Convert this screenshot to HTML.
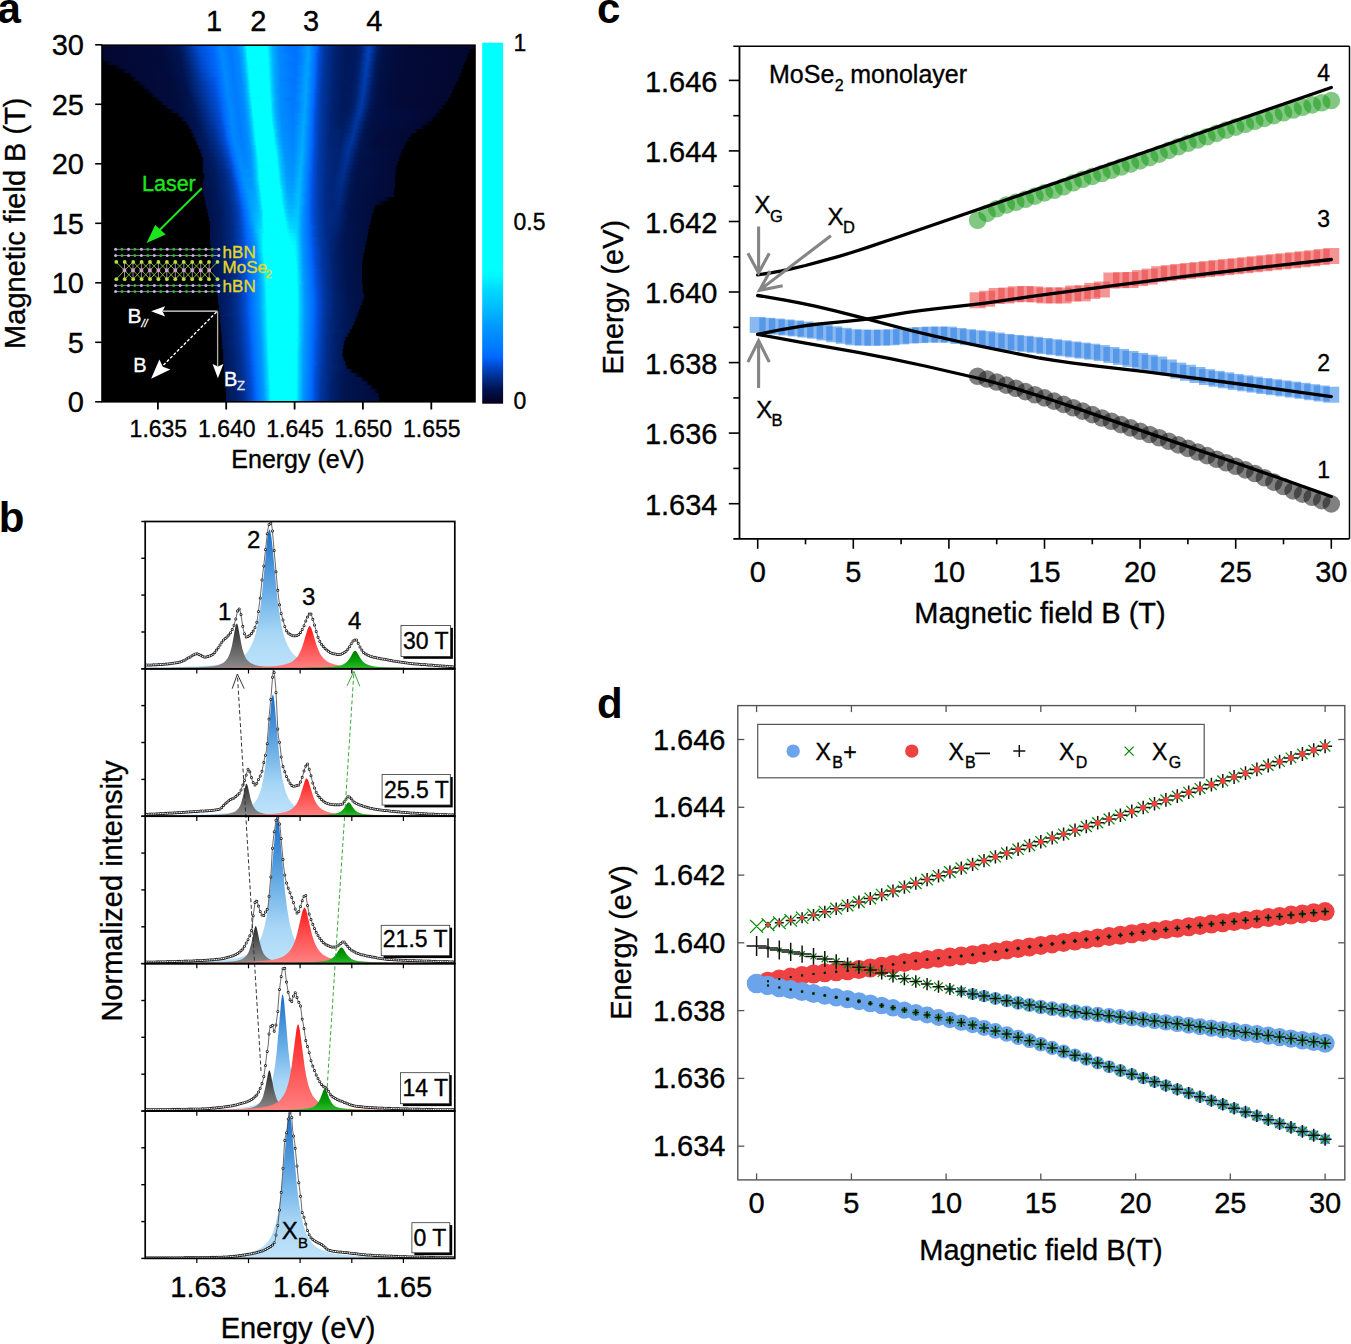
<!DOCTYPE html>
<html><head><meta charset="utf-8"><style>html,body{margin:0;padding:0;background:#fff;overflow:hidden}svg{display:block}text{stroke-width:0.35px}</style></head>
<body><svg width="1351" height="1344" viewBox="0 0 1351 1344" font-family="Liberation Sans, sans-serif">
<defs><linearGradient id="h0"><stop offset="0.001" stop-color="#030832"/><stop offset="0.157" stop-color="#020c3b"/><stop offset="0.205" stop-color="#001553"/><stop offset="0.221" stop-color="#002373"/><stop offset="0.259" stop-color="#004ed7"/><stop offset="0.299" stop-color="#006aff"/><stop offset="0.318" stop-color="#0089ff"/><stop offset="0.342" stop-color="#0076ff"/><stop offset="0.363" stop-color="#0088ff"/><stop offset="0.374" stop-color="#00a6ff"/><stop offset="0.382" stop-color="#00ceff"/><stop offset="0.387" stop-color="#00faff"/><stop offset="0.390" stop-color="#00ffff"/><stop offset="0.441" stop-color="#00ffff"/><stop offset="0.444" stop-color="#00fdff"/><stop offset="0.449" stop-color="#00d5ff"/><stop offset="0.460" stop-color="#00a8ff"/><stop offset="0.476" stop-color="#0088ff"/><stop offset="0.500" stop-color="#0074ff"/><stop offset="0.521" stop-color="#0071ff"/><stop offset="0.532" stop-color="#007aff"/><stop offset="0.554" stop-color="#00a1ff"/><stop offset="0.575" stop-color="#006aff"/><stop offset="0.583" stop-color="#004cd3"/><stop offset="0.597" stop-color="#00369f"/><stop offset="0.626" stop-color="#00216f"/><stop offset="0.658" stop-color="#001859"/><stop offset="0.682" stop-color="#00195c"/><stop offset="0.696" stop-color="#002272"/><stop offset="0.712" stop-color="#003fb4"/><stop offset="0.717" stop-color="#0042bb"/><stop offset="0.739" stop-color="#001b61"/><stop offset="0.757" stop-color="#011046"/><stop offset="0.819" stop-color="#030a37"/><stop offset="0.991" stop-color="#030731"/><stop offset="0.999" stop-color="#01020c"/></linearGradient><linearGradient id="h1"><stop offset="0.001" stop-color="#030832"/><stop offset="0.157" stop-color="#020b3b"/><stop offset="0.205" stop-color="#00144f"/><stop offset="0.224" stop-color="#002373"/><stop offset="0.261" stop-color="#004dd5"/><stop offset="0.299" stop-color="#0068fd"/><stop offset="0.320" stop-color="#008aff"/><stop offset="0.345" stop-color="#0076ff"/><stop offset="0.363" stop-color="#0087ff"/><stop offset="0.377" stop-color="#00adff"/><stop offset="0.390" stop-color="#00ffff"/><stop offset="0.444" stop-color="#00ffff"/><stop offset="0.449" stop-color="#00d8ff"/><stop offset="0.460" stop-color="#00aaff"/><stop offset="0.476" stop-color="#0088ff"/><stop offset="0.500" stop-color="#0075ff"/><stop offset="0.521" stop-color="#0072ff"/><stop offset="0.554" stop-color="#00a1ff"/><stop offset="0.572" stop-color="#006fff"/><stop offset="0.575" stop-color="#0067fd"/><stop offset="0.583" stop-color="#004bd0"/><stop offset="0.597" stop-color="#00359e"/><stop offset="0.623" stop-color="#002271"/><stop offset="0.655" stop-color="#00185a"/><stop offset="0.682" stop-color="#001a5d"/><stop offset="0.696" stop-color="#002475"/><stop offset="0.714" stop-color="#0042ba"/><stop offset="0.720" stop-color="#003daf"/><stop offset="0.739" stop-color="#001a5d"/><stop offset="0.755" stop-color="#011046"/><stop offset="0.814" stop-color="#030a37"/><stop offset="0.983" stop-color="#030731"/><stop offset="0.985" stop-color="#020418"/><stop offset="0.991" stop-color="#000000"/><stop offset="0.999" stop-color="#000000"/></linearGradient><linearGradient id="h2"><stop offset="0.001" stop-color="#030832"/><stop offset="0.157" stop-color="#020b3a"/><stop offset="0.208" stop-color="#00144f"/><stop offset="0.227" stop-color="#002373"/><stop offset="0.264" stop-color="#004cd3"/><stop offset="0.302" stop-color="#0069ff"/><stop offset="0.323" stop-color="#008bff"/><stop offset="0.347" stop-color="#0077ff"/><stop offset="0.366" stop-color="#0089ff"/><stop offset="0.377" stop-color="#00a8ff"/><stop offset="0.385" stop-color="#00d2ff"/><stop offset="0.390" stop-color="#00feff"/><stop offset="0.444" stop-color="#00ffff"/><stop offset="0.452" stop-color="#00ccff"/><stop offset="0.460" stop-color="#00abff"/><stop offset="0.476" stop-color="#0089ff"/><stop offset="0.519" stop-color="#0071ff"/><stop offset="0.529" stop-color="#0079ff"/><stop offset="0.554" stop-color="#00a1ff"/><stop offset="0.572" stop-color="#006eff"/><stop offset="0.580" stop-color="#0050db"/><stop offset="0.597" stop-color="#00359c"/><stop offset="0.623" stop-color="#002270"/><stop offset="0.655" stop-color="#001859"/><stop offset="0.680" stop-color="#00195c"/><stop offset="0.693" stop-color="#002271"/><stop offset="0.709" stop-color="#003eb1"/><stop offset="0.714" stop-color="#0041b8"/><stop offset="0.736" stop-color="#001b60"/><stop offset="0.755" stop-color="#011045"/><stop offset="0.814" stop-color="#030a37"/><stop offset="0.977" stop-color="#030831"/><stop offset="0.985" stop-color="#000000"/><stop offset="0.999" stop-color="#000000"/></linearGradient><linearGradient id="h3"><stop offset="0.001" stop-color="#020625"/><stop offset="0.004" stop-color="#030832"/><stop offset="0.160" stop-color="#020b3b"/><stop offset="0.210" stop-color="#00144f"/><stop offset="0.229" stop-color="#002373"/><stop offset="0.267" stop-color="#004bd1"/><stop offset="0.304" stop-color="#006aff"/><stop offset="0.323" stop-color="#008aff"/><stop offset="0.347" stop-color="#0077ff"/><stop offset="0.366" stop-color="#0087ff"/><stop offset="0.377" stop-color="#00a3ff"/><stop offset="0.385" stop-color="#00cbff"/><stop offset="0.390" stop-color="#00f7ff"/><stop offset="0.393" stop-color="#00ffff"/><stop offset="0.444" stop-color="#00ffff"/><stop offset="0.460" stop-color="#00adff"/><stop offset="0.476" stop-color="#0089ff"/><stop offset="0.519" stop-color="#0072ff"/><stop offset="0.535" stop-color="#0081ff"/><stop offset="0.551" stop-color="#00a2ff"/><stop offset="0.556" stop-color="#009cff"/><stop offset="0.572" stop-color="#006cff"/><stop offset="0.580" stop-color="#004ed8"/><stop offset="0.594" stop-color="#0037a2"/><stop offset="0.623" stop-color="#002270"/><stop offset="0.655" stop-color="#001859"/><stop offset="0.680" stop-color="#001a5d"/><stop offset="0.693" stop-color="#002374"/><stop offset="0.712" stop-color="#0040b7"/><stop offset="0.717" stop-color="#003bac"/><stop offset="0.736" stop-color="#00195c"/><stop offset="0.752" stop-color="#011046"/><stop offset="0.811" stop-color="#030a37"/><stop offset="0.975" stop-color="#030831"/><stop offset="0.980" stop-color="#000000"/><stop offset="0.999" stop-color="#000000"/></linearGradient><linearGradient id="h4"><stop offset="0.001" stop-color="#000000"/><stop offset="0.007" stop-color="#000000"/><stop offset="0.025" stop-color="#030833"/><stop offset="0.162" stop-color="#020b3b"/><stop offset="0.210" stop-color="#00134d"/><stop offset="0.229" stop-color="#00206d"/><stop offset="0.269" stop-color="#004acf"/><stop offset="0.307" stop-color="#006cff"/><stop offset="0.326" stop-color="#008bff"/><stop offset="0.350" stop-color="#0077ff"/><stop offset="0.369" stop-color="#008aff"/><stop offset="0.379" stop-color="#00aaff"/><stop offset="0.387" stop-color="#00d5ff"/><stop offset="0.393" stop-color="#00ffff"/><stop offset="0.444" stop-color="#00ffff"/><stop offset="0.446" stop-color="#00faff"/><stop offset="0.452" stop-color="#00d2ff"/><stop offset="0.460" stop-color="#00afff"/><stop offset="0.476" stop-color="#008aff"/><stop offset="0.500" stop-color="#0076ff"/><stop offset="0.519" stop-color="#0073ff"/><stop offset="0.532" stop-color="#007fff"/><stop offset="0.551" stop-color="#00a2ff"/><stop offset="0.572" stop-color="#006aff"/><stop offset="0.580" stop-color="#004dd5"/><stop offset="0.594" stop-color="#0037a1"/><stop offset="0.623" stop-color="#00216f"/><stop offset="0.653" stop-color="#00185a"/><stop offset="0.677" stop-color="#00195c"/><stop offset="0.690" stop-color="#002270"/><stop offset="0.706" stop-color="#003cae"/><stop offset="0.712" stop-color="#003fb5"/><stop offset="0.733" stop-color="#001b5f"/><stop offset="0.752" stop-color="#011045"/><stop offset="0.811" stop-color="#030a37"/><stop offset="0.969" stop-color="#030831"/><stop offset="0.972" stop-color="#020625"/><stop offset="0.975" stop-color="#000000"/><stop offset="0.999" stop-color="#000000"/></linearGradient><linearGradient id="h5"><stop offset="0.001" stop-color="#000000"/><stop offset="0.031" stop-color="#000000"/><stop offset="0.050" stop-color="#030833"/><stop offset="0.170" stop-color="#020c3b"/><stop offset="0.213" stop-color="#00134d"/><stop offset="0.232" stop-color="#00206d"/><stop offset="0.269" stop-color="#0048c8"/><stop offset="0.310" stop-color="#006dff"/><stop offset="0.326" stop-color="#008aff"/><stop offset="0.350" stop-color="#0078ff"/><stop offset="0.369" stop-color="#0088ff"/><stop offset="0.382" stop-color="#00b2ff"/><stop offset="0.387" stop-color="#00cfff"/><stop offset="0.393" stop-color="#00fcff"/><stop offset="0.444" stop-color="#00ffff"/><stop offset="0.446" stop-color="#00feff"/><stop offset="0.452" stop-color="#00d4ff"/><stop offset="0.462" stop-color="#00a6ff"/><stop offset="0.479" stop-color="#0087ff"/><stop offset="0.519" stop-color="#0073ff"/><stop offset="0.551" stop-color="#00a2ff"/><stop offset="0.572" stop-color="#0069fe"/><stop offset="0.580" stop-color="#004cd2"/><stop offset="0.594" stop-color="#00369f"/><stop offset="0.623" stop-color="#00216f"/><stop offset="0.653" stop-color="#00185a"/><stop offset="0.677" stop-color="#00195d"/><stop offset="0.690" stop-color="#002373"/><stop offset="0.709" stop-color="#003fb4"/><stop offset="0.714" stop-color="#003aa9"/><stop offset="0.733" stop-color="#00195b"/><stop offset="0.749" stop-color="#011046"/><stop offset="0.808" stop-color="#030a37"/><stop offset="0.966" stop-color="#030831"/><stop offset="0.969" stop-color="#01020c"/><stop offset="0.972" stop-color="#000000"/><stop offset="0.999" stop-color="#000000"/></linearGradient><linearGradient id="h6"><stop offset="0.001" stop-color="#000000"/><stop offset="0.052" stop-color="#000000"/><stop offset="0.058" stop-color="#01041a"/><stop offset="0.068" stop-color="#030934"/><stop offset="0.173" stop-color="#020c3c"/><stop offset="0.216" stop-color="#00134d"/><stop offset="0.235" stop-color="#00206d"/><stop offset="0.272" stop-color="#0047c6"/><stop offset="0.310" stop-color="#006aff"/><stop offset="0.328" stop-color="#008aff"/><stop offset="0.353" stop-color="#0078ff"/><stop offset="0.371" stop-color="#008bff"/><stop offset="0.382" stop-color="#00adff"/><stop offset="0.395" stop-color="#00ffff"/><stop offset="0.446" stop-color="#00ffff"/><stop offset="0.452" stop-color="#00d7ff"/><stop offset="0.462" stop-color="#00a8ff"/><stop offset="0.479" stop-color="#0087ff"/><stop offset="0.519" stop-color="#0074ff"/><stop offset="0.551" stop-color="#00a2ff"/><stop offset="0.570" stop-color="#006eff"/><stop offset="0.572" stop-color="#0066fb"/><stop offset="0.580" stop-color="#004acf"/><stop offset="0.594" stop-color="#00359e"/><stop offset="0.621" stop-color="#002271"/><stop offset="0.650" stop-color="#00195b"/><stop offset="0.674" stop-color="#00195c"/><stop offset="0.688" stop-color="#00216f"/><stop offset="0.704" stop-color="#003bab"/><stop offset="0.709" stop-color="#003eb2"/><stop offset="0.731" stop-color="#001a5e"/><stop offset="0.749" stop-color="#011045"/><stop offset="0.808" stop-color="#030a37"/><stop offset="0.961" stop-color="#030831"/><stop offset="0.966" stop-color="#000000"/><stop offset="0.999" stop-color="#000000"/></linearGradient><linearGradient id="h7"><stop offset="0.001" stop-color="#000000"/><stop offset="0.071" stop-color="#000000"/><stop offset="0.082" stop-color="#030934"/><stop offset="0.178" stop-color="#020c3c"/><stop offset="0.218" stop-color="#00134e"/><stop offset="0.237" stop-color="#00206c"/><stop offset="0.275" stop-color="#0046c4"/><stop offset="0.312" stop-color="#006cff"/><stop offset="0.331" stop-color="#008bff"/><stop offset="0.353" stop-color="#0078ff"/><stop offset="0.371" stop-color="#0089ff"/><stop offset="0.382" stop-color="#00a8ff"/><stop offset="0.390" stop-color="#00d3ff"/><stop offset="0.395" stop-color="#00ffff"/><stop offset="0.446" stop-color="#00ffff"/><stop offset="0.454" stop-color="#00ccff"/><stop offset="0.462" stop-color="#00aaff"/><stop offset="0.479" stop-color="#0088ff"/><stop offset="0.519" stop-color="#0075ff"/><stop offset="0.532" stop-color="#0083ff"/><stop offset="0.548" stop-color="#00a3ff"/><stop offset="0.554" stop-color="#009dff"/><stop offset="0.570" stop-color="#006dff"/><stop offset="0.578" stop-color="#004fda"/><stop offset="0.594" stop-color="#00359c"/><stop offset="0.621" stop-color="#002270"/><stop offset="0.650" stop-color="#00195b"/><stop offset="0.674" stop-color="#00195d"/><stop offset="0.688" stop-color="#002372"/><stop offset="0.706" stop-color="#003db1"/><stop offset="0.712" stop-color="#0039a5"/><stop offset="0.731" stop-color="#00185a"/><stop offset="0.749" stop-color="#010f44"/><stop offset="0.808" stop-color="#030a37"/><stop offset="0.956" stop-color="#030831"/><stop offset="0.964" stop-color="#000000"/><stop offset="0.999" stop-color="#000000"/></linearGradient><linearGradient id="h8"><stop offset="0.001" stop-color="#000000"/><stop offset="0.082" stop-color="#000000"/><stop offset="0.092" stop-color="#030935"/><stop offset="0.184" stop-color="#020c3d"/><stop offset="0.221" stop-color="#00134e"/><stop offset="0.240" stop-color="#00206c"/><stop offset="0.277" stop-color="#0045c3"/><stop offset="0.302" stop-color="#0057e6"/><stop offset="0.315" stop-color="#006dff"/><stop offset="0.331" stop-color="#008aff"/><stop offset="0.355" stop-color="#0079ff"/><stop offset="0.374" stop-color="#008cff"/><stop offset="0.385" stop-color="#00b0ff"/><stop offset="0.390" stop-color="#00ccff"/><stop offset="0.395" stop-color="#00faff"/><stop offset="0.398" stop-color="#00ffff"/><stop offset="0.446" stop-color="#00ffff"/><stop offset="0.462" stop-color="#00abff"/><stop offset="0.479" stop-color="#0088ff"/><stop offset="0.500" stop-color="#0077ff"/><stop offset="0.519" stop-color="#0076ff"/><stop offset="0.548" stop-color="#00a3ff"/><stop offset="0.570" stop-color="#006bff"/><stop offset="0.578" stop-color="#004ed7"/><stop offset="0.591" stop-color="#0037a2"/><stop offset="0.621" stop-color="#002270"/><stop offset="0.650" stop-color="#00195b"/><stop offset="0.672" stop-color="#00195c"/><stop offset="0.685" stop-color="#00216e"/><stop offset="0.701" stop-color="#003aa8"/><stop offset="0.706" stop-color="#003cae"/><stop offset="0.728" stop-color="#001a5d"/><stop offset="0.747" stop-color="#010f45"/><stop offset="0.803" stop-color="#030a37"/><stop offset="0.953" stop-color="#030831"/><stop offset="0.958" stop-color="#000000"/><stop offset="0.999" stop-color="#000000"/></linearGradient><linearGradient id="h9"><stop offset="0.001" stop-color="#000000"/><stop offset="0.092" stop-color="#000000"/><stop offset="0.098" stop-color="#01020d"/><stop offset="0.106" stop-color="#030935"/><stop offset="0.186" stop-color="#020c3d"/><stop offset="0.224" stop-color="#00134e"/><stop offset="0.299" stop-color="#0052de"/><stop offset="0.315" stop-color="#006aff"/><stop offset="0.334" stop-color="#008bff"/><stop offset="0.355" stop-color="#0079ff"/><stop offset="0.374" stop-color="#008aff"/><stop offset="0.385" stop-color="#00aaff"/><stop offset="0.398" stop-color="#00ffff"/><stop offset="0.446" stop-color="#00ffff"/><stop offset="0.449" stop-color="#00fbff"/><stop offset="0.454" stop-color="#00d1ff"/><stop offset="0.462" stop-color="#00adff"/><stop offset="0.479" stop-color="#0089ff"/><stop offset="0.516" stop-color="#0075ff"/><stop offset="0.529" stop-color="#0081ff"/><stop offset="0.548" stop-color="#00a4ff"/><stop offset="0.570" stop-color="#006aff"/><stop offset="0.578" stop-color="#004dd4"/><stop offset="0.591" stop-color="#0037a1"/><stop offset="0.621" stop-color="#00216f"/><stop offset="0.650" stop-color="#00195b"/><stop offset="0.672" stop-color="#00195d"/><stop offset="0.685" stop-color="#002271"/><stop offset="0.704" stop-color="#003cae"/><stop offset="0.709" stop-color="#0037a2"/><stop offset="0.728" stop-color="#001859"/><stop offset="0.747" stop-color="#010f44"/><stop offset="0.803" stop-color="#030a37"/><stop offset="0.948" stop-color="#030831"/><stop offset="0.953" stop-color="#000000"/><stop offset="0.999" stop-color="#000000"/></linearGradient><linearGradient id="h10"><stop offset="0.001" stop-color="#000000"/><stop offset="0.106" stop-color="#000000"/><stop offset="0.119" stop-color="#030936"/><stop offset="0.192" stop-color="#020d3e"/><stop offset="0.227" stop-color="#00134e"/><stop offset="0.302" stop-color="#0051de"/><stop offset="0.318" stop-color="#006cff"/><stop offset="0.334" stop-color="#008aff"/><stop offset="0.358" stop-color="#007aff"/><stop offset="0.377" stop-color="#008dff"/><stop offset="0.382" stop-color="#009aff"/><stop offset="0.390" stop-color="#00c1ff"/><stop offset="0.398" stop-color="#00feff"/><stop offset="0.446" stop-color="#00ffff"/><stop offset="0.449" stop-color="#00feff"/><stop offset="0.454" stop-color="#00d4ff"/><stop offset="0.465" stop-color="#00a5ff"/><stop offset="0.479" stop-color="#0089ff"/><stop offset="0.516" stop-color="#0076ff"/><stop offset="0.548" stop-color="#00a4ff"/><stop offset="0.570" stop-color="#0068fd"/><stop offset="0.578" stop-color="#004bd1"/><stop offset="0.591" stop-color="#00369f"/><stop offset="0.621" stop-color="#00216f"/><stop offset="0.650" stop-color="#00185a"/><stop offset="0.672" stop-color="#001a5e"/><stop offset="0.682" stop-color="#00216e"/><stop offset="0.698" stop-color="#0039a5"/><stop offset="0.704" stop-color="#003bab"/><stop offset="0.725" stop-color="#00195c"/><stop offset="0.744" stop-color="#010f44"/><stop offset="0.800" stop-color="#030a37"/><stop offset="0.942" stop-color="#030831"/><stop offset="0.948" stop-color="#000000"/><stop offset="0.999" stop-color="#000000"/></linearGradient><linearGradient id="h11"><stop offset="0.001" stop-color="#000000"/><stop offset="0.119" stop-color="#000000"/><stop offset="0.130" stop-color="#030a36"/><stop offset="0.197" stop-color="#020d3e"/><stop offset="0.229" stop-color="#00134e"/><stop offset="0.304" stop-color="#0051dd"/><stop offset="0.320" stop-color="#006dff"/><stop offset="0.336" stop-color="#008aff"/><stop offset="0.358" stop-color="#007aff"/><stop offset="0.377" stop-color="#008aff"/><stop offset="0.387" stop-color="#00adff"/><stop offset="0.395" stop-color="#00dcff"/><stop offset="0.398" stop-color="#00f7ff"/><stop offset="0.401" stop-color="#00ffff"/><stop offset="0.449" stop-color="#00ffff"/><stop offset="0.454" stop-color="#00d7ff"/><stop offset="0.462" stop-color="#00b1ff"/><stop offset="0.471" stop-color="#0096ff"/><stop offset="0.479" stop-color="#008aff"/><stop offset="0.516" stop-color="#0077ff"/><stop offset="0.529" stop-color="#0084ff"/><stop offset="0.546" stop-color="#00a4ff"/><stop offset="0.551" stop-color="#009eff"/><stop offset="0.567" stop-color="#006eff"/><stop offset="0.575" stop-color="#0050dc"/><stop offset="0.591" stop-color="#00359e"/><stop offset="0.618" stop-color="#002271"/><stop offset="0.647" stop-color="#00195b"/><stop offset="0.669" stop-color="#00195d"/><stop offset="0.682" stop-color="#002270"/><stop offset="0.701" stop-color="#003baa"/><stop offset="0.706" stop-color="#00369f"/><stop offset="0.725" stop-color="#001758"/><stop offset="0.744" stop-color="#010f43"/><stop offset="0.800" stop-color="#030a37"/><stop offset="0.937" stop-color="#030831"/><stop offset="0.942" stop-color="#000000"/><stop offset="0.999" stop-color="#000000"/></linearGradient><linearGradient id="h12"><stop offset="0.001" stop-color="#000000"/><stop offset="0.130" stop-color="#000000"/><stop offset="0.141" stop-color="#030a37"/><stop offset="0.200" stop-color="#020d3e"/><stop offset="0.232" stop-color="#00134e"/><stop offset="0.304" stop-color="#004ed8"/><stop offset="0.320" stop-color="#006bff"/><stop offset="0.336" stop-color="#0089ff"/><stop offset="0.361" stop-color="#007aff"/><stop offset="0.379" stop-color="#008dff"/><stop offset="0.390" stop-color="#00b5ff"/><stop offset="0.401" stop-color="#00ffff"/><stop offset="0.449" stop-color="#00ffff"/><stop offset="0.457" stop-color="#00cbff"/><stop offset="0.465" stop-color="#00a8ff"/><stop offset="0.479" stop-color="#008aff"/><stop offset="0.516" stop-color="#0078ff"/><stop offset="0.546" stop-color="#00a5ff"/><stop offset="0.567" stop-color="#006cff"/><stop offset="0.575" stop-color="#004fd9"/><stop offset="0.588" stop-color="#0038a4"/><stop offset="0.618" stop-color="#002271"/><stop offset="0.647" stop-color="#00195b"/><stop offset="0.669" stop-color="#001a5e"/><stop offset="0.680" stop-color="#00206d"/><stop offset="0.696" stop-color="#0037a2"/><stop offset="0.701" stop-color="#003aa8"/><stop offset="0.723" stop-color="#00195b"/><stop offset="0.741" stop-color="#010f44"/><stop offset="0.795" stop-color="#020a37"/><stop offset="0.932" stop-color="#030831"/><stop offset="0.937" stop-color="#000000"/><stop offset="0.999" stop-color="#000000"/></linearGradient><linearGradient id="h13"><stop offset="0.001" stop-color="#000000"/><stop offset="0.141" stop-color="#000000"/><stop offset="0.154" stop-color="#020a38"/><stop offset="0.210" stop-color="#020e41"/><stop offset="0.240" stop-color="#001654"/><stop offset="0.307" stop-color="#004ed8"/><stop offset="0.323" stop-color="#006cff"/><stop offset="0.339" stop-color="#008aff"/><stop offset="0.361" stop-color="#007aff"/><stop offset="0.379" stop-color="#008bff"/><stop offset="0.390" stop-color="#00b0ff"/><stop offset="0.395" stop-color="#00cdff"/><stop offset="0.401" stop-color="#00fcff"/><stop offset="0.449" stop-color="#00ffff"/><stop offset="0.465" stop-color="#00aaff"/><stop offset="0.479" stop-color="#008bff"/><stop offset="0.500" stop-color="#0079ff"/><stop offset="0.516" stop-color="#0079ff"/><stop offset="0.546" stop-color="#00a5ff"/><stop offset="0.567" stop-color="#006aff"/><stop offset="0.575" stop-color="#004ed6"/><stop offset="0.588" stop-color="#0037a2"/><stop offset="0.618" stop-color="#002270"/><stop offset="0.645" stop-color="#00195c"/><stop offset="0.666" stop-color="#00195d"/><stop offset="0.680" stop-color="#002270"/><stop offset="0.698" stop-color="#0039a7"/><stop offset="0.723" stop-color="#001757"/><stop offset="0.741" stop-color="#010f43"/><stop offset="0.795" stop-color="#020a37"/><stop offset="0.926" stop-color="#030831"/><stop offset="0.932" stop-color="#000000"/><stop offset="0.999" stop-color="#000000"/></linearGradient><linearGradient id="h14"><stop offset="0.001" stop-color="#000000"/><stop offset="0.154" stop-color="#000000"/><stop offset="0.165" stop-color="#020b39"/><stop offset="0.216" stop-color="#010e42"/><stop offset="0.245" stop-color="#001858"/><stop offset="0.310" stop-color="#004fd9"/><stop offset="0.326" stop-color="#006eff"/><stop offset="0.342" stop-color="#008aff"/><stop offset="0.363" stop-color="#007aff"/><stop offset="0.379" stop-color="#0089ff"/><stop offset="0.390" stop-color="#00aaff"/><stop offset="0.403" stop-color="#00ffff"/><stop offset="0.449" stop-color="#00ffff"/><stop offset="0.452" stop-color="#00fbff"/><stop offset="0.457" stop-color="#00d0ff"/><stop offset="0.465" stop-color="#00abff"/><stop offset="0.479" stop-color="#008bff"/><stop offset="0.513" stop-color="#0078ff"/><stop offset="0.527" stop-color="#0084ff"/><stop offset="0.546" stop-color="#00a5ff"/><stop offset="0.567" stop-color="#0069ff"/><stop offset="0.575" stop-color="#004cd3"/><stop offset="0.588" stop-color="#0037a1"/><stop offset="0.618" stop-color="#00216f"/><stop offset="0.645" stop-color="#00195c"/><stop offset="0.666" stop-color="#001a5e"/><stop offset="0.677" stop-color="#00206c"/><stop offset="0.693" stop-color="#0036a0"/><stop offset="0.698" stop-color="#0038a5"/><stop offset="0.720" stop-color="#00185a"/><stop offset="0.739" stop-color="#010f44"/><stop offset="0.790" stop-color="#020a37"/><stop offset="0.916" stop-color="#030832"/><stop offset="0.926" stop-color="#000000"/><stop offset="0.999" stop-color="#000000"/></linearGradient><linearGradient id="h15"><stop offset="0.001" stop-color="#000000"/><stop offset="0.165" stop-color="#000000"/><stop offset="0.168" stop-color="#01030e"/><stop offset="0.170" stop-color="#01030e"/><stop offset="0.178" stop-color="#020b3a"/><stop offset="0.224" stop-color="#010f44"/><stop offset="0.251" stop-color="#00195c"/><stop offset="0.312" stop-color="#004fd9"/><stop offset="0.326" stop-color="#006bff"/><stop offset="0.342" stop-color="#008aff"/><stop offset="0.363" stop-color="#007bff"/><stop offset="0.382" stop-color="#008cff"/><stop offset="0.393" stop-color="#00b2ff"/><stop offset="0.398" stop-color="#00d1ff"/><stop offset="0.403" stop-color="#00ffff"/><stop offset="0.452" stop-color="#00ffff"/><stop offset="0.457" stop-color="#00d3ff"/><stop offset="0.465" stop-color="#00adff"/><stop offset="0.479" stop-color="#008cff"/><stop offset="0.513" stop-color="#0079ff"/><stop offset="0.527" stop-color="#0085ff"/><stop offset="0.543" stop-color="#00a6ff"/><stop offset="0.548" stop-color="#009fff"/><stop offset="0.564" stop-color="#006eff"/><stop offset="0.567" stop-color="#0066fb"/><stop offset="0.575" stop-color="#004bd1"/><stop offset="0.588" stop-color="#0036a0"/><stop offset="0.618" stop-color="#00216f"/><stop offset="0.642" stop-color="#001a5d"/><stop offset="0.664" stop-color="#001a5e"/><stop offset="0.674" stop-color="#00206c"/><stop offset="0.690" stop-color="#00359e"/><stop offset="0.696" stop-color="#0038a4"/><stop offset="0.717" stop-color="#00185a"/><stop offset="0.736" stop-color="#010f44"/><stop offset="0.787" stop-color="#020a38"/><stop offset="0.908" stop-color="#030832"/><stop offset="0.918" stop-color="#000000"/><stop offset="0.999" stop-color="#000000"/></linearGradient><linearGradient id="h16"><stop offset="0.001" stop-color="#000000"/><stop offset="0.178" stop-color="#000000"/><stop offset="0.186" stop-color="#01061d"/><stop offset="0.189" stop-color="#01061d"/><stop offset="0.194" stop-color="#020c3c"/><stop offset="0.237" stop-color="#01124a"/><stop offset="0.259" stop-color="#001d65"/><stop offset="0.312" stop-color="#004cd3"/><stop offset="0.328" stop-color="#006dff"/><stop offset="0.345" stop-color="#008aff"/><stop offset="0.366" stop-color="#007aff"/><stop offset="0.382" stop-color="#008aff"/><stop offset="0.393" stop-color="#00acff"/><stop offset="0.401" stop-color="#00ddff"/><stop offset="0.403" stop-color="#00f9ff"/><stop offset="0.406" stop-color="#00ffff"/><stop offset="0.452" stop-color="#00ffff"/><stop offset="0.457" stop-color="#00d7ff"/><stop offset="0.465" stop-color="#00b0ff"/><stop offset="0.479" stop-color="#008cff"/><stop offset="0.513" stop-color="#007aff"/><stop offset="0.527" stop-color="#0087ff"/><stop offset="0.543" stop-color="#00a6ff"/><stop offset="0.564" stop-color="#006dff"/><stop offset="0.572" stop-color="#0050dc"/><stop offset="0.588" stop-color="#00369e"/><stop offset="0.615" stop-color="#002272"/><stop offset="0.639" stop-color="#001a5f"/><stop offset="0.661" stop-color="#001a5f"/><stop offset="0.672" stop-color="#00206d"/><stop offset="0.688" stop-color="#00359e"/><stop offset="0.693" stop-color="#0037a2"/><stop offset="0.714" stop-color="#001859"/><stop offset="0.733" stop-color="#010f44"/><stop offset="0.899" stop-color="#030832"/><stop offset="0.905" stop-color="#020419"/><stop offset="0.908" stop-color="#000000"/><stop offset="0.999" stop-color="#000000"/></linearGradient><linearGradient id="h17"><stop offset="0.001" stop-color="#000000"/><stop offset="0.197" stop-color="#000000"/><stop offset="0.200" stop-color="#00030f"/><stop offset="0.202" stop-color="#00030f"/><stop offset="0.210" stop-color="#020d3e"/><stop offset="0.243" stop-color="#00134c"/><stop offset="0.259" stop-color="#001b60"/><stop offset="0.315" stop-color="#004cd3"/><stop offset="0.328" stop-color="#006aff"/><stop offset="0.331" stop-color="#0070ff"/><stop offset="0.345" stop-color="#0089ff"/><stop offset="0.366" stop-color="#007aff"/><stop offset="0.385" stop-color="#008cff"/><stop offset="0.395" stop-color="#00b3ff"/><stop offset="0.406" stop-color="#00ffff"/><stop offset="0.452" stop-color="#00ffff"/><stop offset="0.454" stop-color="#00f7ff"/><stop offset="0.460" stop-color="#00cdff"/><stop offset="0.468" stop-color="#00a8ff"/><stop offset="0.481" stop-color="#008aff"/><stop offset="0.513" stop-color="#007bff"/><stop offset="0.543" stop-color="#00a6ff"/><stop offset="0.564" stop-color="#006bff"/><stop offset="0.572" stop-color="#004fd9"/><stop offset="0.586" stop-color="#0038a5"/><stop offset="0.615" stop-color="#002271"/><stop offset="0.639" stop-color="#001b5f"/><stop offset="0.658" stop-color="#001b60"/><stop offset="0.669" stop-color="#00216e"/><stop offset="0.688" stop-color="#0037a2"/><stop offset="0.693" stop-color="#00349b"/><stop offset="0.712" stop-color="#001858"/><stop offset="0.731" stop-color="#010f44"/><stop offset="0.891" stop-color="#030832"/><stop offset="0.899" stop-color="#000000"/><stop offset="0.999" stop-color="#000000"/></linearGradient><linearGradient id="h18"><stop offset="0.001" stop-color="#000000"/><stop offset="0.210" stop-color="#000000"/><stop offset="0.221" stop-color="#020e41"/><stop offset="0.248" stop-color="#00134e"/><stop offset="0.267" stop-color="#001f69"/><stop offset="0.315" stop-color="#0049cc"/><stop offset="0.331" stop-color="#006cff"/><stop offset="0.347" stop-color="#008aff"/><stop offset="0.369" stop-color="#007aff"/><stop offset="0.385" stop-color="#008aff"/><stop offset="0.395" stop-color="#00adff"/><stop offset="0.403" stop-color="#00deff"/><stop offset="0.406" stop-color="#00fbff"/><stop offset="0.409" stop-color="#00ffff"/><stop offset="0.452" stop-color="#00ffff"/><stop offset="0.454" stop-color="#00feff"/><stop offset="0.460" stop-color="#00d3ff"/><stop offset="0.468" stop-color="#00adff"/><stop offset="0.481" stop-color="#008cff"/><stop offset="0.513" stop-color="#007cff"/><stop offset="0.543" stop-color="#00a7ff"/><stop offset="0.564" stop-color="#006aff"/><stop offset="0.572" stop-color="#004ed7"/><stop offset="0.586" stop-color="#0038a4"/><stop offset="0.615" stop-color="#002271"/><stop offset="0.637" stop-color="#001b61"/><stop offset="0.655" stop-color="#001c62"/><stop offset="0.666" stop-color="#00216f"/><stop offset="0.685" stop-color="#0037a2"/><stop offset="0.690" stop-color="#003399"/><stop offset="0.709" stop-color="#001758"/><stop offset="0.728" stop-color="#010f44"/><stop offset="0.881" stop-color="#030832"/><stop offset="0.891" stop-color="#000000"/><stop offset="0.999" stop-color="#000000"/></linearGradient><linearGradient id="h19"><stop offset="0.001" stop-color="#000000"/><stop offset="0.221" stop-color="#000000"/><stop offset="0.232" stop-color="#010f44"/><stop offset="0.253" stop-color="#001451"/><stop offset="0.277" stop-color="#002476"/><stop offset="0.318" stop-color="#0049cd"/><stop offset="0.331" stop-color="#0069fe"/><stop offset="0.334" stop-color="#006fff"/><stop offset="0.347" stop-color="#0089ff"/><stop offset="0.369" stop-color="#007bff"/><stop offset="0.387" stop-color="#008dff"/><stop offset="0.398" stop-color="#00b6ff"/><stop offset="0.409" stop-color="#00ffff"/><stop offset="0.454" stop-color="#00ffff"/><stop offset="0.468" stop-color="#00b2ff"/><stop offset="0.481" stop-color="#008eff"/><stop offset="0.513" stop-color="#007eff"/><stop offset="0.524" stop-color="#0087ff"/><stop offset="0.540" stop-color="#00a8ff"/><stop offset="0.546" stop-color="#00a1ff"/><stop offset="0.564" stop-color="#0069ff"/><stop offset="0.572" stop-color="#004dd5"/><stop offset="0.586" stop-color="#0038a3"/><stop offset="0.613" stop-color="#002474"/><stop offset="0.634" stop-color="#001c63"/><stop offset="0.653" stop-color="#001c63"/><stop offset="0.664" stop-color="#002271"/><stop offset="0.682" stop-color="#0037a1"/><stop offset="0.706" stop-color="#001757"/><stop offset="0.725" stop-color="#010f44"/><stop offset="0.867" stop-color="#030833"/><stop offset="0.881" stop-color="#000000"/><stop offset="0.999" stop-color="#000000"/></linearGradient><linearGradient id="h20"><stop offset="0.001" stop-color="#000000"/><stop offset="0.229" stop-color="#000000"/><stop offset="0.237" stop-color="#011045"/><stop offset="0.261" stop-color="#001758"/><stop offset="0.296" stop-color="#003194"/><stop offset="0.323" stop-color="#004ed7"/><stop offset="0.334" stop-color="#006bff"/><stop offset="0.350" stop-color="#0089ff"/><stop offset="0.371" stop-color="#007bff"/><stop offset="0.387" stop-color="#008bff"/><stop offset="0.398" stop-color="#00b0ff"/><stop offset="0.403" stop-color="#00cfff"/><stop offset="0.409" stop-color="#00feff"/><stop offset="0.454" stop-color="#00ffff"/><stop offset="0.457" stop-color="#00fdff"/><stop offset="0.462" stop-color="#00d2ff"/><stop offset="0.471" stop-color="#00adff"/><stop offset="0.484" stop-color="#008cff"/><stop offset="0.513" stop-color="#007fff"/><stop offset="0.540" stop-color="#00a9ff"/><stop offset="0.562" stop-color="#006fff"/><stop offset="0.564" stop-color="#0067fc"/><stop offset="0.572" stop-color="#004cd3"/><stop offset="0.586" stop-color="#0037a2"/><stop offset="0.613" stop-color="#002474"/><stop offset="0.634" stop-color="#001d64"/><stop offset="0.650" stop-color="#001d65"/><stop offset="0.661" stop-color="#002372"/><stop offset="0.680" stop-color="#0036a0"/><stop offset="0.704" stop-color="#001757"/><stop offset="0.723" stop-color="#010f44"/><stop offset="0.851" stop-color="#030933"/><stop offset="0.857" stop-color="#020626"/><stop offset="0.865" stop-color="#000000"/><stop offset="0.999" stop-color="#000000"/></linearGradient><linearGradient id="h21"><stop offset="0.001" stop-color="#000000"/><stop offset="0.235" stop-color="#000000"/><stop offset="0.243" stop-color="#011047"/><stop offset="0.264" stop-color="#001757"/><stop offset="0.299" stop-color="#003092"/><stop offset="0.326" stop-color="#004fd9"/><stop offset="0.336" stop-color="#006dff"/><stop offset="0.350" stop-color="#0089ff"/><stop offset="0.371" stop-color="#007cff"/><stop offset="0.390" stop-color="#008fff"/><stop offset="0.398" stop-color="#00abff"/><stop offset="0.406" stop-color="#00daff"/><stop offset="0.409" stop-color="#00f7ff"/><stop offset="0.412" stop-color="#00ffff"/><stop offset="0.457" stop-color="#00ffff"/><stop offset="0.471" stop-color="#00b2ff"/><stop offset="0.484" stop-color="#008eff"/><stop offset="0.513" stop-color="#0080ff"/><stop offset="0.540" stop-color="#00a9ff"/><stop offset="0.562" stop-color="#006dff"/><stop offset="0.572" stop-color="#004bd1"/><stop offset="0.586" stop-color="#0037a2"/><stop offset="0.613" stop-color="#002475"/><stop offset="0.647" stop-color="#001e66"/><stop offset="0.658" stop-color="#002374"/><stop offset="0.677" stop-color="#0036a0"/><stop offset="0.698" stop-color="#00195c"/><stop offset="0.709" stop-color="#00124b"/><stop offset="0.749" stop-color="#020c3b"/><stop offset="0.838" stop-color="#030934"/><stop offset="0.846" stop-color="#01020d"/><stop offset="0.851" stop-color="#000000"/><stop offset="0.999" stop-color="#000000"/></linearGradient><linearGradient id="h22"><stop offset="0.001" stop-color="#000000"/><stop offset="0.240" stop-color="#000000"/><stop offset="0.248" stop-color="#011148"/><stop offset="0.272" stop-color="#001a5e"/><stop offset="0.304" stop-color="#003296"/><stop offset="0.326" stop-color="#004bd1"/><stop offset="0.336" stop-color="#006aff"/><stop offset="0.339" stop-color="#0070ff"/><stop offset="0.353" stop-color="#0089ff"/><stop offset="0.374" stop-color="#007cff"/><stop offset="0.390" stop-color="#008dff"/><stop offset="0.401" stop-color="#00b4ff"/><stop offset="0.412" stop-color="#00ffff"/><stop offset="0.457" stop-color="#00ffff"/><stop offset="0.460" stop-color="#00fdff"/><stop offset="0.465" stop-color="#00d2ff"/><stop offset="0.473" stop-color="#00adff"/><stop offset="0.484" stop-color="#0090ff"/><stop offset="0.513" stop-color="#0082ff"/><stop offset="0.540" stop-color="#00aaff"/><stop offset="0.562" stop-color="#006cff"/><stop offset="0.570" stop-color="#0050dc"/><stop offset="0.583" stop-color="#003aa8"/><stop offset="0.610" stop-color="#002578"/><stop offset="0.645" stop-color="#001e68"/><stop offset="0.674" stop-color="#00369f"/><stop offset="0.693" stop-color="#001c63"/><stop offset="0.704" stop-color="#00134d"/><stop offset="0.741" stop-color="#020c3c"/><stop offset="0.824" stop-color="#030934"/><stop offset="0.835" stop-color="#000000"/><stop offset="0.999" stop-color="#000000"/></linearGradient><linearGradient id="h23"><stop offset="0.001" stop-color="#000000"/><stop offset="0.245" stop-color="#000000"/><stop offset="0.253" stop-color="#01124a"/><stop offset="0.275" stop-color="#001a5e"/><stop offset="0.307" stop-color="#003295"/><stop offset="0.328" stop-color="#004cd3"/><stop offset="0.339" stop-color="#006cff"/><stop offset="0.353" stop-color="#0088ff"/><stop offset="0.374" stop-color="#007dff"/><stop offset="0.390" stop-color="#008bff"/><stop offset="0.401" stop-color="#00aeff"/><stop offset="0.406" stop-color="#00ccff"/><stop offset="0.412" stop-color="#00fbff"/><stop offset="0.414" stop-color="#00ffff"/><stop offset="0.460" stop-color="#00ffff"/><stop offset="0.471" stop-color="#00beff"/><stop offset="0.484" stop-color="#0092ff"/><stop offset="0.513" stop-color="#0083ff"/><stop offset="0.538" stop-color="#00abff"/><stop offset="0.562" stop-color="#006bff"/><stop offset="0.570" stop-color="#004fdb"/><stop offset="0.583" stop-color="#003aa8"/><stop offset="0.610" stop-color="#002578"/><stop offset="0.642" stop-color="#001f6a"/><stop offset="0.672" stop-color="#00369e"/><stop offset="0.690" stop-color="#001c62"/><stop offset="0.701" stop-color="#00134d"/><stop offset="0.739" stop-color="#020c3c"/><stop offset="0.819" stop-color="#030935"/><stop offset="0.822" stop-color="#01041a"/><stop offset="0.827" stop-color="#000000"/><stop offset="0.999" stop-color="#000000"/></linearGradient><linearGradient id="h24"><stop offset="0.001" stop-color="#000000"/><stop offset="0.251" stop-color="#000000"/><stop offset="0.256" stop-color="#01124a"/><stop offset="0.280" stop-color="#001b61"/><stop offset="0.310" stop-color="#003193"/><stop offset="0.331" stop-color="#004cd2"/><stop offset="0.342" stop-color="#006cff"/><stop offset="0.355" stop-color="#0088ff"/><stop offset="0.377" stop-color="#007eff"/><stop offset="0.393" stop-color="#008eff"/><stop offset="0.403" stop-color="#00b5ff"/><stop offset="0.414" stop-color="#00ffff"/><stop offset="0.460" stop-color="#00ffff"/><stop offset="0.462" stop-color="#00fdff"/><stop offset="0.468" stop-color="#00d3ff"/><stop offset="0.476" stop-color="#00aeff"/><stop offset="0.487" stop-color="#0091ff"/><stop offset="0.513" stop-color="#0085ff"/><stop offset="0.538" stop-color="#00acff"/><stop offset="0.562" stop-color="#006aff"/><stop offset="0.570" stop-color="#004fd9"/><stop offset="0.583" stop-color="#0039a7"/><stop offset="0.610" stop-color="#002578"/><stop offset="0.639" stop-color="#00206c"/><stop offset="0.669" stop-color="#00359c"/><stop offset="0.688" stop-color="#001b61"/><stop offset="0.698" stop-color="#00134d"/><stop offset="0.733" stop-color="#020c3d"/><stop offset="0.811" stop-color="#030935"/><stop offset="0.816" stop-color="#01051a"/><stop offset="0.819" stop-color="#000000"/><stop offset="0.999" stop-color="#000000"/></linearGradient><linearGradient id="h25"><stop offset="0.001" stop-color="#000000"/><stop offset="0.256" stop-color="#000000"/><stop offset="0.259" stop-color="#000d38"/><stop offset="0.261" stop-color="#00124b"/><stop offset="0.286" stop-color="#001d64"/><stop offset="0.315" stop-color="#003296"/><stop offset="0.334" stop-color="#004bd0"/><stop offset="0.345" stop-color="#006cff"/><stop offset="0.358" stop-color="#0089ff"/><stop offset="0.379" stop-color="#007fff"/><stop offset="0.395" stop-color="#0091ff"/><stop offset="0.403" stop-color="#00aeff"/><stop offset="0.412" stop-color="#00deff"/><stop offset="0.414" stop-color="#00f9ff"/><stop offset="0.417" stop-color="#00ffff"/><stop offset="0.462" stop-color="#00ffff"/><stop offset="0.465" stop-color="#00f7ff"/><stop offset="0.473" stop-color="#00c1ff"/><stop offset="0.487" stop-color="#0094ff"/><stop offset="0.513" stop-color="#0087ff"/><stop offset="0.538" stop-color="#00adff"/><stop offset="0.562" stop-color="#0069fe"/><stop offset="0.570" stop-color="#004ed7"/><stop offset="0.583" stop-color="#0039a6"/><stop offset="0.607" stop-color="#00277b"/><stop offset="0.637" stop-color="#00206d"/><stop offset="0.664" stop-color="#00349c"/><stop offset="0.693" stop-color="#001450"/><stop offset="0.728" stop-color="#020d3e"/><stop offset="0.806" stop-color="#030935"/><stop offset="0.814" stop-color="#000000"/><stop offset="0.999" stop-color="#000000"/></linearGradient><linearGradient id="h26"><stop offset="0.001" stop-color="#000000"/><stop offset="0.259" stop-color="#000000"/><stop offset="0.267" stop-color="#00134d"/><stop offset="0.291" stop-color="#001e67"/><stop offset="0.318" stop-color="#003194"/><stop offset="0.336" stop-color="#004ace"/><stop offset="0.347" stop-color="#006cff"/><stop offset="0.361" stop-color="#0089ff"/><stop offset="0.382" stop-color="#0081ff"/><stop offset="0.398" stop-color="#0094ff"/><stop offset="0.409" stop-color="#00c3ff"/><stop offset="0.417" stop-color="#00ffff"/><stop offset="0.465" stop-color="#00ffff"/><stop offset="0.476" stop-color="#00bdff"/><stop offset="0.489" stop-color="#0094ff"/><stop offset="0.513" stop-color="#0089ff"/><stop offset="0.538" stop-color="#00aeff"/><stop offset="0.559" stop-color="#006eff"/><stop offset="0.562" stop-color="#0067fc"/><stop offset="0.570" stop-color="#004dd5"/><stop offset="0.583" stop-color="#0039a6"/><stop offset="0.607" stop-color="#00277c"/><stop offset="0.637" stop-color="#002270"/><stop offset="0.661" stop-color="#00349a"/><stop offset="0.682" stop-color="#001a5e"/><stop offset="0.696" stop-color="#01124b"/><stop offset="0.800" stop-color="#030935"/><stop offset="0.803" stop-color="#020728"/><stop offset="0.806" stop-color="#000000"/><stop offset="0.999" stop-color="#000000"/></linearGradient><linearGradient id="h27"><stop offset="0.001" stop-color="#000000"/><stop offset="0.264" stop-color="#000000"/><stop offset="0.269" stop-color="#00134d"/><stop offset="0.294" stop-color="#001d65"/><stop offset="0.320" stop-color="#003092"/><stop offset="0.339" stop-color="#004acd"/><stop offset="0.350" stop-color="#006cff"/><stop offset="0.363" stop-color="#0089ff"/><stop offset="0.385" stop-color="#0083ff"/><stop offset="0.398" stop-color="#0092ff"/><stop offset="0.406" stop-color="#00b0ff"/><stop offset="0.412" stop-color="#00cdff"/><stop offset="0.417" stop-color="#00fbff"/><stop offset="0.420" stop-color="#00ffff"/><stop offset="0.465" stop-color="#00ffff"/><stop offset="0.468" stop-color="#00f9ff"/><stop offset="0.476" stop-color="#00c3ff"/><stop offset="0.489" stop-color="#0096ff"/><stop offset="0.513" stop-color="#008bff"/><stop offset="0.535" stop-color="#00b0ff"/><stop offset="0.559" stop-color="#006dff"/><stop offset="0.570" stop-color="#004cd3"/><stop offset="0.583" stop-color="#0039a5"/><stop offset="0.607" stop-color="#00277c"/><stop offset="0.634" stop-color="#002271"/><stop offset="0.658" stop-color="#003398"/><stop offset="0.682" stop-color="#001858"/><stop offset="0.693" stop-color="#01124b"/><stop offset="0.798" stop-color="#030936"/><stop offset="0.803" stop-color="#000000"/><stop offset="0.999" stop-color="#000000"/></linearGradient><linearGradient id="h28"><stop offset="0.001" stop-color="#000000"/><stop offset="0.269" stop-color="#000000"/><stop offset="0.272" stop-color="#00134d"/><stop offset="0.299" stop-color="#001e68"/><stop offset="0.326" stop-color="#003296"/><stop offset="0.342" stop-color="#0049cc"/><stop offset="0.353" stop-color="#006cff"/><stop offset="0.366" stop-color="#008aff"/><stop offset="0.385" stop-color="#0084ff"/><stop offset="0.398" stop-color="#0091ff"/><stop offset="0.409" stop-color="#00baff"/><stop offset="0.420" stop-color="#00ffff"/><stop offset="0.468" stop-color="#00ffff"/><stop offset="0.476" stop-color="#00c8ff"/><stop offset="0.492" stop-color="#0094ff"/><stop offset="0.513" stop-color="#008dff"/><stop offset="0.535" stop-color="#00b1ff"/><stop offset="0.559" stop-color="#006cff"/><stop offset="0.567" stop-color="#0051de"/><stop offset="0.580" stop-color="#003bac"/><stop offset="0.605" stop-color="#00287f"/><stop offset="0.631" stop-color="#002271"/><stop offset="0.658" stop-color="#003194"/><stop offset="0.680" stop-color="#001859"/><stop offset="0.693" stop-color="#011149"/><stop offset="0.795" stop-color="#030936"/><stop offset="0.798" stop-color="#01020d"/><stop offset="0.800" stop-color="#000000"/><stop offset="0.999" stop-color="#000000"/></linearGradient><linearGradient id="h29"><stop offset="0.001" stop-color="#000000"/><stop offset="0.269" stop-color="#000000"/><stop offset="0.272" stop-color="#00124c"/><stop offset="0.299" stop-color="#001c63"/><stop offset="0.326" stop-color="#002f8e"/><stop offset="0.345" stop-color="#0049cb"/><stop offset="0.355" stop-color="#006cff"/><stop offset="0.369" stop-color="#008bff"/><stop offset="0.387" stop-color="#0087ff"/><stop offset="0.401" stop-color="#0096ff"/><stop offset="0.412" stop-color="#00c4ff"/><stop offset="0.420" stop-color="#00ffff"/><stop offset="0.468" stop-color="#00ffff"/><stop offset="0.479" stop-color="#00c1ff"/><stop offset="0.492" stop-color="#0097ff"/><stop offset="0.513" stop-color="#008fff"/><stop offset="0.535" stop-color="#00b1ff"/><stop offset="0.559" stop-color="#006aff"/><stop offset="0.567" stop-color="#0050dc"/><stop offset="0.580" stop-color="#003bab"/><stop offset="0.605" stop-color="#00287f"/><stop offset="0.629" stop-color="#002372"/><stop offset="0.655" stop-color="#003193"/><stop offset="0.677" stop-color="#001859"/><stop offset="0.690" stop-color="#011149"/><stop offset="0.790" stop-color="#030a36"/><stop offset="0.792" stop-color="#020728"/><stop offset="0.795" stop-color="#000000"/><stop offset="0.999" stop-color="#000000"/></linearGradient><linearGradient id="h30"><stop offset="0.001" stop-color="#000000"/><stop offset="0.269" stop-color="#000000"/><stop offset="0.272" stop-color="#01124a"/><stop offset="0.302" stop-color="#001c62"/><stop offset="0.328" stop-color="#002e8d"/><stop offset="0.347" stop-color="#0049cb"/><stop offset="0.358" stop-color="#006dff"/><stop offset="0.371" stop-color="#008cff"/><stop offset="0.390" stop-color="#0089ff"/><stop offset="0.401" stop-color="#0095ff"/><stop offset="0.414" stop-color="#00cfff"/><stop offset="0.420" stop-color="#00fcff"/><stop offset="0.468" stop-color="#00ffff"/><stop offset="0.471" stop-color="#00fdff"/><stop offset="0.476" stop-color="#00d3ff"/><stop offset="0.481" stop-color="#00bbff"/><stop offset="0.495" stop-color="#0095ff"/><stop offset="0.513" stop-color="#0091ff"/><stop offset="0.532" stop-color="#00b3ff"/><stop offset="0.559" stop-color="#0069ff"/><stop offset="0.567" stop-color="#004fda"/><stop offset="0.580" stop-color="#003baa"/><stop offset="0.605" stop-color="#00287f"/><stop offset="0.629" stop-color="#002374"/><stop offset="0.653" stop-color="#003091"/><stop offset="0.674" stop-color="#00185a"/><stop offset="0.688" stop-color="#01114a"/><stop offset="0.787" stop-color="#030a36"/><stop offset="0.792" stop-color="#000000"/><stop offset="0.999" stop-color="#000000"/></linearGradient><linearGradient id="h31"><stop offset="0.001" stop-color="#000000"/><stop offset="0.269" stop-color="#000000"/><stop offset="0.272" stop-color="#011149"/><stop offset="0.302" stop-color="#001a5e"/><stop offset="0.328" stop-color="#002b86"/><stop offset="0.345" stop-color="#003eb2"/><stop offset="0.361" stop-color="#006dff"/><stop offset="0.374" stop-color="#008dff"/><stop offset="0.401" stop-color="#0095ff"/><stop offset="0.412" stop-color="#00bcff"/><stop offset="0.417" stop-color="#00dbff"/><stop offset="0.420" stop-color="#00f6ff"/><stop offset="0.422" stop-color="#00ffff"/><stop offset="0.471" stop-color="#00ffff"/><stop offset="0.481" stop-color="#00bfff"/><stop offset="0.495" stop-color="#0098ff"/><stop offset="0.513" stop-color="#0093ff"/><stop offset="0.532" stop-color="#00b4ff"/><stop offset="0.559" stop-color="#0068fd"/><stop offset="0.567" stop-color="#004ed8"/><stop offset="0.580" stop-color="#003aa9"/><stop offset="0.605" stop-color="#00287f"/><stop offset="0.626" stop-color="#002474"/><stop offset="0.650" stop-color="#002f8f"/><stop offset="0.672" stop-color="#00185a"/><stop offset="0.685" stop-color="#01124a"/><stop offset="0.787" stop-color="#030a36"/><stop offset="0.790" stop-color="#000000"/><stop offset="0.999" stop-color="#000000"/></linearGradient><linearGradient id="h32"><stop offset="0.001" stop-color="#000000"/><stop offset="0.272" stop-color="#000000"/><stop offset="0.275" stop-color="#011149"/><stop offset="0.304" stop-color="#001a5d"/><stop offset="0.331" stop-color="#002a84"/><stop offset="0.347" stop-color="#003eb2"/><stop offset="0.363" stop-color="#006dff"/><stop offset="0.377" stop-color="#008eff"/><stop offset="0.395" stop-color="#008fff"/><stop offset="0.403" stop-color="#009aff"/><stop offset="0.414" stop-color="#00c6ff"/><stop offset="0.422" stop-color="#00ffff"/><stop offset="0.471" stop-color="#00ffff"/><stop offset="0.473" stop-color="#00f9ff"/><stop offset="0.481" stop-color="#00c4ff"/><stop offset="0.495" stop-color="#009bff"/><stop offset="0.511" stop-color="#0093ff"/><stop offset="0.532" stop-color="#00b5ff"/><stop offset="0.556" stop-color="#006dff"/><stop offset="0.567" stop-color="#004ed6"/><stop offset="0.580" stop-color="#003aa9"/><stop offset="0.602" stop-color="#002982"/><stop offset="0.623" stop-color="#002475"/><stop offset="0.647" stop-color="#002e8e"/><stop offset="0.669" stop-color="#00185a"/><stop offset="0.682" stop-color="#01124a"/><stop offset="0.784" stop-color="#030a36"/><stop offset="0.790" stop-color="#000000"/><stop offset="0.999" stop-color="#000000"/></linearGradient><linearGradient id="h33"><stop offset="0.001" stop-color="#000000"/><stop offset="0.269" stop-color="#000000"/><stop offset="0.272" stop-color="#000412"/><stop offset="0.275" stop-color="#011149"/><stop offset="0.307" stop-color="#001a5e"/><stop offset="0.334" stop-color="#002b85"/><stop offset="0.353" stop-color="#0044c0"/><stop offset="0.363" stop-color="#0066fb"/><stop offset="0.366" stop-color="#006fff"/><stop offset="0.379" stop-color="#0090ff"/><stop offset="0.403" stop-color="#009aff"/><stop offset="0.414" stop-color="#00c3ff"/><stop offset="0.422" stop-color="#00feff"/><stop offset="0.473" stop-color="#00ffff"/><stop offset="0.481" stop-color="#00c9ff"/><stop offset="0.495" stop-color="#009eff"/><stop offset="0.511" stop-color="#0095ff"/><stop offset="0.527" stop-color="#00b5ff"/><stop offset="0.532" stop-color="#00b5ff"/><stop offset="0.556" stop-color="#006cff"/><stop offset="0.567" stop-color="#004dd5"/><stop offset="0.578" stop-color="#003daf"/><stop offset="0.602" stop-color="#002982"/><stop offset="0.623" stop-color="#002577"/><stop offset="0.645" stop-color="#002e8c"/><stop offset="0.669" stop-color="#001756"/><stop offset="0.682" stop-color="#011149"/><stop offset="0.784" stop-color="#030a36"/><stop offset="0.787" stop-color="#000000"/><stop offset="0.999" stop-color="#000000"/></linearGradient><linearGradient id="h34"><stop offset="0.001" stop-color="#000000"/><stop offset="0.269" stop-color="#000000"/><stop offset="0.272" stop-color="#011147"/><stop offset="0.304" stop-color="#00185a"/><stop offset="0.334" stop-color="#002a82"/><stop offset="0.345" stop-color="#00349b"/><stop offset="0.355" stop-color="#0045c3"/><stop offset="0.366" stop-color="#0068fd"/><stop offset="0.369" stop-color="#0070ff"/><stop offset="0.382" stop-color="#0091ff"/><stop offset="0.398" stop-color="#0094ff"/><stop offset="0.406" stop-color="#00a0ff"/><stop offset="0.417" stop-color="#00cbff"/><stop offset="0.422" stop-color="#00f6ff"/><stop offset="0.425" stop-color="#00ffff"/><stop offset="0.473" stop-color="#00ffff"/><stop offset="0.484" stop-color="#00c4ff"/><stop offset="0.497" stop-color="#009eff"/><stop offset="0.511" stop-color="#0099ff"/><stop offset="0.529" stop-color="#00b8ff"/><stop offset="0.556" stop-color="#006bff"/><stop offset="0.564" stop-color="#0052df"/><stop offset="0.578" stop-color="#003daf"/><stop offset="0.602" stop-color="#002982"/><stop offset="0.621" stop-color="#002578"/><stop offset="0.642" stop-color="#002d8a"/><stop offset="0.666" stop-color="#001756"/><stop offset="0.680" stop-color="#011149"/><stop offset="0.784" stop-color="#030a36"/><stop offset="0.787" stop-color="#000000"/><stop offset="0.999" stop-color="#000000"/></linearGradient><linearGradient id="h35"><stop offset="0.001" stop-color="#000000"/><stop offset="0.269" stop-color="#000000"/><stop offset="0.272" stop-color="#011047"/><stop offset="0.304" stop-color="#001859"/><stop offset="0.334" stop-color="#00287f"/><stop offset="0.347" stop-color="#00359e"/><stop offset="0.358" stop-color="#0047c7"/><stop offset="0.369" stop-color="#006afe"/><stop offset="0.371" stop-color="#0071ff"/><stop offset="0.385" stop-color="#0093ff"/><stop offset="0.401" stop-color="#0097ff"/><stop offset="0.409" stop-color="#00a6ff"/><stop offset="0.420" stop-color="#00d4ff"/><stop offset="0.425" stop-color="#00feff"/><stop offset="0.476" stop-color="#00ffff"/><stop offset="0.484" stop-color="#00cbff"/><stop offset="0.497" stop-color="#00a2ff"/><stop offset="0.511" stop-color="#009dff"/><stop offset="0.529" stop-color="#00b9ff"/><stop offset="0.556" stop-color="#006aff"/><stop offset="0.564" stop-color="#0051de"/><stop offset="0.578" stop-color="#003cae"/><stop offset="0.602" stop-color="#002982"/><stop offset="0.618" stop-color="#002579"/><stop offset="0.642" stop-color="#002c87"/><stop offset="0.666" stop-color="#001553"/><stop offset="0.685" stop-color="#011046"/><stop offset="0.784" stop-color="#030a36"/><stop offset="0.787" stop-color="#000000"/><stop offset="0.999" stop-color="#000000"/></linearGradient><linearGradient id="h36"><stop offset="0.001" stop-color="#000000"/><stop offset="0.269" stop-color="#000000"/><stop offset="0.272" stop-color="#011046"/><stop offset="0.304" stop-color="#001757"/><stop offset="0.336" stop-color="#002981"/><stop offset="0.353" stop-color="#003aa9"/><stop offset="0.363" stop-color="#004ed8"/><stop offset="0.371" stop-color="#006cff"/><stop offset="0.387" stop-color="#0094ff"/><stop offset="0.409" stop-color="#00a4ff"/><stop offset="0.420" stop-color="#00cdff"/><stop offset="0.425" stop-color="#00f7ff"/><stop offset="0.428" stop-color="#00ffff"/><stop offset="0.476" stop-color="#00ffff"/><stop offset="0.479" stop-color="#00faff"/><stop offset="0.487" stop-color="#00c7ff"/><stop offset="0.497" stop-color="#00a7ff"/><stop offset="0.508" stop-color="#009fff"/><stop offset="0.529" stop-color="#00baff"/><stop offset="0.556" stop-color="#0069ff"/><stop offset="0.564" stop-color="#0050dd"/><stop offset="0.578" stop-color="#003cae"/><stop offset="0.602" stop-color="#002982"/><stop offset="0.618" stop-color="#002679"/><stop offset="0.639" stop-color="#002b86"/><stop offset="0.664" stop-color="#001654"/><stop offset="0.682" stop-color="#011046"/><stop offset="0.782" stop-color="#030a36"/><stop offset="0.784" stop-color="#000000"/><stop offset="0.999" stop-color="#000000"/></linearGradient><linearGradient id="h37"><stop offset="0.001" stop-color="#000000"/><stop offset="0.269" stop-color="#000000"/><stop offset="0.275" stop-color="#011047"/><stop offset="0.307" stop-color="#001858"/><stop offset="0.339" stop-color="#002a83"/><stop offset="0.355" stop-color="#003cac"/><stop offset="0.366" stop-color="#0050dc"/><stop offset="0.374" stop-color="#006dff"/><stop offset="0.390" stop-color="#0096ff"/><stop offset="0.412" stop-color="#00aaff"/><stop offset="0.422" stop-color="#00d6ff"/><stop offset="0.428" stop-color="#00ffff"/><stop offset="0.479" stop-color="#00ffff"/><stop offset="0.487" stop-color="#00ceff"/><stop offset="0.497" stop-color="#00adff"/><stop offset="0.508" stop-color="#00a3ff"/><stop offset="0.524" stop-color="#00bcff"/><stop offset="0.529" stop-color="#00baff"/><stop offset="0.540" stop-color="#0092ff"/><stop offset="0.556" stop-color="#0069fe"/><stop offset="0.564" stop-color="#0050dc"/><stop offset="0.578" stop-color="#003cae"/><stop offset="0.599" stop-color="#002b85"/><stop offset="0.615" stop-color="#002679"/><stop offset="0.639" stop-color="#002a83"/><stop offset="0.661" stop-color="#001656"/><stop offset="0.680" stop-color="#011047"/><stop offset="0.779" stop-color="#030a36"/><stop offset="0.782" stop-color="#020729"/><stop offset="0.784" stop-color="#000000"/><stop offset="0.999" stop-color="#000000"/></linearGradient><linearGradient id="h38"><stop offset="0.001" stop-color="#000000"/><stop offset="0.272" stop-color="#000000"/><stop offset="0.277" stop-color="#011147"/><stop offset="0.310" stop-color="#001859"/><stop offset="0.339" stop-color="#002980"/><stop offset="0.355" stop-color="#0039a7"/><stop offset="0.366" stop-color="#004cd2"/><stop offset="0.374" stop-color="#0067fb"/><stop offset="0.377" stop-color="#006eff"/><stop offset="0.393" stop-color="#0098ff"/><stop offset="0.414" stop-color="#00b0ff"/><stop offset="0.422" stop-color="#00d0ff"/><stop offset="0.428" stop-color="#00f9ff"/><stop offset="0.430" stop-color="#00ffff"/><stop offset="0.479" stop-color="#00ffff"/><stop offset="0.481" stop-color="#00fdff"/><stop offset="0.489" stop-color="#00caff"/><stop offset="0.497" stop-color="#00b2ff"/><stop offset="0.508" stop-color="#00a8ff"/><stop offset="0.527" stop-color="#00beff"/><stop offset="0.556" stop-color="#0067fd"/><stop offset="0.564" stop-color="#004fdb"/><stop offset="0.578" stop-color="#003cad"/><stop offset="0.599" stop-color="#002b85"/><stop offset="0.615" stop-color="#00267a"/><stop offset="0.637" stop-color="#002982"/><stop offset="0.661" stop-color="#001553"/><stop offset="0.677" stop-color="#011147"/><stop offset="0.757" stop-color="#020a38"/><stop offset="0.776" stop-color="#000000"/><stop offset="0.999" stop-color="#000000"/></linearGradient><linearGradient id="h39"><stop offset="0.001" stop-color="#000000"/><stop offset="0.275" stop-color="#000000"/><stop offset="0.280" stop-color="#011148"/><stop offset="0.312" stop-color="#00185a"/><stop offset="0.342" stop-color="#002982"/><stop offset="0.355" stop-color="#0037a1"/><stop offset="0.366" stop-color="#0048c9"/><stop offset="0.377" stop-color="#0069fe"/><stop offset="0.379" stop-color="#0070ff"/><stop offset="0.395" stop-color="#009bff"/><stop offset="0.414" stop-color="#00afff"/><stop offset="0.422" stop-color="#00caff"/><stop offset="0.430" stop-color="#00ffff"/><stop offset="0.481" stop-color="#00ffff"/><stop offset="0.489" stop-color="#00d2ff"/><stop offset="0.500" stop-color="#00b3ff"/><stop offset="0.508" stop-color="#00adff"/><stop offset="0.527" stop-color="#00bfff"/><stop offset="0.554" stop-color="#006dff"/><stop offset="0.564" stop-color="#004fda"/><stop offset="0.578" stop-color="#003cad"/><stop offset="0.599" stop-color="#002b85"/><stop offset="0.615" stop-color="#00267a"/><stop offset="0.637" stop-color="#00287e"/><stop offset="0.658" stop-color="#001655"/><stop offset="0.672" stop-color="#011149"/><stop offset="0.739" stop-color="#020b3a"/><stop offset="0.757" stop-color="#000000"/><stop offset="0.999" stop-color="#000000"/></linearGradient><linearGradient id="h40"><stop offset="0.001" stop-color="#000000"/><stop offset="0.277" stop-color="#000000"/><stop offset="0.280" stop-color="#010c35"/><stop offset="0.283" stop-color="#011148"/><stop offset="0.315" stop-color="#00195c"/><stop offset="0.345" stop-color="#002a84"/><stop offset="0.358" stop-color="#0038a4"/><stop offset="0.369" stop-color="#0049cc"/><stop offset="0.379" stop-color="#006bff"/><stop offset="0.382" stop-color="#0072ff"/><stop offset="0.398" stop-color="#009dff"/><stop offset="0.417" stop-color="#00b5ff"/><stop offset="0.425" stop-color="#00d2ff"/><stop offset="0.430" stop-color="#00fbff"/><stop offset="0.433" stop-color="#00ffff"/><stop offset="0.481" stop-color="#00ffff"/><stop offset="0.484" stop-color="#00feff"/><stop offset="0.489" stop-color="#00daff"/><stop offset="0.497" stop-color="#00beff"/><stop offset="0.508" stop-color="#00b2ff"/><stop offset="0.527" stop-color="#00c0ff"/><stop offset="0.540" stop-color="#008eff"/><stop offset="0.554" stop-color="#006cff"/><stop offset="0.564" stop-color="#004fd9"/><stop offset="0.578" stop-color="#003cad"/><stop offset="0.599" stop-color="#002b85"/><stop offset="0.613" stop-color="#00267a"/><stop offset="0.634" stop-color="#00277d"/><stop offset="0.655" stop-color="#001756"/><stop offset="0.669" stop-color="#01124a"/><stop offset="0.728" stop-color="#020c3b"/><stop offset="0.736" stop-color="#000000"/><stop offset="0.999" stop-color="#000000"/></linearGradient><linearGradient id="h41"><stop offset="0.001" stop-color="#000000"/><stop offset="0.280" stop-color="#000000"/><stop offset="0.283" stop-color="#010d36"/><stop offset="0.286" stop-color="#011149"/><stop offset="0.318" stop-color="#001a5d"/><stop offset="0.347" stop-color="#002b86"/><stop offset="0.363" stop-color="#003db0"/><stop offset="0.374" stop-color="#0051dd"/><stop offset="0.382" stop-color="#006cff"/><stop offset="0.401" stop-color="#00a0ff"/><stop offset="0.420" stop-color="#00bbff"/><stop offset="0.428" stop-color="#00dbff"/><stop offset="0.433" stop-color="#00ffff"/><stop offset="0.484" stop-color="#00ffff"/><stop offset="0.487" stop-color="#00faff"/><stop offset="0.492" stop-color="#00d6ff"/><stop offset="0.500" stop-color="#00bfff"/><stop offset="0.508" stop-color="#00b8ff"/><stop offset="0.521" stop-color="#00c5ff"/><stop offset="0.527" stop-color="#00c0ff"/><stop offset="0.538" stop-color="#0095ff"/><stop offset="0.554" stop-color="#006cff"/><stop offset="0.564" stop-color="#004fd9"/><stop offset="0.578" stop-color="#003cac"/><stop offset="0.599" stop-color="#002a84"/><stop offset="0.634" stop-color="#00267a"/><stop offset="0.653" stop-color="#001757"/><stop offset="0.666" stop-color="#01124b"/><stop offset="0.725" stop-color="#020c3b"/><stop offset="0.731" stop-color="#000000"/><stop offset="0.999" stop-color="#000000"/></linearGradient><linearGradient id="h42"><stop offset="0.001" stop-color="#000000"/><stop offset="0.283" stop-color="#000000"/><stop offset="0.286" stop-color="#011148"/><stop offset="0.318" stop-color="#00195c"/><stop offset="0.347" stop-color="#002b85"/><stop offset="0.361" stop-color="#0038a4"/><stop offset="0.371" stop-color="#0049cb"/><stop offset="0.382" stop-color="#0068fd"/><stop offset="0.385" stop-color="#006fff"/><stop offset="0.403" stop-color="#00a5ff"/><stop offset="0.422" stop-color="#00c3ff"/><stop offset="0.428" stop-color="#00d8ff"/><stop offset="0.433" stop-color="#00ffff"/><stop offset="0.487" stop-color="#00ffff"/><stop offset="0.495" stop-color="#00d6ff"/><stop offset="0.500" stop-color="#00c6ff"/><stop offset="0.508" stop-color="#00bfff"/><stop offset="0.524" stop-color="#00c7ff"/><stop offset="0.538" stop-color="#0094ff"/><stop offset="0.554" stop-color="#006cff"/><stop offset="0.564" stop-color="#004fda"/><stop offset="0.578" stop-color="#003cad"/><stop offset="0.599" stop-color="#002b85"/><stop offset="0.631" stop-color="#00267a"/><stop offset="0.664" stop-color="#00124c"/><stop offset="0.723" stop-color="#020c3c"/><stop offset="0.725" stop-color="#01030f"/><stop offset="0.728" stop-color="#000000"/><stop offset="0.999" stop-color="#000000"/></linearGradient><linearGradient id="h43"><stop offset="0.001" stop-color="#000000"/><stop offset="0.286" stop-color="#000000"/><stop offset="0.288" stop-color="#011149"/><stop offset="0.318" stop-color="#00195c"/><stop offset="0.347" stop-color="#002a83"/><stop offset="0.366" stop-color="#003eb2"/><stop offset="0.385" stop-color="#006bff"/><stop offset="0.406" stop-color="#00aaff"/><stop offset="0.425" stop-color="#00cdff"/><stop offset="0.433" stop-color="#00fdff"/><stop offset="0.489" stop-color="#00ffff"/><stop offset="0.497" stop-color="#00d6ff"/><stop offset="0.503" stop-color="#00caff"/><stop offset="0.524" stop-color="#00c9ff"/><stop offset="0.538" stop-color="#0094ff"/><stop offset="0.554" stop-color="#006cff"/><stop offset="0.564" stop-color="#0050db"/><stop offset="0.578" stop-color="#003daf"/><stop offset="0.599" stop-color="#002b86"/><stop offset="0.631" stop-color="#002577"/><stop offset="0.661" stop-color="#00134d"/><stop offset="0.720" stop-color="#020c3c"/><stop offset="0.723" stop-color="#01030f"/><stop offset="0.725" stop-color="#000000"/><stop offset="0.999" stop-color="#000000"/></linearGradient><linearGradient id="h44"><stop offset="0.001" stop-color="#000000"/><stop offset="0.288" stop-color="#000000"/><stop offset="0.291" stop-color="#01124a"/><stop offset="0.320" stop-color="#001a5e"/><stop offset="0.350" stop-color="#002c87"/><stop offset="0.374" stop-color="#004acd"/><stop offset="0.385" stop-color="#0068fd"/><stop offset="0.387" stop-color="#006eff"/><stop offset="0.412" stop-color="#00b7ff"/><stop offset="0.425" stop-color="#00cfff"/><stop offset="0.433" stop-color="#00fbff"/><stop offset="0.436" stop-color="#00ffff"/><stop offset="0.489" stop-color="#00ffff"/><stop offset="0.492" stop-color="#00feff"/><stop offset="0.503" stop-color="#00d2ff"/><stop offset="0.524" stop-color="#00cbff"/><stop offset="0.538" stop-color="#0094ff"/><stop offset="0.554" stop-color="#006dff"/><stop offset="0.564" stop-color="#0050dd"/><stop offset="0.578" stop-color="#003db0"/><stop offset="0.599" stop-color="#002b86"/><stop offset="0.629" stop-color="#002577"/><stop offset="0.658" stop-color="#00134e"/><stop offset="0.717" stop-color="#020c3d"/><stop offset="0.723" stop-color="#000000"/><stop offset="0.999" stop-color="#000000"/></linearGradient><linearGradient id="h45"><stop offset="0.001" stop-color="#000000"/><stop offset="0.288" stop-color="#000000"/><stop offset="0.291" stop-color="#01124a"/><stop offset="0.320" stop-color="#001a5d"/><stop offset="0.350" stop-color="#002b86"/><stop offset="0.369" stop-color="#003fb5"/><stop offset="0.387" stop-color="#006bff"/><stop offset="0.403" stop-color="#0095ff"/><stop offset="0.414" stop-color="#00beff"/><stop offset="0.428" stop-color="#00dbff"/><stop offset="0.433" stop-color="#00faff"/><stop offset="0.436" stop-color="#00ffff"/><stop offset="0.492" stop-color="#00ffff"/><stop offset="0.505" stop-color="#00d7ff"/><stop offset="0.524" stop-color="#00cdff"/><stop offset="0.538" stop-color="#0094ff"/><stop offset="0.556" stop-color="#0068fd"/><stop offset="0.578" stop-color="#003eb1"/><stop offset="0.602" stop-color="#002a84"/><stop offset="0.629" stop-color="#002474"/><stop offset="0.655" stop-color="#00144f"/><stop offset="0.714" stop-color="#020d3d"/><stop offset="0.720" stop-color="#000000"/><stop offset="0.999" stop-color="#000000"/></linearGradient><linearGradient id="h46"><stop offset="0.001" stop-color="#000000"/><stop offset="0.288" stop-color="#000000"/><stop offset="0.291" stop-color="#01124a"/><stop offset="0.320" stop-color="#001a5d"/><stop offset="0.350" stop-color="#002b85"/><stop offset="0.374" stop-color="#0046c5"/><stop offset="0.387" stop-color="#0068fd"/><stop offset="0.390" stop-color="#006eff"/><stop offset="0.403" stop-color="#008fff"/><stop offset="0.414" stop-color="#00bcff"/><stop offset="0.436" stop-color="#00ffff"/><stop offset="0.495" stop-color="#00ffff"/><stop offset="0.505" stop-color="#00e1ff"/><stop offset="0.521" stop-color="#00d6ff"/><stop offset="0.538" stop-color="#0094ff"/><stop offset="0.556" stop-color="#0069ff"/><stop offset="0.567" stop-color="#004dd6"/><stop offset="0.580" stop-color="#003bac"/><stop offset="0.602" stop-color="#002a84"/><stop offset="0.626" stop-color="#002475"/><stop offset="0.653" stop-color="#001450"/><stop offset="0.712" stop-color="#020d3e"/><stop offset="0.717" stop-color="#000000"/><stop offset="0.999" stop-color="#000000"/></linearGradient><linearGradient id="h47"><stop offset="0.001" stop-color="#000000"/><stop offset="0.288" stop-color="#000000"/><stop offset="0.291" stop-color="#01124a"/><stop offset="0.320" stop-color="#001a5d"/><stop offset="0.350" stop-color="#002a84"/><stop offset="0.369" stop-color="#003db1"/><stop offset="0.390" stop-color="#006bff"/><stop offset="0.406" stop-color="#0092ff"/><stop offset="0.433" stop-color="#00fcff"/><stop offset="0.497" stop-color="#00ffff"/><stop offset="0.519" stop-color="#00e1ff"/><stop offset="0.538" stop-color="#0094ff"/><stop offset="0.556" stop-color="#006aff"/><stop offset="0.567" stop-color="#004ed8"/><stop offset="0.580" stop-color="#003cad"/><stop offset="0.602" stop-color="#002b85"/><stop offset="0.653" stop-color="#00144f"/><stop offset="0.709" stop-color="#020d3e"/><stop offset="0.712" stop-color="#010a2e"/><stop offset="0.714" stop-color="#000000"/><stop offset="0.999" stop-color="#000000"/></linearGradient><linearGradient id="h48"><stop offset="0.001" stop-color="#000000"/><stop offset="0.288" stop-color="#000000"/><stop offset="0.291" stop-color="#01124a"/><stop offset="0.320" stop-color="#00195d"/><stop offset="0.350" stop-color="#002a83"/><stop offset="0.377" stop-color="#0048ca"/><stop offset="0.390" stop-color="#0069ff"/><stop offset="0.393" stop-color="#006eff"/><stop offset="0.409" stop-color="#0096ff"/><stop offset="0.433" stop-color="#00feff"/><stop offset="0.500" stop-color="#00ffff"/><stop offset="0.519" stop-color="#00e8ff"/><stop offset="0.538" stop-color="#0095ff"/><stop offset="0.556" stop-color="#006bff"/><stop offset="0.580" stop-color="#003daf"/><stop offset="0.602" stop-color="#002b86"/><stop offset="0.650" stop-color="#001451"/><stop offset="0.709" stop-color="#020d3f"/><stop offset="0.712" stop-color="#000000"/><stop offset="0.999" stop-color="#000000"/></linearGradient><linearGradient id="h49"><stop offset="0.001" stop-color="#000000"/><stop offset="0.288" stop-color="#000000"/><stop offset="0.291" stop-color="#01124a"/><stop offset="0.323" stop-color="#001a5f"/><stop offset="0.353" stop-color="#002c87"/><stop offset="0.379" stop-color="#004bd1"/><stop offset="0.393" stop-color="#006cff"/><stop offset="0.412" stop-color="#009aff"/><stop offset="0.433" stop-color="#00ffff"/><stop offset="0.505" stop-color="#00ffff"/><stop offset="0.519" stop-color="#00efff"/><stop offset="0.538" stop-color="#0096ff"/><stop offset="0.556" stop-color="#006cff"/><stop offset="0.567" stop-color="#0051dd"/><stop offset="0.583" stop-color="#003baa"/><stop offset="0.605" stop-color="#002a83"/><stop offset="0.650" stop-color="#001450"/><stop offset="0.706" stop-color="#020d3f"/><stop offset="0.709" stop-color="#000000"/><stop offset="0.999" stop-color="#000000"/></linearGradient><linearGradient id="h50"><stop offset="0.001" stop-color="#000000"/><stop offset="0.288" stop-color="#000000"/><stop offset="0.291" stop-color="#000413"/><stop offset="0.294" stop-color="#00124b"/><stop offset="0.323" stop-color="#001a5f"/><stop offset="0.353" stop-color="#002b87"/><stop offset="0.379" stop-color="#004acf"/><stop offset="0.393" stop-color="#006bff"/><stop offset="0.412" stop-color="#0094ff"/><stop offset="0.433" stop-color="#00ffff"/><stop offset="0.511" stop-color="#00ffff"/><stop offset="0.519" stop-color="#00f5ff"/><stop offset="0.538" stop-color="#0097ff"/><stop offset="0.559" stop-color="#0068fe"/><stop offset="0.570" stop-color="#004dd6"/><stop offset="0.594" stop-color="#003194"/><stop offset="0.634" stop-color="#001a5f"/><stop offset="0.655" stop-color="#00134d"/><stop offset="0.704" stop-color="#020e40"/><stop offset="0.706" stop-color="#000310"/><stop offset="0.709" stop-color="#000000"/><stop offset="0.999" stop-color="#000000"/></linearGradient><linearGradient id="h51"><stop offset="0.001" stop-color="#000000"/><stop offset="0.291" stop-color="#000000"/><stop offset="0.294" stop-color="#00124b"/><stop offset="0.323" stop-color="#001a5f"/><stop offset="0.353" stop-color="#002b86"/><stop offset="0.371" stop-color="#003eb2"/><stop offset="0.393" stop-color="#0069ff"/><stop offset="0.414" stop-color="#0099ff"/><stop offset="0.433" stop-color="#00ffff"/><stop offset="0.516" stop-color="#00ffff"/><stop offset="0.521" stop-color="#00eeff"/><stop offset="0.538" stop-color="#0099ff"/><stop offset="0.559" stop-color="#006aff"/><stop offset="0.570" stop-color="#004fd9"/><stop offset="0.594" stop-color="#003195"/><stop offset="0.629" stop-color="#001d64"/><stop offset="0.650" stop-color="#001450"/><stop offset="0.701" stop-color="#020e41"/><stop offset="0.706" stop-color="#000000"/><stop offset="0.999" stop-color="#000000"/></linearGradient><linearGradient id="h52"><stop offset="0.001" stop-color="#000000"/><stop offset="0.291" stop-color="#000000"/><stop offset="0.296" stop-color="#00134c"/><stop offset="0.326" stop-color="#001b61"/><stop offset="0.353" stop-color="#002b85"/><stop offset="0.379" stop-color="#0049cb"/><stop offset="0.395" stop-color="#006dff"/><stop offset="0.414" stop-color="#0095ff"/><stop offset="0.428" stop-color="#00d6ff"/><stop offset="0.433" stop-color="#00fdff"/><stop offset="0.516" stop-color="#00ffff"/><stop offset="0.521" stop-color="#00f3ff"/><stop offset="0.527" stop-color="#00d0ff"/><stop offset="0.540" stop-color="#0092ff"/><stop offset="0.559" stop-color="#006bff"/><stop offset="0.570" stop-color="#0050dc"/><stop offset="0.594" stop-color="#003296"/><stop offset="0.623" stop-color="#001f69"/><stop offset="0.650" stop-color="#001450"/><stop offset="0.698" stop-color="#010e41"/><stop offset="0.701" stop-color="#010a31"/><stop offset="0.704" stop-color="#000000"/><stop offset="0.999" stop-color="#000000"/></linearGradient><linearGradient id="h53"><stop offset="0.001" stop-color="#000000"/><stop offset="0.294" stop-color="#000000"/><stop offset="0.296" stop-color="#00134c"/><stop offset="0.328" stop-color="#001d64"/><stop offset="0.355" stop-color="#002d8a"/><stop offset="0.382" stop-color="#004cd3"/><stop offset="0.395" stop-color="#006cff"/><stop offset="0.417" stop-color="#009aff"/><stop offset="0.436" stop-color="#00ffff"/><stop offset="0.519" stop-color="#00ffff"/><stop offset="0.538" stop-color="#009dff"/><stop offset="0.546" stop-color="#0087ff"/><stop offset="0.562" stop-color="#0067fc"/><stop offset="0.572" stop-color="#004dd5"/><stop offset="0.591" stop-color="#00359d"/><stop offset="0.621" stop-color="#00206c"/><stop offset="0.650" stop-color="#001450"/><stop offset="0.698" stop-color="#010e42"/><stop offset="0.701" stop-color="#000000"/><stop offset="0.999" stop-color="#000000"/></linearGradient><linearGradient id="h54"><stop offset="0.001" stop-color="#000000"/><stop offset="0.294" stop-color="#000000"/><stop offset="0.296" stop-color="#00134c"/><stop offset="0.328" stop-color="#001c63"/><stop offset="0.355" stop-color="#002c89"/><stop offset="0.382" stop-color="#004bd1"/><stop offset="0.395" stop-color="#006aff"/><stop offset="0.417" stop-color="#0096ff"/><stop offset="0.428" stop-color="#00c8ff"/><stop offset="0.436" stop-color="#00feff"/><stop offset="0.519" stop-color="#00ffff"/><stop offset="0.521" stop-color="#00fbff"/><stop offset="0.527" stop-color="#00d5ff"/><stop offset="0.540" stop-color="#0095ff"/><stop offset="0.562" stop-color="#0069ff"/><stop offset="0.572" stop-color="#004ed8"/><stop offset="0.591" stop-color="#00369e"/><stop offset="0.621" stop-color="#00206c"/><stop offset="0.650" stop-color="#001451"/><stop offset="0.696" stop-color="#010f43"/><stop offset="0.698" stop-color="#000000"/><stop offset="0.999" stop-color="#000000"/></linearGradient><linearGradient id="h55"><stop offset="0.001" stop-color="#000000"/><stop offset="0.294" stop-color="#000000"/><stop offset="0.296" stop-color="#000e39"/><stop offset="0.299" stop-color="#00134d"/><stop offset="0.328" stop-color="#001c63"/><stop offset="0.355" stop-color="#002c88"/><stop offset="0.382" stop-color="#004ace"/><stop offset="0.395" stop-color="#0069ff"/><stop offset="0.398" stop-color="#006eff"/><stop offset="0.420" stop-color="#009dff"/><stop offset="0.430" stop-color="#00d0ff"/><stop offset="0.436" stop-color="#00f8ff"/><stop offset="0.438" stop-color="#00ffff"/><stop offset="0.519" stop-color="#00ffff"/><stop offset="0.521" stop-color="#00feff"/><stop offset="0.529" stop-color="#00c9ff"/><stop offset="0.540" stop-color="#0097ff"/><stop offset="0.562" stop-color="#006bff"/><stop offset="0.572" stop-color="#0050db"/><stop offset="0.591" stop-color="#0036a0"/><stop offset="0.621" stop-color="#00216d"/><stop offset="0.653" stop-color="#001450"/><stop offset="0.696" stop-color="#010f43"/><stop offset="0.698" stop-color="#000000"/><stop offset="0.999" stop-color="#000000"/></linearGradient><linearGradient id="h56"><stop offset="0.001" stop-color="#000000"/><stop offset="0.296" stop-color="#000000"/><stop offset="0.299" stop-color="#00134d"/><stop offset="0.328" stop-color="#001c63"/><stop offset="0.355" stop-color="#002c87"/><stop offset="0.382" stop-color="#0049cc"/><stop offset="0.398" stop-color="#006dff"/><stop offset="0.420" stop-color="#0099ff"/><stop offset="0.430" stop-color="#00caff"/><stop offset="0.438" stop-color="#00ffff"/><stop offset="0.521" stop-color="#00ffff"/><stop offset="0.535" stop-color="#00b1ff"/><stop offset="0.546" stop-color="#008bff"/><stop offset="0.564" stop-color="#0067fc"/><stop offset="0.575" stop-color="#004dd5"/><stop offset="0.594" stop-color="#00359c"/><stop offset="0.621" stop-color="#00216e"/><stop offset="0.653" stop-color="#001451"/><stop offset="0.696" stop-color="#010f43"/><stop offset="0.698" stop-color="#000000"/><stop offset="0.999" stop-color="#000000"/></linearGradient><linearGradient id="h57"><stop offset="0.001" stop-color="#000000"/><stop offset="0.296" stop-color="#000000"/><stop offset="0.299" stop-color="#00134d"/><stop offset="0.331" stop-color="#001d65"/><stop offset="0.358" stop-color="#002d8b"/><stop offset="0.385" stop-color="#004dd5"/><stop offset="0.398" stop-color="#006cff"/><stop offset="0.420" stop-color="#0096ff"/><stop offset="0.433" stop-color="#00d3ff"/><stop offset="0.438" stop-color="#00fbff"/><stop offset="0.441" stop-color="#00ffff"/><stop offset="0.521" stop-color="#00ffff"/><stop offset="0.540" stop-color="#009bff"/><stop offset="0.564" stop-color="#0069ff"/><stop offset="0.575" stop-color="#004ed7"/><stop offset="0.594" stop-color="#00359e"/><stop offset="0.621" stop-color="#00216f"/><stop offset="0.655" stop-color="#001450"/><stop offset="0.696" stop-color="#010f44"/><stop offset="0.698" stop-color="#000000"/><stop offset="0.999" stop-color="#000000"/></linearGradient><linearGradient id="h58"><stop offset="0.001" stop-color="#000000"/><stop offset="0.296" stop-color="#000000"/><stop offset="0.299" stop-color="#000513"/><stop offset="0.302" stop-color="#00134e"/><stop offset="0.331" stop-color="#001d65"/><stop offset="0.358" stop-color="#002d8b"/><stop offset="0.385" stop-color="#004dd4"/><stop offset="0.398" stop-color="#006cff"/><stop offset="0.420" stop-color="#0095ff"/><stop offset="0.430" stop-color="#00c3ff"/><stop offset="0.438" stop-color="#00f8ff"/><stop offset="0.441" stop-color="#00ffff"/><stop offset="0.521" stop-color="#00ffff"/><stop offset="0.540" stop-color="#009dff"/><stop offset="0.564" stop-color="#006aff"/><stop offset="0.575" stop-color="#004fd9"/><stop offset="0.594" stop-color="#00369f"/><stop offset="0.623" stop-color="#00206d"/><stop offset="0.655" stop-color="#001450"/><stop offset="0.696" stop-color="#010f44"/><stop offset="0.698" stop-color="#000000"/><stop offset="0.999" stop-color="#000000"/></linearGradient><linearGradient id="h59"><stop offset="0.001" stop-color="#000000"/><stop offset="0.299" stop-color="#000000"/><stop offset="0.304" stop-color="#001450"/><stop offset="0.334" stop-color="#001e68"/><stop offset="0.358" stop-color="#002d8b"/><stop offset="0.385" stop-color="#004cd4"/><stop offset="0.398" stop-color="#006cff"/><stop offset="0.422" stop-color="#009eff"/><stop offset="0.433" stop-color="#00ceff"/><stop offset="0.441" stop-color="#00ffff"/><stop offset="0.521" stop-color="#00ffff"/><stop offset="0.543" stop-color="#0095ff"/><stop offset="0.564" stop-color="#006bff"/><stop offset="0.575" stop-color="#0050db"/><stop offset="0.594" stop-color="#0036a0"/><stop offset="0.623" stop-color="#00216e"/><stop offset="0.655" stop-color="#001451"/><stop offset="0.696" stop-color="#010f44"/><stop offset="0.698" stop-color="#000411"/><stop offset="0.701" stop-color="#000000"/><stop offset="0.999" stop-color="#000000"/></linearGradient><linearGradient id="h60"><stop offset="0.001" stop-color="#000000"/><stop offset="0.302" stop-color="#000000"/><stop offset="0.304" stop-color="#000f3c"/><stop offset="0.307" stop-color="#001551"/><stop offset="0.336" stop-color="#00206b"/><stop offset="0.361" stop-color="#002f90"/><stop offset="0.385" stop-color="#004cd4"/><stop offset="0.398" stop-color="#006bff"/><stop offset="0.422" stop-color="#009dff"/><stop offset="0.433" stop-color="#00ccff"/><stop offset="0.441" stop-color="#00ffff"/><stop offset="0.521" stop-color="#00ffff"/><stop offset="0.524" stop-color="#00faff"/><stop offset="0.529" stop-color="#00d2ff"/><stop offset="0.543" stop-color="#0096ff"/><stop offset="0.564" stop-color="#006bff"/><stop offset="0.578" stop-color="#004cd3"/><stop offset="0.597" stop-color="#00349b"/><stop offset="0.623" stop-color="#00216e"/><stop offset="0.655" stop-color="#001451"/><stop offset="0.698" stop-color="#010f44"/><stop offset="0.701" stop-color="#000000"/><stop offset="0.999" stop-color="#000000"/></linearGradient><linearGradient id="h61"><stop offset="0.001" stop-color="#000000"/><stop offset="0.304" stop-color="#000000"/><stop offset="0.307" stop-color="#001551"/><stop offset="0.336" stop-color="#00206b"/><stop offset="0.361" stop-color="#002f90"/><stop offset="0.385" stop-color="#004cd3"/><stop offset="0.398" stop-color="#006bff"/><stop offset="0.422" stop-color="#009cff"/><stop offset="0.436" stop-color="#00d8ff"/><stop offset="0.441" stop-color="#00ffff"/><stop offset="0.521" stop-color="#00ffff"/><stop offset="0.524" stop-color="#00fbff"/><stop offset="0.529" stop-color="#00d3ff"/><stop offset="0.543" stop-color="#0097ff"/><stop offset="0.567" stop-color="#0067fc"/><stop offset="0.578" stop-color="#004dd5"/><stop offset="0.597" stop-color="#00359c"/><stop offset="0.623" stop-color="#00216f"/><stop offset="0.658" stop-color="#001450"/><stop offset="0.698" stop-color="#010f44"/><stop offset="0.701" stop-color="#000000"/><stop offset="0.999" stop-color="#000000"/></linearGradient><linearGradient id="h62"><stop offset="0.001" stop-color="#000000"/><stop offset="0.307" stop-color="#000000"/><stop offset="0.310" stop-color="#001553"/><stop offset="0.336" stop-color="#00206b"/><stop offset="0.361" stop-color="#002f90"/><stop offset="0.385" stop-color="#004cd3"/><stop offset="0.398" stop-color="#006bff"/><stop offset="0.422" stop-color="#009cff"/><stop offset="0.436" stop-color="#00d6ff"/><stop offset="0.441" stop-color="#00fdff"/><stop offset="0.521" stop-color="#00ffff"/><stop offset="0.524" stop-color="#00fdff"/><stop offset="0.529" stop-color="#00d5ff"/><stop offset="0.543" stop-color="#0098ff"/><stop offset="0.567" stop-color="#0069fe"/><stop offset="0.578" stop-color="#004ed7"/><stop offset="0.597" stop-color="#00359e"/><stop offset="0.623" stop-color="#002270"/><stop offset="0.658" stop-color="#001451"/><stop offset="0.701" stop-color="#010f44"/><stop offset="0.704" stop-color="#000000"/><stop offset="0.999" stop-color="#000000"/></linearGradient><linearGradient id="h63"><stop offset="0.001" stop-color="#000000"/><stop offset="0.307" stop-color="#000000"/><stop offset="0.310" stop-color="#000515"/><stop offset="0.312" stop-color="#001656"/><stop offset="0.339" stop-color="#00216f"/><stop offset="0.363" stop-color="#003195"/><stop offset="0.385" stop-color="#004cd3"/><stop offset="0.398" stop-color="#006bff"/><stop offset="0.422" stop-color="#009bff"/><stop offset="0.436" stop-color="#00d5ff"/><stop offset="0.441" stop-color="#00fbff"/><stop offset="0.444" stop-color="#00ffff"/><stop offset="0.521" stop-color="#00ffff"/><stop offset="0.524" stop-color="#00feff"/><stop offset="0.529" stop-color="#00d6ff"/><stop offset="0.543" stop-color="#009aff"/><stop offset="0.567" stop-color="#006aff"/><stop offset="0.578" stop-color="#004fda"/><stop offset="0.597" stop-color="#00369f"/><stop offset="0.623" stop-color="#002271"/><stop offset="0.658" stop-color="#001551"/><stop offset="0.698" stop-color="#011045"/><stop offset="0.704" stop-color="#000000"/><stop offset="0.999" stop-color="#000000"/></linearGradient><linearGradient id="h64"><stop offset="0.001" stop-color="#000000"/><stop offset="0.310" stop-color="#000000"/><stop offset="0.312" stop-color="#001656"/><stop offset="0.339" stop-color="#00216f"/><stop offset="0.363" stop-color="#003195"/><stop offset="0.385" stop-color="#004cd3"/><stop offset="0.398" stop-color="#006bff"/><stop offset="0.422" stop-color="#009bff"/><stop offset="0.436" stop-color="#00d4ff"/><stop offset="0.441" stop-color="#00faff"/><stop offset="0.444" stop-color="#00ffff"/><stop offset="0.524" stop-color="#00ffff"/><stop offset="0.529" stop-color="#00d8ff"/><stop offset="0.543" stop-color="#009bff"/><stop offset="0.567" stop-color="#006aff"/><stop offset="0.578" stop-color="#0050dc"/><stop offset="0.597" stop-color="#0037a1"/><stop offset="0.623" stop-color="#002271"/><stop offset="0.658" stop-color="#001552"/><stop offset="0.693" stop-color="#011046"/><stop offset="0.701" stop-color="#000000"/><stop offset="0.999" stop-color="#000000"/></linearGradient><linearGradient id="h65"><stop offset="0.001" stop-color="#000000"/><stop offset="0.312" stop-color="#000000"/><stop offset="0.315" stop-color="#001758"/><stop offset="0.342" stop-color="#002372"/><stop offset="0.363" stop-color="#003195"/><stop offset="0.385" stop-color="#004cd3"/><stop offset="0.398" stop-color="#006bff"/><stop offset="0.422" stop-color="#009bff"/><stop offset="0.444" stop-color="#00ffff"/><stop offset="0.524" stop-color="#00ffff"/><stop offset="0.529" stop-color="#00d9ff"/><stop offset="0.543" stop-color="#009cff"/><stop offset="0.567" stop-color="#006bff"/><stop offset="0.578" stop-color="#0050dd"/><stop offset="0.597" stop-color="#0037a1"/><stop offset="0.623" stop-color="#002372"/><stop offset="0.658" stop-color="#001552"/><stop offset="0.690" stop-color="#011047"/><stop offset="0.696" stop-color="#000000"/><stop offset="0.999" stop-color="#000000"/></linearGradient><linearGradient id="h66"><stop offset="0.001" stop-color="#000000"/><stop offset="0.312" stop-color="#000000"/><stop offset="0.315" stop-color="#001757"/><stop offset="0.342" stop-color="#002271"/><stop offset="0.363" stop-color="#003193"/><stop offset="0.387" stop-color="#004fda"/><stop offset="0.398" stop-color="#006aff"/><stop offset="0.422" stop-color="#0099ff"/><stop offset="0.436" stop-color="#00d2ff"/><stop offset="0.444" stop-color="#00ffff"/><stop offset="0.524" stop-color="#00ffff"/><stop offset="0.529" stop-color="#00d8ff"/><stop offset="0.543" stop-color="#009cff"/><stop offset="0.567" stop-color="#006bff"/><stop offset="0.578" stop-color="#0050dc"/><stop offset="0.597" stop-color="#0036a0"/><stop offset="0.623" stop-color="#002271"/><stop offset="0.655" stop-color="#001654"/><stop offset="0.685" stop-color="#011148"/><stop offset="0.688" stop-color="#010d36"/><stop offset="0.690" stop-color="#000000"/><stop offset="0.999" stop-color="#000000"/></linearGradient><linearGradient id="h67"><stop offset="0.001" stop-color="#000000"/><stop offset="0.312" stop-color="#000000"/><stop offset="0.318" stop-color="#001858"/><stop offset="0.363" stop-color="#003091"/><stop offset="0.387" stop-color="#004ed7"/><stop offset="0.398" stop-color="#0069ff"/><stop offset="0.401" stop-color="#006dff"/><stop offset="0.422" stop-color="#0098ff"/><stop offset="0.436" stop-color="#00cfff"/><stop offset="0.444" stop-color="#00ffff"/><stop offset="0.521" stop-color="#00ffff"/><stop offset="0.524" stop-color="#00feff"/><stop offset="0.529" stop-color="#00d7ff"/><stop offset="0.543" stop-color="#009bff"/><stop offset="0.567" stop-color="#006aff"/><stop offset="0.578" stop-color="#004fda"/><stop offset="0.597" stop-color="#00369f"/><stop offset="0.623" stop-color="#002271"/><stop offset="0.653" stop-color="#001655"/><stop offset="0.682" stop-color="#011149"/><stop offset="0.688" stop-color="#000000"/><stop offset="0.999" stop-color="#000000"/></linearGradient><linearGradient id="h68"><stop offset="0.001" stop-color="#000000"/><stop offset="0.315" stop-color="#000000"/><stop offset="0.318" stop-color="#001758"/><stop offset="0.345" stop-color="#002272"/><stop offset="0.366" stop-color="#003195"/><stop offset="0.387" stop-color="#004dd4"/><stop offset="0.401" stop-color="#006cff"/><stop offset="0.422" stop-color="#0096ff"/><stop offset="0.436" stop-color="#00cdff"/><stop offset="0.444" stop-color="#00ffff"/><stop offset="0.521" stop-color="#00ffff"/><stop offset="0.524" stop-color="#00fdff"/><stop offset="0.529" stop-color="#00d6ff"/><stop offset="0.543" stop-color="#009aff"/><stop offset="0.567" stop-color="#006aff"/><stop offset="0.580" stop-color="#004acf"/><stop offset="0.599" stop-color="#003398"/><stop offset="0.618" stop-color="#002577"/><stop offset="0.647" stop-color="#001859"/><stop offset="0.677" stop-color="#01124a"/><stop offset="0.680" stop-color="#000d37"/><stop offset="0.682" stop-color="#000000"/><stop offset="0.999" stop-color="#000000"/></linearGradient><linearGradient id="h69"><stop offset="0.001" stop-color="#000000"/><stop offset="0.315" stop-color="#000000"/><stop offset="0.318" stop-color="#001757"/><stop offset="0.345" stop-color="#002271"/><stop offset="0.366" stop-color="#003193"/><stop offset="0.390" stop-color="#0050dc"/><stop offset="0.401" stop-color="#006bff"/><stop offset="0.425" stop-color="#009dff"/><stop offset="0.438" stop-color="#00d8ff"/><stop offset="0.444" stop-color="#00feff"/><stop offset="0.521" stop-color="#00ffff"/><stop offset="0.524" stop-color="#00fcff"/><stop offset="0.529" stop-color="#00d5ff"/><stop offset="0.543" stop-color="#0099ff"/><stop offset="0.567" stop-color="#0069ff"/><stop offset="0.578" stop-color="#004ed7"/><stop offset="0.597" stop-color="#00359d"/><stop offset="0.615" stop-color="#00267a"/><stop offset="0.645" stop-color="#00185a"/><stop offset="0.674" stop-color="#01124b"/><stop offset="0.677" stop-color="#000413"/><stop offset="0.680" stop-color="#000000"/><stop offset="0.999" stop-color="#000000"/></linearGradient><linearGradient id="h70"><stop offset="0.001" stop-color="#000000"/><stop offset="0.318" stop-color="#000000"/><stop offset="0.320" stop-color="#001758"/><stop offset="0.347" stop-color="#002373"/><stop offset="0.369" stop-color="#003297"/><stop offset="0.390" stop-color="#004fd9"/><stop offset="0.401" stop-color="#006aff"/><stop offset="0.425" stop-color="#009bff"/><stop offset="0.438" stop-color="#00d6ff"/><stop offset="0.444" stop-color="#00fcff"/><stop offset="0.521" stop-color="#00ffff"/><stop offset="0.524" stop-color="#00fbff"/><stop offset="0.529" stop-color="#00d4ff"/><stop offset="0.543" stop-color="#0099ff"/><stop offset="0.567" stop-color="#0068fe"/><stop offset="0.578" stop-color="#004dd6"/><stop offset="0.597" stop-color="#00359c"/><stop offset="0.613" stop-color="#00277d"/><stop offset="0.639" stop-color="#001a5e"/><stop offset="0.669" stop-color="#00134c"/><stop offset="0.674" stop-color="#000000"/><stop offset="0.999" stop-color="#000000"/></linearGradient><linearGradient id="h71"><stop offset="0.001" stop-color="#000000"/><stop offset="0.318" stop-color="#000000"/><stop offset="0.320" stop-color="#001757"/><stop offset="0.347" stop-color="#002271"/><stop offset="0.369" stop-color="#003195"/><stop offset="0.390" stop-color="#004dd5"/><stop offset="0.401" stop-color="#0068fe"/><stop offset="0.403" stop-color="#006dff"/><stop offset="0.425" stop-color="#0099ff"/><stop offset="0.438" stop-color="#00d3ff"/><stop offset="0.444" stop-color="#00f9ff"/><stop offset="0.446" stop-color="#00ffff"/><stop offset="0.521" stop-color="#00ffff"/><stop offset="0.524" stop-color="#00faff"/><stop offset="0.529" stop-color="#00d3ff"/><stop offset="0.543" stop-color="#0098ff"/><stop offset="0.567" stop-color="#0067fd"/><stop offset="0.578" stop-color="#004dd5"/><stop offset="0.594" stop-color="#0037a2"/><stop offset="0.610" stop-color="#002981"/><stop offset="0.661" stop-color="#00144f"/><stop offset="0.664" stop-color="#000e3b"/><stop offset="0.666" stop-color="#000513"/><stop offset="0.669" stop-color="#000000"/><stop offset="0.999" stop-color="#000000"/></linearGradient><linearGradient id="h72"><stop offset="0.001" stop-color="#000000"/><stop offset="0.318" stop-color="#000000"/><stop offset="0.323" stop-color="#001859"/><stop offset="0.347" stop-color="#002270"/><stop offset="0.369" stop-color="#003193"/><stop offset="0.390" stop-color="#004cd2"/><stop offset="0.403" stop-color="#006cff"/><stop offset="0.425" stop-color="#0097ff"/><stop offset="0.438" stop-color="#00d1ff"/><stop offset="0.444" stop-color="#00f7ff"/><stop offset="0.446" stop-color="#00ffff"/><stop offset="0.521" stop-color="#00ffff"/><stop offset="0.524" stop-color="#00f9ff"/><stop offset="0.529" stop-color="#00d2ff"/><stop offset="0.543" stop-color="#0097ff"/><stop offset="0.567" stop-color="#0066fb"/><stop offset="0.586" stop-color="#0040b7"/><stop offset="0.602" stop-color="#002f8e"/><stop offset="0.626" stop-color="#001f6a"/><stop offset="0.655" stop-color="#001551"/><stop offset="0.658" stop-color="#000f3c"/><stop offset="0.661" stop-color="#000514"/><stop offset="0.664" stop-color="#000000"/><stop offset="0.999" stop-color="#000000"/></linearGradient><linearGradient id="h73"><stop offset="0.001" stop-color="#000000"/><stop offset="0.320" stop-color="#000000"/><stop offset="0.323" stop-color="#001758"/><stop offset="0.347" stop-color="#00216f"/><stop offset="0.369" stop-color="#003091"/><stop offset="0.393" stop-color="#004fda"/><stop offset="0.403" stop-color="#006bff"/><stop offset="0.425" stop-color="#0095ff"/><stop offset="0.438" stop-color="#00ceff"/><stop offset="0.446" stop-color="#00ffff"/><stop offset="0.521" stop-color="#00ffff"/><stop offset="0.543" stop-color="#0096ff"/><stop offset="0.567" stop-color="#0065fa"/><stop offset="0.578" stop-color="#004cd2"/><stop offset="0.599" stop-color="#003092"/><stop offset="0.623" stop-color="#00206d"/><stop offset="0.650" stop-color="#001654"/><stop offset="0.655" stop-color="#000000"/><stop offset="0.999" stop-color="#000000"/></linearGradient><linearGradient id="h74"><stop offset="0.001" stop-color="#000000"/><stop offset="0.320" stop-color="#000000"/><stop offset="0.323" stop-color="#001757"/><stop offset="0.369" stop-color="#002f8f"/><stop offset="0.393" stop-color="#004ed6"/><stop offset="0.403" stop-color="#0069ff"/><stop offset="0.406" stop-color="#006eff"/><stop offset="0.428" stop-color="#009dff"/><stop offset="0.441" stop-color="#00daff"/><stop offset="0.446" stop-color="#00ffff"/><stop offset="0.521" stop-color="#00ffff"/><stop offset="0.524" stop-color="#00f7ff"/><stop offset="0.532" stop-color="#00c3ff"/><stop offset="0.543" stop-color="#0096ff"/><stop offset="0.564" stop-color="#006bff"/><stop offset="0.575" stop-color="#004fdb"/><stop offset="0.599" stop-color="#003091"/><stop offset="0.621" stop-color="#00216f"/><stop offset="0.647" stop-color="#001756"/><stop offset="0.650" stop-color="#000515"/><stop offset="0.653" stop-color="#000000"/><stop offset="0.999" stop-color="#000000"/></linearGradient><linearGradient id="h75"><stop offset="0.001" stop-color="#000000"/><stop offset="0.320" stop-color="#000000"/><stop offset="0.323" stop-color="#001141"/><stop offset="0.326" stop-color="#001858"/><stop offset="0.350" stop-color="#002270"/><stop offset="0.371" stop-color="#003193"/><stop offset="0.393" stop-color="#004cd3"/><stop offset="0.406" stop-color="#006dff"/><stop offset="0.428" stop-color="#009bff"/><stop offset="0.441" stop-color="#00d7ff"/><stop offset="0.446" stop-color="#00feff"/><stop offset="0.521" stop-color="#00ffff"/><stop offset="0.524" stop-color="#00f6ff"/><stop offset="0.529" stop-color="#00cfff"/><stop offset="0.543" stop-color="#0095ff"/><stop offset="0.564" stop-color="#006aff"/><stop offset="0.575" stop-color="#004fd9"/><stop offset="0.597" stop-color="#003296"/><stop offset="0.618" stop-color="#002372"/><stop offset="0.645" stop-color="#001757"/><stop offset="0.650" stop-color="#000000"/><stop offset="0.999" stop-color="#000000"/></linearGradient><linearGradient id="h76"><stop offset="0.001" stop-color="#000000"/><stop offset="0.323" stop-color="#000000"/><stop offset="0.326" stop-color="#001758"/><stop offset="0.350" stop-color="#00216f"/><stop offset="0.371" stop-color="#003091"/><stop offset="0.393" stop-color="#004bd0"/><stop offset="0.406" stop-color="#006cff"/><stop offset="0.428" stop-color="#0099ff"/><stop offset="0.441" stop-color="#00d5ff"/><stop offset="0.446" stop-color="#00fcff"/><stop offset="0.521" stop-color="#00ffff"/><stop offset="0.529" stop-color="#00ceff"/><stop offset="0.540" stop-color="#009eff"/><stop offset="0.564" stop-color="#006aff"/><stop offset="0.575" stop-color="#004ed8"/><stop offset="0.597" stop-color="#003295"/><stop offset="0.618" stop-color="#002271"/><stop offset="0.642" stop-color="#001859"/><stop offset="0.645" stop-color="#001141"/><stop offset="0.647" stop-color="#000000"/><stop offset="0.999" stop-color="#000000"/></linearGradient><linearGradient id="h77"><stop offset="0.001" stop-color="#000000"/><stop offset="0.323" stop-color="#000000"/><stop offset="0.326" stop-color="#001757"/><stop offset="0.353" stop-color="#002271"/><stop offset="0.374" stop-color="#003194"/><stop offset="0.395" stop-color="#004ed8"/><stop offset="0.406" stop-color="#006aff"/><stop offset="0.428" stop-color="#0097ff"/><stop offset="0.441" stop-color="#00d2ff"/><stop offset="0.446" stop-color="#00f9ff"/><stop offset="0.449" stop-color="#00ffff"/><stop offset="0.521" stop-color="#00ffff"/><stop offset="0.529" stop-color="#00cdff"/><stop offset="0.540" stop-color="#009dff"/><stop offset="0.564" stop-color="#0069ff"/><stop offset="0.575" stop-color="#004dd6"/><stop offset="0.597" stop-color="#003194"/><stop offset="0.618" stop-color="#002270"/><stop offset="0.642" stop-color="#001859"/><stop offset="0.647" stop-color="#000000"/><stop offset="0.999" stop-color="#000000"/></linearGradient><linearGradient id="h78"><stop offset="0.001" stop-color="#000000"/><stop offset="0.323" stop-color="#000000"/><stop offset="0.326" stop-color="#001756"/><stop offset="0.353" stop-color="#00216f"/><stop offset="0.374" stop-color="#003092"/><stop offset="0.395" stop-color="#004dd4"/><stop offset="0.406" stop-color="#0069ff"/><stop offset="0.409" stop-color="#006eff"/><stop offset="0.428" stop-color="#0095ff"/><stop offset="0.441" stop-color="#00d0ff"/><stop offset="0.446" stop-color="#00f7ff"/><stop offset="0.449" stop-color="#00ffff"/><stop offset="0.521" stop-color="#00ffff"/><stop offset="0.529" stop-color="#00cdff"/><stop offset="0.540" stop-color="#009cff"/><stop offset="0.564" stop-color="#0069fe"/><stop offset="0.575" stop-color="#004dd4"/><stop offset="0.597" stop-color="#003193"/><stop offset="0.618" stop-color="#002270"/><stop offset="0.645" stop-color="#001756"/><stop offset="0.647" stop-color="#00103f"/><stop offset="0.650" stop-color="#000000"/><stop offset="0.999" stop-color="#000000"/></linearGradient><linearGradient id="h79"><stop offset="0.001" stop-color="#000000"/><stop offset="0.323" stop-color="#000000"/><stop offset="0.328" stop-color="#001757"/><stop offset="0.353" stop-color="#00216e"/><stop offset="0.374" stop-color="#003090"/><stop offset="0.395" stop-color="#004bd1"/><stop offset="0.409" stop-color="#006cff"/><stop offset="0.430" stop-color="#009cff"/><stop offset="0.441" stop-color="#00cdff"/><stop offset="0.449" stop-color="#00ffff"/><stop offset="0.521" stop-color="#00ffff"/><stop offset="0.529" stop-color="#00ccff"/><stop offset="0.540" stop-color="#009cff"/><stop offset="0.564" stop-color="#0067fd"/><stop offset="0.583" stop-color="#0040b6"/><stop offset="0.599" stop-color="#002e8c"/><stop offset="0.621" stop-color="#00206c"/><stop offset="0.650" stop-color="#001552"/><stop offset="0.653" stop-color="#000514"/><stop offset="0.655" stop-color="#000000"/><stop offset="0.999" stop-color="#000000"/></linearGradient><linearGradient id="h80"><stop offset="0.001" stop-color="#000000"/><stop offset="0.326" stop-color="#000000"/><stop offset="0.328" stop-color="#001757"/><stop offset="0.355" stop-color="#002270"/><stop offset="0.377" stop-color="#003194"/><stop offset="0.398" stop-color="#004fd9"/><stop offset="0.409" stop-color="#006bff"/><stop offset="0.430" stop-color="#009aff"/><stop offset="0.444" stop-color="#00d9ff"/><stop offset="0.449" stop-color="#00ffff"/><stop offset="0.521" stop-color="#00ffff"/><stop offset="0.529" stop-color="#00cbff"/><stop offset="0.540" stop-color="#009bff"/><stop offset="0.562" stop-color="#006cff"/><stop offset="0.572" stop-color="#0050dc"/><stop offset="0.588" stop-color="#0038a5"/><stop offset="0.605" stop-color="#002982"/><stop offset="0.653" stop-color="#001450"/><stop offset="0.655" stop-color="#000a28"/><stop offset="0.661" stop-color="#000000"/><stop offset="0.999" stop-color="#000000"/></linearGradient><linearGradient id="h81"><stop offset="0.001" stop-color="#000000"/><stop offset="0.326" stop-color="#000000"/><stop offset="0.328" stop-color="#001756"/><stop offset="0.355" stop-color="#00216f"/><stop offset="0.377" stop-color="#003092"/><stop offset="0.398" stop-color="#004dd5"/><stop offset="0.409" stop-color="#006aff"/><stop offset="0.430" stop-color="#0098ff"/><stop offset="0.444" stop-color="#00d6ff"/><stop offset="0.449" stop-color="#00feff"/><stop offset="0.521" stop-color="#00ffff"/><stop offset="0.527" stop-color="#00d8ff"/><stop offset="0.540" stop-color="#009aff"/><stop offset="0.562" stop-color="#006cff"/><stop offset="0.575" stop-color="#004bd0"/><stop offset="0.591" stop-color="#00359c"/><stop offset="0.607" stop-color="#00277d"/><stop offset="0.631" stop-color="#001b60"/><stop offset="0.661" stop-color="#00134d"/><stop offset="0.664" stop-color="#000e39"/><stop offset="0.666" stop-color="#000e38"/><stop offset="0.674" stop-color="#000000"/><stop offset="0.999" stop-color="#000000"/></linearGradient><linearGradient id="h82"><stop offset="0.001" stop-color="#000000"/><stop offset="0.326" stop-color="#000000"/><stop offset="0.328" stop-color="#001140"/><stop offset="0.331" stop-color="#001757"/><stop offset="0.355" stop-color="#00216e"/><stop offset="0.377" stop-color="#003090"/><stop offset="0.398" stop-color="#004cd2"/><stop offset="0.409" stop-color="#0068fe"/><stop offset="0.412" stop-color="#006dff"/><stop offset="0.430" stop-color="#0096ff"/><stop offset="0.444" stop-color="#00d4ff"/><stop offset="0.449" stop-color="#00fcff"/><stop offset="0.521" stop-color="#00ffff"/><stop offset="0.527" stop-color="#00d8ff"/><stop offset="0.540" stop-color="#0099ff"/><stop offset="0.562" stop-color="#006bff"/><stop offset="0.572" stop-color="#004fd9"/><stop offset="0.591" stop-color="#00349b"/><stop offset="0.615" stop-color="#002270"/><stop offset="0.647" stop-color="#001553"/><stop offset="0.677" stop-color="#011148"/><stop offset="0.682" stop-color="#000823"/><stop offset="0.685" stop-color="#000823"/><stop offset="0.690" stop-color="#000000"/><stop offset="0.999" stop-color="#000000"/></linearGradient><linearGradient id="h83"><stop offset="0.001" stop-color="#000000"/><stop offset="0.328" stop-color="#000000"/><stop offset="0.331" stop-color="#001756"/><stop offset="0.358" stop-color="#002270"/><stop offset="0.379" stop-color="#003194"/><stop offset="0.401" stop-color="#004fda"/><stop offset="0.412" stop-color="#006cff"/><stop offset="0.430" stop-color="#0095ff"/><stop offset="0.444" stop-color="#00d1ff"/><stop offset="0.449" stop-color="#00f9ff"/><stop offset="0.452" stop-color="#00ffff"/><stop offset="0.521" stop-color="#00ffff"/><stop offset="0.527" stop-color="#00d7ff"/><stop offset="0.540" stop-color="#0098ff"/><stop offset="0.562" stop-color="#006aff"/><stop offset="0.572" stop-color="#004ed7"/><stop offset="0.588" stop-color="#0037a1"/><stop offset="0.615" stop-color="#002270"/><stop offset="0.650" stop-color="#001451"/><stop offset="0.693" stop-color="#010f44"/><stop offset="0.701" stop-color="#000411"/><stop offset="0.704" stop-color="#000411"/><stop offset="0.706" stop-color="#000000"/><stop offset="0.999" stop-color="#000000"/></linearGradient><linearGradient id="h84"><stop offset="0.001" stop-color="#000000"/><stop offset="0.328" stop-color="#000000"/><stop offset="0.331" stop-color="#001656"/><stop offset="0.358" stop-color="#00216f"/><stop offset="0.379" stop-color="#003092"/><stop offset="0.401" stop-color="#004ed6"/><stop offset="0.412" stop-color="#006bff"/><stop offset="0.433" stop-color="#009cff"/><stop offset="0.452" stop-color="#00ffff"/><stop offset="0.519" stop-color="#00ffff"/><stop offset="0.521" stop-color="#00feff"/><stop offset="0.527" stop-color="#00d6ff"/><stop offset="0.540" stop-color="#0098ff"/><stop offset="0.562" stop-color="#006aff"/><stop offset="0.572" stop-color="#004dd6"/><stop offset="0.588" stop-color="#00369f"/><stop offset="0.615" stop-color="#00216f"/><stop offset="0.650" stop-color="#001450"/><stop offset="0.706" stop-color="#010e42"/><stop offset="0.717" stop-color="#000000"/><stop offset="0.999" stop-color="#000000"/></linearGradient><linearGradient id="h85"><stop offset="0.001" stop-color="#000000"/><stop offset="0.328" stop-color="#000000"/><stop offset="0.331" stop-color="#001140"/><stop offset="0.334" stop-color="#001757"/><stop offset="0.358" stop-color="#00216e"/><stop offset="0.379" stop-color="#002f90"/><stop offset="0.401" stop-color="#004cd3"/><stop offset="0.412" stop-color="#0069ff"/><stop offset="0.414" stop-color="#006eff"/><stop offset="0.433" stop-color="#009aff"/><stop offset="0.444" stop-color="#00ccff"/><stop offset="0.452" stop-color="#00ffff"/><stop offset="0.519" stop-color="#00ffff"/><stop offset="0.521" stop-color="#00feff"/><stop offset="0.527" stop-color="#00d5ff"/><stop offset="0.540" stop-color="#0097ff"/><stop offset="0.562" stop-color="#0069ff"/><stop offset="0.572" stop-color="#004dd4"/><stop offset="0.588" stop-color="#00359e"/><stop offset="0.615" stop-color="#00216e"/><stop offset="0.650" stop-color="#001450"/><stop offset="0.717" stop-color="#020e40"/><stop offset="0.728" stop-color="#000000"/><stop offset="0.999" stop-color="#000000"/></linearGradient><linearGradient id="h86"><stop offset="0.001" stop-color="#000000"/><stop offset="0.331" stop-color="#000000"/><stop offset="0.334" stop-color="#001756"/><stop offset="0.358" stop-color="#00206c"/><stop offset="0.379" stop-color="#002f8e"/><stop offset="0.401" stop-color="#004bd0"/><stop offset="0.412" stop-color="#0067fd"/><stop offset="0.414" stop-color="#006dff"/><stop offset="0.433" stop-color="#0098ff"/><stop offset="0.444" stop-color="#00caff"/><stop offset="0.452" stop-color="#00ffff"/><stop offset="0.519" stop-color="#00ffff"/><stop offset="0.521" stop-color="#00fdff"/><stop offset="0.527" stop-color="#00d4ff"/><stop offset="0.540" stop-color="#0096ff"/><stop offset="0.562" stop-color="#0068fe"/><stop offset="0.572" stop-color="#004cd2"/><stop offset="0.588" stop-color="#00359d"/><stop offset="0.615" stop-color="#00216d"/><stop offset="0.650" stop-color="#001450"/><stop offset="0.728" stop-color="#020d3e"/><stop offset="0.739" stop-color="#000000"/><stop offset="0.999" stop-color="#000000"/></linearGradient><linearGradient id="h87"><stop offset="0.001" stop-color="#000000"/><stop offset="0.331" stop-color="#000000"/><stop offset="0.334" stop-color="#001656"/><stop offset="0.361" stop-color="#00216f"/><stop offset="0.382" stop-color="#003092"/><stop offset="0.403" stop-color="#004ed8"/><stop offset="0.414" stop-color="#006cff"/><stop offset="0.433" stop-color="#0096ff"/><stop offset="0.446" stop-color="#00d6ff"/><stop offset="0.452" stop-color="#00ffff"/><stop offset="0.519" stop-color="#00ffff"/><stop offset="0.521" stop-color="#00fcff"/><stop offset="0.527" stop-color="#00d3ff"/><stop offset="0.540" stop-color="#0095ff"/><stop offset="0.562" stop-color="#0067fd"/><stop offset="0.570" stop-color="#0050dc"/><stop offset="0.588" stop-color="#00349b"/><stop offset="0.615" stop-color="#00206d"/><stop offset="0.650" stop-color="#001450"/><stop offset="0.739" stop-color="#020c3d"/><stop offset="0.741" stop-color="#00030f"/><stop offset="0.744" stop-color="#000000"/><stop offset="0.999" stop-color="#000000"/></linearGradient><linearGradient id="h88"><stop offset="0.001" stop-color="#000000"/><stop offset="0.331" stop-color="#000000"/><stop offset="0.334" stop-color="#001655"/><stop offset="0.361" stop-color="#00216d"/><stop offset="0.382" stop-color="#002f90"/><stop offset="0.403" stop-color="#004dd4"/><stop offset="0.414" stop-color="#006aff"/><stop offset="0.436" stop-color="#009eff"/><stop offset="0.446" stop-color="#00d3ff"/><stop offset="0.452" stop-color="#00fcff"/><stop offset="0.519" stop-color="#00ffff"/><stop offset="0.521" stop-color="#00fbff"/><stop offset="0.527" stop-color="#00d2ff"/><stop offset="0.540" stop-color="#0095ff"/><stop offset="0.562" stop-color="#0066fb"/><stop offset="0.570" stop-color="#004fda"/><stop offset="0.586" stop-color="#0037a1"/><stop offset="0.613" stop-color="#00216f"/><stop offset="0.650" stop-color="#00144f"/><stop offset="0.741" stop-color="#020c3d"/><stop offset="0.744" stop-color="#00030f"/><stop offset="0.747" stop-color="#000000"/><stop offset="0.999" stop-color="#000000"/></linearGradient><linearGradient id="h89"><stop offset="0.001" stop-color="#000000"/><stop offset="0.334" stop-color="#000000"/><stop offset="0.336" stop-color="#001756"/><stop offset="0.363" stop-color="#002270"/><stop offset="0.385" stop-color="#003194"/><stop offset="0.403" stop-color="#004cd2"/><stop offset="0.414" stop-color="#006aff"/><stop offset="0.436" stop-color="#009dff"/><stop offset="0.446" stop-color="#00d1ff"/><stop offset="0.452" stop-color="#00fbff"/><stop offset="0.454" stop-color="#00ffff"/><stop offset="0.519" stop-color="#00ffff"/><stop offset="0.521" stop-color="#00faff"/><stop offset="0.527" stop-color="#00d2ff"/><stop offset="0.540" stop-color="#0094ff"/><stop offset="0.559" stop-color="#006cff"/><stop offset="0.570" stop-color="#004fd9"/><stop offset="0.588" stop-color="#003399"/><stop offset="0.613" stop-color="#00216f"/><stop offset="0.650" stop-color="#00144f"/><stop offset="0.744" stop-color="#020c3c"/><stop offset="0.747" stop-color="#000000"/><stop offset="0.999" stop-color="#000000"/></linearGradient><linearGradient id="cbar" x1="0" y1="0" x2="0" y2="1"><stop offset="0.000" stop-color="#00ffff"/><stop offset="0.630" stop-color="#00ffff"/><stop offset="0.650" stop-color="#00f5ff"/><stop offset="0.680" stop-color="#00dcff"/><stop offset="0.740" stop-color="#00b9ff"/><stop offset="0.790" stop-color="#0096ff"/><stop offset="0.840" stop-color="#007dff"/><stop offset="0.870" stop-color="#0069ff"/><stop offset="0.890" stop-color="#0050dc"/><stop offset="0.923" stop-color="#003296"/><stop offset="0.960" stop-color="#001450"/><stop offset="1.000" stop-color="#05001e"/></linearGradient><linearGradient id="gblue" x1="0" y1="0" x2="0" y2="1"><stop offset="0" stop-color="#1a6ec8"/><stop offset="0.45" stop-color="#6aaee6"/><stop offset="0.75" stop-color="#a8d6f6"/><stop offset="1" stop-color="#bfe3fb"/></linearGradient><linearGradient id="ggray" x1="0" y1="0" x2="0" y2="1"><stop offset="0" stop-color="#2a2a2a"/><stop offset="0.6" stop-color="#666666"/><stop offset="1" stop-color="#8a8a8a"/></linearGradient><linearGradient id="gred" x1="0" y1="0" x2="0" y2="1"><stop offset="0" stop-color="#ff1a1a"/><stop offset="0.5" stop-color="#ff5050"/><stop offset="1" stop-color="#ff8080"/></linearGradient><linearGradient id="ggreen" x1="0" y1="0" x2="0" y2="1"><stop offset="0" stop-color="#007a00"/><stop offset="0.6" stop-color="#0aa00a"/><stop offset="1" stop-color="#2cb82c"/></linearGradient><clipPath id="cb0"><rect x="145.2" y="521.5" width="309.6" height="147.3"/></clipPath><linearGradient id="gblue0" gradientUnits="userSpaceOnUse" x1="0" y1="529.5" x2="0" y2="668.0"><stop offset="0" stop-color="#1a6ec8"/><stop offset="0.45" stop-color="#6aaee6"/><stop offset="0.75" stop-color="#a8d6f6"/><stop offset="1" stop-color="#bfe3fb"/></linearGradient><linearGradient id="ggray0" gradientUnits="userSpaceOnUse" x1="0" y1="623.6" x2="0" y2="668.0"><stop offset="0" stop-color="#2a2a2a"/><stop offset="0.6" stop-color="#666666"/><stop offset="1" stop-color="#8a8a8a"/></linearGradient><linearGradient id="gred0" gradientUnits="userSpaceOnUse" x1="0" y1="626.1" x2="0" y2="668.0"><stop offset="0" stop-color="#ff1a1a"/><stop offset="0.5" stop-color="#ff5050"/><stop offset="1" stop-color="#ff8080"/></linearGradient><linearGradient id="ggreen0" gradientUnits="userSpaceOnUse" x1="0" y1="650.7" x2="0" y2="668.0"><stop offset="0" stop-color="#007a00"/><stop offset="0.6" stop-color="#0aa00a"/><stop offset="1" stop-color="#2cb82c"/></linearGradient><clipPath id="cb1"><rect x="145.2" y="668.8" width="309.6" height="147.4"/></clipPath><linearGradient id="gblue1" gradientUnits="userSpaceOnUse" x1="0" y1="694.7" x2="0" y2="815.4"><stop offset="0" stop-color="#1a6ec8"/><stop offset="0.45" stop-color="#6aaee6"/><stop offset="0.75" stop-color="#a8d6f6"/><stop offset="1" stop-color="#bfe3fb"/></linearGradient><linearGradient id="ggray1" gradientUnits="userSpaceOnUse" x1="0" y1="783.7" x2="0" y2="815.4"><stop offset="0" stop-color="#2a2a2a"/><stop offset="0.6" stop-color="#666666"/><stop offset="1" stop-color="#8a8a8a"/></linearGradient><linearGradient id="gred1" gradientUnits="userSpaceOnUse" x1="0" y1="778.4" x2="0" y2="815.4"><stop offset="0" stop-color="#ff1a1a"/><stop offset="0.5" stop-color="#ff5050"/><stop offset="1" stop-color="#ff8080"/></linearGradient><linearGradient id="ggreen1" gradientUnits="userSpaceOnUse" x1="0" y1="802.4" x2="0" y2="815.4"><stop offset="0" stop-color="#007a00"/><stop offset="0.6" stop-color="#0aa00a"/><stop offset="1" stop-color="#2cb82c"/></linearGradient><clipPath id="cb2"><rect x="145.2" y="816.2" width="309.6" height="147.4"/></clipPath><linearGradient id="gblue2" gradientUnits="userSpaceOnUse" x1="0" y1="818.8" x2="0" y2="962.8"><stop offset="0" stop-color="#1a6ec8"/><stop offset="0.45" stop-color="#6aaee6"/><stop offset="0.75" stop-color="#a8d6f6"/><stop offset="1" stop-color="#bfe3fb"/></linearGradient><linearGradient id="ggray2" gradientUnits="userSpaceOnUse" x1="0" y1="926.1" x2="0" y2="962.8"><stop offset="0" stop-color="#2a2a2a"/><stop offset="0.6" stop-color="#666666"/><stop offset="1" stop-color="#8a8a8a"/></linearGradient><linearGradient id="gred2" gradientUnits="userSpaceOnUse" x1="0" y1="907.6" x2="0" y2="962.8"><stop offset="0" stop-color="#ff1a1a"/><stop offset="0.5" stop-color="#ff5050"/><stop offset="1" stop-color="#ff8080"/></linearGradient><linearGradient id="ggreen2" gradientUnits="userSpaceOnUse" x1="0" y1="947.5" x2="0" y2="962.8"><stop offset="0" stop-color="#007a00"/><stop offset="0.6" stop-color="#0aa00a"/><stop offset="1" stop-color="#2cb82c"/></linearGradient><clipPath id="cb3"><rect x="145.2" y="963.6" width="309.6" height="147.4"/></clipPath><linearGradient id="gblue3" gradientUnits="userSpaceOnUse" x1="0" y1="994.5" x2="0" y2="1110.2"><stop offset="0" stop-color="#1a6ec8"/><stop offset="0.45" stop-color="#6aaee6"/><stop offset="0.75" stop-color="#a8d6f6"/><stop offset="1" stop-color="#bfe3fb"/></linearGradient><linearGradient id="ggray3" gradientUnits="userSpaceOnUse" x1="0" y1="1070.2" x2="0" y2="1110.2"><stop offset="0" stop-color="#2a2a2a"/><stop offset="0.6" stop-color="#666666"/><stop offset="1" stop-color="#8a8a8a"/></linearGradient><linearGradient id="gred3" gradientUnits="userSpaceOnUse" x1="0" y1="1024.3" x2="0" y2="1110.2"><stop offset="0" stop-color="#ff1a1a"/><stop offset="0.5" stop-color="#ff5050"/><stop offset="1" stop-color="#ff8080"/></linearGradient><linearGradient id="ggreen3" gradientUnits="userSpaceOnUse" x1="0" y1="1088.6" x2="0" y2="1110.2"><stop offset="0" stop-color="#007a00"/><stop offset="0.6" stop-color="#0aa00a"/><stop offset="1" stop-color="#2cb82c"/></linearGradient><clipPath id="cb4"><rect x="145.2" y="1111.0" width="309.6" height="147.4"/></clipPath><linearGradient id="gblue4" gradientUnits="userSpaceOnUse" x1="0" y1="1114.1" x2="0" y2="1257.6"><stop offset="0" stop-color="#1a6ec8"/><stop offset="0.45" stop-color="#6aaee6"/><stop offset="0.75" stop-color="#a8d6f6"/><stop offset="1" stop-color="#bfe3fb"/></linearGradient></defs>
<rect width="1351" height="1344" fill="#fff"/>
<rect x="102" y="45" width="373" height="357" fill="#000"/>
<rect x="102" y="45" width="373" height="4" fill="url(#h0)"/>
<rect x="102" y="49" width="373" height="4" fill="url(#h1)"/>
<rect x="102" y="53" width="373" height="4" fill="url(#h2)"/>
<rect x="102" y="57" width="373" height="4" fill="url(#h3)"/>
<rect x="102" y="61" width="373" height="4" fill="url(#h4)"/>
<rect x="102" y="65" width="373" height="4" fill="url(#h5)"/>
<rect x="102" y="69" width="373" height="4" fill="url(#h6)"/>
<rect x="102" y="73" width="373" height="4" fill="url(#h7)"/>
<rect x="102" y="77" width="373" height="4" fill="url(#h8)"/>
<rect x="102" y="81" width="373" height="4" fill="url(#h9)"/>
<rect x="102" y="85" width="373" height="4" fill="url(#h10)"/>
<rect x="102" y="89" width="373" height="4" fill="url(#h11)"/>
<rect x="102" y="93" width="373" height="4" fill="url(#h12)"/>
<rect x="102" y="97" width="373" height="4" fill="url(#h13)"/>
<rect x="102" y="101" width="373" height="4" fill="url(#h14)"/>
<rect x="102" y="105" width="373" height="4" fill="url(#h15)"/>
<rect x="102" y="109" width="373" height="4" fill="url(#h16)"/>
<rect x="102" y="113" width="373" height="4" fill="url(#h17)"/>
<rect x="102" y="117" width="373" height="4" fill="url(#h18)"/>
<rect x="102" y="121" width="373" height="4" fill="url(#h19)"/>
<rect x="102" y="125" width="373" height="4" fill="url(#h20)"/>
<rect x="102" y="129" width="373" height="4" fill="url(#h21)"/>
<rect x="102" y="133" width="373" height="4" fill="url(#h22)"/>
<rect x="102" y="137" width="373" height="4" fill="url(#h23)"/>
<rect x="102" y="141" width="373" height="4" fill="url(#h24)"/>
<rect x="102" y="145" width="373" height="4" fill="url(#h25)"/>
<rect x="102" y="149" width="373" height="4" fill="url(#h26)"/>
<rect x="102" y="153" width="373" height="4" fill="url(#h27)"/>
<rect x="102" y="157" width="373" height="4" fill="url(#h28)"/>
<rect x="102" y="161" width="373" height="4" fill="url(#h29)"/>
<rect x="102" y="165" width="373" height="4" fill="url(#h30)"/>
<rect x="102" y="169" width="373" height="4" fill="url(#h31)"/>
<rect x="102" y="173" width="373" height="4" fill="url(#h32)"/>
<rect x="102" y="177" width="373" height="4" fill="url(#h33)"/>
<rect x="102" y="181" width="373" height="4" fill="url(#h34)"/>
<rect x="102" y="185" width="373" height="4" fill="url(#h35)"/>
<rect x="102" y="189" width="373" height="4" fill="url(#h36)"/>
<rect x="102" y="193" width="373" height="4" fill="url(#h37)"/>
<rect x="102" y="197" width="373" height="4" fill="url(#h38)"/>
<rect x="102" y="201" width="373" height="4" fill="url(#h39)"/>
<rect x="102" y="205" width="373" height="4" fill="url(#h40)"/>
<rect x="102" y="209" width="373" height="4" fill="url(#h41)"/>
<rect x="102" y="213" width="373" height="4" fill="url(#h42)"/>
<rect x="102" y="217" width="373" height="4" fill="url(#h43)"/>
<rect x="102" y="221" width="373" height="4" fill="url(#h44)"/>
<rect x="102" y="225" width="373" height="4" fill="url(#h45)"/>
<rect x="102" y="229" width="373" height="4" fill="url(#h46)"/>
<rect x="102" y="233" width="373" height="4" fill="url(#h47)"/>
<rect x="102" y="237" width="373" height="4" fill="url(#h48)"/>
<rect x="102" y="241" width="373" height="4" fill="url(#h49)"/>
<rect x="102" y="245" width="373" height="4" fill="url(#h50)"/>
<rect x="102" y="249" width="373" height="4" fill="url(#h51)"/>
<rect x="102" y="253" width="373" height="4" fill="url(#h52)"/>
<rect x="102" y="257" width="373" height="4" fill="url(#h53)"/>
<rect x="102" y="261" width="373" height="4" fill="url(#h54)"/>
<rect x="102" y="265" width="373" height="4" fill="url(#h55)"/>
<rect x="102" y="269" width="373" height="4" fill="url(#h56)"/>
<rect x="102" y="273" width="373" height="4" fill="url(#h57)"/>
<rect x="102" y="277" width="373" height="4" fill="url(#h58)"/>
<rect x="102" y="281" width="373" height="4" fill="url(#h59)"/>
<rect x="102" y="285" width="373" height="4" fill="url(#h60)"/>
<rect x="102" y="289" width="373" height="4" fill="url(#h61)"/>
<rect x="102" y="293" width="373" height="4" fill="url(#h62)"/>
<rect x="102" y="297" width="373" height="4" fill="url(#h63)"/>
<rect x="102" y="301" width="373" height="4" fill="url(#h64)"/>
<rect x="102" y="305" width="373" height="4" fill="url(#h65)"/>
<rect x="102" y="309" width="373" height="4" fill="url(#h66)"/>
<rect x="102" y="313" width="373" height="4" fill="url(#h67)"/>
<rect x="102" y="317" width="373" height="4" fill="url(#h68)"/>
<rect x="102" y="321" width="373" height="4" fill="url(#h69)"/>
<rect x="102" y="325" width="373" height="4" fill="url(#h70)"/>
<rect x="102" y="329" width="373" height="4" fill="url(#h71)"/>
<rect x="102" y="333" width="373" height="4" fill="url(#h72)"/>
<rect x="102" y="337" width="373" height="4" fill="url(#h73)"/>
<rect x="102" y="341" width="373" height="4" fill="url(#h74)"/>
<rect x="102" y="345" width="373" height="4" fill="url(#h75)"/>
<rect x="102" y="349" width="373" height="4" fill="url(#h76)"/>
<rect x="102" y="353" width="373" height="4" fill="url(#h77)"/>
<rect x="102" y="357" width="373" height="4" fill="url(#h78)"/>
<rect x="102" y="361" width="373" height="4" fill="url(#h79)"/>
<rect x="102" y="365" width="373" height="4" fill="url(#h80)"/>
<rect x="102" y="369" width="373" height="4" fill="url(#h81)"/>
<rect x="102" y="373" width="373" height="4" fill="url(#h82)"/>
<rect x="102" y="377" width="373" height="4" fill="url(#h83)"/>
<rect x="102" y="381" width="373" height="4" fill="url(#h84)"/>
<rect x="102" y="385" width="373" height="4" fill="url(#h85)"/>
<rect x="102" y="389" width="373" height="4" fill="url(#h86)"/>
<rect x="102" y="393" width="373" height="4" fill="url(#h87)"/>
<rect x="102" y="397" width="373" height="4" fill="url(#h88)"/>
<rect x="102" y="401" width="373" height="1" fill="url(#h89)"/>
<rect x="482.2" y="42.7" width="20.9" height="361" fill="url(#cbar)"/>
<g clip-path="url(#cb0)">
<path d="M146.2,668 146.2,667.4 177.4,667 198.9,666.2 211.2,665.4 220.9,664.3 229.4,662.7 232.9,661.7 236.2,660.4 239.2,659 241.7,657.4 243.9,655.6 246.2,653.4 248.2,650.9 249.9,648.1 251.4,645.3 252.9,641.8 254.4,637.5 255.7,633.2 257.9,623.1 259.9,610.9 261.7,597 267.4,538 268.4,531.8 268.9,530.2 269.4,529.5 269.9,529.9 270.4,531.4 271.4,537.3 272.7,548.6 275.7,581.5 277.4,598.3 279.7,615.3 281.9,627.5 283.2,632.8 284.7,638 286.2,642.1 287.9,646.1 289.9,649.6 291.9,652.4 294.2,654.9 296.7,657 299.4,658.8 302.4,660.3 305.9,661.6 309.9,662.8 314.4,663.7 319.4,664.5 331.9,665.8 347.2,666.5 367.9,667.1 401.9,667.5 453.7,667.7 453.8,668Z" fill="url(#gblue0)"/>
<path d="M171.7,668 171.7,667.8 198.7,667.3 209.9,666.6 214.4,666 217.9,665.2 220.9,664.1 223.4,662.7 225.4,661 227.2,658.8 228.7,656.1 229.9,653 231.2,648.8 232.2,644.5 235.4,626.8 236.2,624.3 236.7,623.6 236.9,623.6 237.4,624.3 238.2,626.9 241.4,644.6 242.4,648.9 243.7,653.1 244.9,656.2 246.4,658.9 248.2,661.1 250.2,662.8 252.7,664.1 255.7,665.2 259.2,666 263.7,666.6 274.9,667.3 301.7,667.7 301.9,668Z" fill="url(#ggray0)"/>
<path d="M212.9,668 212.9,667.8 252.6,667.3 269.1,666.6 275.9,666 281.4,665.3 285.6,664.3 289.4,663 292.4,661.4 295.1,659.2 297.4,656.7 299.4,653.5 301.1,649.8 302.6,645.8 307.6,629 308.6,626.9 309.1,626.3 309.6,626.1 310.1,626.2 310.6,626.8 311.6,628.7 316.9,646.2 318.4,650.1 320.1,653.7 322.1,656.8 324.4,659.3 327.1,661.5 330.1,663 333.9,664.3 338.1,665.3 343.6,666 350.4,666.6 366.6,667.3 406.4,667.7 406.5,668Z" fill="url(#gred0)"/>
<path d="M305.6,668 305.6,667.8 321.1,667.5 331.1,667 337.1,666.3 341.6,665.2 344.8,663.6 347.6,661.3 349.8,658.3 353.3,652.1 354.3,651 355.1,650.7 355.8,650.9 356.8,652 360.6,658.5 362.8,661.5 365.3,663.6 368.6,665.1 373.1,666.3 379.1,667 389.1,667.5 404.6,667.7 404.6,668Z" fill="url(#ggreen0)"/>
<path d="M146,665 155,664.7 165.8,664.1 173,663.3 180,662 183.5,660.7 194,654.5 196,653.8 197.8,653.9 203,656.6 204.5,657 208.2,656.4 212.5,654.7 213.8,653.6 215.5,651.5 222.8,640.8 228,636 229.8,633.8 231.5,631 233,628 234,625.2 236.2,617 237.8,609.8 238.5,608.3 239,608.6 239.5,609.4 240.5,612 243.2,628.9 244.5,633.7 245.5,636.5 246,637 247.8,636.5 250.2,634.8 251.5,633.6 253.5,630.6 255.5,626.3 256.5,623.3 257.5,618.3 260.2,597.9 262,580 264.2,561.7 267.5,531.8 268.5,526 269.2,523.9 270,522.9 270.8,523.2 271.5,524 272.2,528.5 277,583 278.5,597.1 279.8,606.3 281.5,614.5 285.2,628.1 286.8,631.1 289,633.6 292,635.4 294,635.9 296.8,635.4 298.2,634.9 299,634.3 300.8,632 303.2,627.5 306.2,619.6 308,616.1 309.2,614.1 310.2,613.4 311,614.1 311.8,616.1 314,623.2 317.8,636.5 320.5,642.6 322.8,646 325.5,649 329,651.6 332,653.2 336,654.2 339,654.5 340.8,654.2 342.8,653.4 345.2,651.8 347,650.1 350.2,645.6 352.8,641.2 354.5,640.2 356.2,639.8 357,640.4 359,645 361.8,650.1 363.2,652.3 365,653.7 367,654.8 372.8,656.9 383.8,659.2 398.2,661.7 409.2,663.3 417.8,664.1 454.2,666.8" fill="none" stroke="#444" stroke-width="0.8"/>
<path d="M146.5,665h0M148.2,665h0M150,664.9h0M151.8,664.9h0M153.5,664.8h0M155.2,664.7h0M157,664.7h0M158.8,664.6h0M160.5,664.5h0M162.2,664.4h0M164,664.2h0M165.8,664.1h0M167.5,663.9h0M169.2,663.7h0M171,663.5h0M172.8,663.3h0M174.5,663h0M176.2,662.7h0M178,662.4h0M179.8,662.1h0M181.5,661.6h0M183.2,660.8h0M185,659.9h0M186.8,658.8h0M188.5,657.8h0M190.2,656.9h0M192,655.8h0M193.8,654.7h0M195.5,653.9h0M197.2,653.8h0M199,654.5h0M200.8,655.3h0M202.5,656.3h0M204.2,657h0M206,656.9h0M207.8,656.6h0M209.5,656h0M211.2,655.3h0M213,654.3h0M214.8,652.5h0M216.5,650.1h0M218.2,647.7h0M220,645h0M221.8,642.2h0M223.5,640h0M225.2,638.5h0M227,637h0M228.8,635.1h0M230.5,632.7h0M232.2,629.6h0M234,625.2h0M235.8,618.9h0M237.5,610.9h0M239.2,608.9h0M241,614.6h0M242.8,626.3h0M244.5,633.7h0M246.2,637h0M248,636.4h0M249.8,635.2h0M251.5,633.6h0M253.2,631.1h0M255,627.5h0M256.8,622.2h0M258.5,611.6h0M260.2,597.9h0M262,580h0M263.8,565.9h0M265.5,549.4h0M267.2,533.7h0M269,524.5h0M270.8,523.2h0M272.5,530.9h0M274.2,550.6h0M276,571.8h0M277.8,590.3h0M279.5,604.8h0M281.2,613.5h0M283,620h0M284.8,626.5h0M286.5,630.7h0M288.2,632.9h0M290,634.3h0M291.8,635.2h0M293.5,635.8h0M295.2,635.8h0M297,635.4h0M298.8,634.5h0M300.5,632.4h0M302.2,629.4h0M304,625.7h0M305.8,620.9h0M307.5,617.1h0M309.2,614.1h0M311,614.1h0M312.8,619.3h0M314.5,624.9h0M316.2,631.5h0M318,637.2h0M319.8,641.2h0M321.5,644.3h0M323.2,646.6h0M325,648.6h0M326.8,650.1h0M328.5,651.3h0M330.2,652.4h0M332,653.2h0M333.8,653.7h0M335.5,654.1h0M337.2,654.4h0M339,654.5h0M340.8,654.2h0M342.5,653.5h0M344.2,652.5h0M346,651.2h0M347.8,649.2h0M349.5,646.7h0M351.2,643.7h0M353,641h0M354.8,640.1h0M356.5,639.9h0M358.2,643.3h0M360,646.9h0M361.8,650.1h0M363.5,652.5h0M365.2,653.8h0M367,654.8h0M368.8,655.5h0M370.5,656.2h0M372.2,656.7h0M374,657.2h0M375.8,657.6h0M377.5,658h0M379.2,658.3h0M381,658.7h0M382.8,659h0M384.5,659.3h0M386.2,659.6h0M388,659.9h0M389.8,660.3h0M391.5,660.6h0M393.2,660.9h0M395,661.2h0M396.8,661.5h0M398.5,661.8h0M400.2,662h0M402,662.3h0M403.8,662.6h0M405.5,662.8h0M407.2,663h0M409,663.3h0M410.8,663.5h0M412.5,663.7h0M414.2,663.8h0M416,664h0M417.8,664.1h0M419.5,664.3h0M421.2,664.4h0M423,664.5h0M424.8,664.6h0M426.5,664.7h0M428.2,664.9h0M430,665h0M431.8,665.1h0M433.5,665.3h0M435.2,665.4h0M437,665.5h0M438.8,665.7h0M440.5,665.8h0M442.2,665.9h0M444,666.1h0M445.8,666.2h0M447.5,666.3h0M449.2,666.4h0M451,666.6h0M452.8,666.7h0" fill="none" stroke="#222" stroke-width="3" stroke-linecap="round"/>
<path d="M146.5,665h0M148.2,665h0M150,664.9h0M151.8,664.9h0M153.5,664.8h0M155.2,664.7h0M157,664.7h0M158.8,664.6h0M160.5,664.5h0M162.2,664.4h0M164,664.2h0M165.8,664.1h0M167.5,663.9h0M169.2,663.7h0M171,663.5h0M172.8,663.3h0M174.5,663h0M176.2,662.7h0M178,662.4h0M179.8,662.1h0M181.5,661.6h0M183.2,660.8h0M185,659.9h0M186.8,658.8h0M188.5,657.8h0M190.2,656.9h0M192,655.8h0M193.8,654.7h0M195.5,653.9h0M197.2,653.8h0M199,654.5h0M200.8,655.3h0M202.5,656.3h0M204.2,657h0M206,656.9h0M207.8,656.6h0M209.5,656h0M211.2,655.3h0M213,654.3h0M214.8,652.5h0M216.5,650.1h0M218.2,647.7h0M220,645h0M221.8,642.2h0M223.5,640h0M225.2,638.5h0M227,637h0M228.8,635.1h0M230.5,632.7h0M232.2,629.6h0M234,625.2h0M235.8,618.9h0M237.5,610.9h0M239.2,608.9h0M241,614.6h0M242.8,626.3h0M244.5,633.7h0M246.2,637h0M248,636.4h0M249.8,635.2h0M251.5,633.6h0M253.2,631.1h0M255,627.5h0M256.8,622.2h0M258.5,611.6h0M260.2,597.9h0M262,580h0M263.8,565.9h0M265.5,549.4h0M267.2,533.7h0M269,524.5h0M270.8,523.2h0M272.5,530.9h0M274.2,550.6h0M276,571.8h0M277.8,590.3h0M279.5,604.8h0M281.2,613.5h0M283,620h0M284.8,626.5h0M286.5,630.7h0M288.2,632.9h0M290,634.3h0M291.8,635.2h0M293.5,635.8h0M295.2,635.8h0M297,635.4h0M298.8,634.5h0M300.5,632.4h0M302.2,629.4h0M304,625.7h0M305.8,620.9h0M307.5,617.1h0M309.2,614.1h0M311,614.1h0M312.8,619.3h0M314.5,624.9h0M316.2,631.5h0M318,637.2h0M319.8,641.2h0M321.5,644.3h0M323.2,646.6h0M325,648.6h0M326.8,650.1h0M328.5,651.3h0M330.2,652.4h0M332,653.2h0M333.8,653.7h0M335.5,654.1h0M337.2,654.4h0M339,654.5h0M340.8,654.2h0M342.5,653.5h0M344.2,652.5h0M346,651.2h0M347.8,649.2h0M349.5,646.7h0M351.2,643.7h0M353,641h0M354.8,640.1h0M356.5,639.9h0M358.2,643.3h0M360,646.9h0M361.8,650.1h0M363.5,652.5h0M365.2,653.8h0M367,654.8h0M368.8,655.5h0M370.5,656.2h0M372.2,656.7h0M374,657.2h0M375.8,657.6h0M377.5,658h0M379.2,658.3h0M381,658.7h0M382.8,659h0M384.5,659.3h0M386.2,659.6h0M388,659.9h0M389.8,660.3h0M391.5,660.6h0M393.2,660.9h0M395,661.2h0M396.8,661.5h0M398.5,661.8h0M400.2,662h0M402,662.3h0M403.8,662.6h0M405.5,662.8h0M407.2,663h0M409,663.3h0M410.8,663.5h0M412.5,663.7h0M414.2,663.8h0M416,664h0M417.8,664.1h0M419.5,664.3h0M421.2,664.4h0M423,664.5h0M424.8,664.6h0M426.5,664.7h0M428.2,664.9h0M430,665h0M431.8,665.1h0M433.5,665.3h0M435.2,665.4h0M437,665.5h0M438.8,665.7h0M440.5,665.8h0M442.2,665.9h0M444,666.1h0M445.8,666.2h0M447.5,666.3h0M449.2,666.4h0M451,666.6h0M452.8,666.7h0" fill="none" stroke="#fff" stroke-width="1.3" stroke-linecap="round"/>
</g>
<rect x="403.4" y="627.8" width="49.5" height="31" fill="#000"/>
<rect x="401" y="625.4" width="49.5" height="31" fill="#fff" stroke="#333" stroke-width="0.8"/>
<text x="403" y="648.8" font-size="23" stroke="#000">30 T</text>
<g clip-path="url(#cb1)">
<path d="M146.2,815.4 146.2,815.1 180.4,814.8 203.4,814.4 217.2,813.9 227.7,813.1 236.4,811.9 243.2,810.2 245.9,809.1 248.4,807.9 250.7,806.4 252.7,804.7 254.4,802.8 256.2,800.4 257.7,797.7 258.9,795 260.2,791.6 261.4,787.4 263.4,778.3 265.2,767 266.7,754.1 271.2,702.9 272.2,696.2 272.7,694.8 272.9,694.7 273.2,695 273.7,696.6 274.4,701.6 279.2,755.1 280.7,767.7 282.4,778.8 284.7,788.6 285.9,792.6 287.2,795.8 288.7,798.8 290.2,801.3 291.9,803.5 293.9,805.5 295.9,807 298.4,808.5 300.9,809.6 303.9,810.6 311.2,812.2 320.7,813.3 332.2,814.1 347.4,814.5 372.7,814.9 410.9,815.1 411.2,815.4Z" fill="url(#gblue1)"/>
<path d="M198.3,815.4 198.3,815.2 215.3,814.8 225.3,814.2 228.5,813.7 231.3,813.1 233.5,812.3 235.5,811.2 237,810 238.5,808.3 239.8,806.2 240.8,804 242.5,798.3 245.3,786.1 246,784.1 246.5,783.7 247,784.2 247.8,786.2 250.5,798.5 252.3,804.1 253.3,806.3 254.5,808.3 256,810 257.5,811.2 259.5,812.3 261.8,813.1 264.5,813.7 267.8,814.2 277.8,814.8 294.5,815.1 294.7,815.4Z" fill="url(#ggray1)"/>
<path d="M224.2,815.4 224.2,815.2 253.9,814.8 271.2,814.1 276.9,813.6 281.7,812.8 285.4,811.9 288.7,810.8 291.2,809.4 293.4,807.6 295.4,805.4 297.2,802.8 298.7,799.8 300.2,795.9 304.7,781.2 305.7,779.1 306.2,778.6 306.7,778.4 307.4,778.9 308.4,780.8 312.9,795.5 314.4,799.4 315.9,802.5 317.7,805.2 319.7,807.5 321.9,809.3 324.7,810.8 327.9,812 331.7,812.9 336.4,813.6 342.2,814.1 359.4,814.8 388.9,815.1 389,815.4Z" fill="url(#gred1)"/>
<path d="M311.6,815.4 311.6,815.2 322.6,814.9 329.8,814.5 334.3,813.9 337.6,813.1 340.1,811.9 342.1,810.5 344.1,808.2 347.3,803.3 348.1,802.6 348.8,802.4 349.6,802.7 350.3,803.5 353.3,808.1 355.1,810.2 357.3,811.9 359.8,813.1 363.1,813.9 367.6,814.5 374.8,814.9 385.8,815.1 385.8,815.4Z" fill="url(#ggreen1)"/>
<path d="M146,814.3 175,812.8 206.5,810.8 215.2,810 220,809 221.2,808.1 224.5,804.5 227.8,801.6 230.2,799.8 235,797.2 237.2,795.3 239.8,792.6 240.5,791.3 243.8,782.6 246,775.8 247.5,770.4 248.2,769 248.8,769.3 249.5,771 252.2,780.4 253.5,783.1 254.8,784.9 255.2,785 256,784.4 260.2,776 262,771.3 264.2,760 266.5,750.6 267.2,743.7 269.2,715.6 271.2,694.5 272.8,674.2 273.2,670.3 273.5,669.7 274,671 274.5,674.6 275.8,688.3 278,732.9 278.5,737.1 280,745.5 282,762.7 283,766.6 286.5,776.4 290,783.2 292,785.8 293,786.2 295.2,786 298,785.3 299.2,784.5 300.2,782.6 302.2,777.3 305,768 306.5,764.4 307.2,763.8 307.8,764.3 308.5,766.4 313,783.8 316.5,792.8 318.2,795.7 321.5,799.5 324.2,801.8 326.8,803.2 330.8,804.3 333.8,804.7 337.8,804.7 341.8,804.4 343.2,803.1 347.5,797 348.5,796.4 349.8,797.2 353.8,801.8 357,803.8 360.8,805.3 366,807 375.2,809.2 386.5,810.7 409.8,812.8 434.8,814.2 454.2,814.8" fill="none" stroke="#444" stroke-width="0.8"/>
<path d="M146.5,814.3h0M148.2,814.2h0M150,814.1h0M151.8,814h0M153.5,813.9h0M155.2,813.9h0M157,813.8h0M158.8,813.7h0M160.5,813.6h0M162.2,813.5h0M164,813.4h0M165.8,813.3h0M167.5,813.2h0M169.2,813.1h0M171,813h0M172.8,812.9h0M174.5,812.8h0M176.2,812.7h0M178,812.6h0M179.8,812.5h0M181.5,812.4h0M183.2,812.3h0M185,812.2h0M186.8,812.1h0M188.5,812h0M190.2,811.8h0M192,811.7h0M193.8,811.6h0M195.5,811.5h0M197.2,811.4h0M199,811.2h0M200.8,811.1h0M202.5,811h0M204.2,810.9h0M206,810.8h0M207.8,810.7h0M209.5,810.5h0M211.2,810.4h0M213,810.2h0M214.8,810h0M216.5,809.8h0M218.2,809.4h0M220,809h0M221.8,807.6h0M223.5,805.6h0M225.2,803.8h0M227,802.2h0M228.8,800.8h0M230.5,799.6h0M232.2,798.8h0M234,797.9h0M235.8,796.6h0M237.5,795h0M239.2,793.2h0M241,790h0M242.8,785.1h0M244.5,780.4h0M246.2,775h0M248,769.2h0M249.8,771.8h0M251.5,777.6h0M253.2,782.6h0M255,785h0M256.8,783.2h0M258.5,779.5h0M260.2,776h0M262,771.3h0M263.8,762.6h0M265.5,755.2h0M267.2,743.7h0M269,719.1h0M270.8,699.6h0M272.5,677.2h0M274.2,672.6h0M276,692.4h0M277.8,728.9h0M279.5,742.2h0M281.2,757h0M283,766.6h0M284.8,771.8h0M286.5,776.4h0M288.2,779.9h0M290,783.2h0M291.8,785.6h0M293.5,786.2h0M295.2,786h0M297,785.6h0M298.8,785h0M300.5,782h0M302.2,777.3h0M304,771.1h0M305.8,766.1h0M307.5,764h0M309.2,769.2h0M311,775.8h0M312.8,782.9h0M314.5,788h0M316.2,792.2h0M318,795.4h0M319.8,797.6h0M321.5,799.5h0M323.2,801.1h0M325,802.3h0M326.8,803.2h0M328.5,803.7h0M330.2,804.2h0M332,804.5h0M333.8,804.7h0M335.5,804.8h0M337.2,804.8h0M339,804.7h0M340.8,804.5h0M342.5,803.9h0M344.2,801.7h0M346,799.3h0M347.8,796.7h0M349.5,797h0M351.2,798.8h0M353,801h0M354.8,802.5h0M356.5,803.5h0M358.2,804.3h0M360,805h0M361.8,805.6h0M363.5,806.2h0M365.2,806.8h0M367,807.3h0M368.8,807.8h0M370.5,808.2h0M372.2,808.6h0M374,808.9h0M375.8,809.3h0M377.5,809.5h0M379.2,809.8h0M381,810h0M382.8,810.2h0M384.5,810.4h0M386.2,810.6h0M388,810.8h0M389.8,811h0M391.5,811.2h0M393.2,811.3h0M395,811.5h0M396.8,811.7h0M398.5,811.8h0M400.2,812h0M402,812.2h0M403.8,812.3h0M405.5,812.5h0M407.2,812.6h0M409,812.7h0M410.8,812.9h0M412.5,813h0M414.2,813.1h0M416,813.2h0M417.8,813.3h0M419.5,813.4h0M421.2,813.5h0M423,813.6h0M424.8,813.7h0M426.5,813.8h0M428.2,813.9h0M430,814h0M431.8,814h0M433.5,814.1h0M435.2,814.2h0M437,814.3h0M438.8,814.4h0M440.5,814.4h0M442.2,814.5h0M444,814.6h0M445.8,814.6h0M447.5,814.7h0M449.2,814.7h0M451,814.7h0M452.8,814.8h0" fill="none" stroke="#222" stroke-width="3" stroke-linecap="round"/>
<path d="M146.5,814.3h0M148.2,814.2h0M150,814.1h0M151.8,814h0M153.5,813.9h0M155.2,813.9h0M157,813.8h0M158.8,813.7h0M160.5,813.6h0M162.2,813.5h0M164,813.4h0M165.8,813.3h0M167.5,813.2h0M169.2,813.1h0M171,813h0M172.8,812.9h0M174.5,812.8h0M176.2,812.7h0M178,812.6h0M179.8,812.5h0M181.5,812.4h0M183.2,812.3h0M185,812.2h0M186.8,812.1h0M188.5,812h0M190.2,811.8h0M192,811.7h0M193.8,811.6h0M195.5,811.5h0M197.2,811.4h0M199,811.2h0M200.8,811.1h0M202.5,811h0M204.2,810.9h0M206,810.8h0M207.8,810.7h0M209.5,810.5h0M211.2,810.4h0M213,810.2h0M214.8,810h0M216.5,809.8h0M218.2,809.4h0M220,809h0M221.8,807.6h0M223.5,805.6h0M225.2,803.8h0M227,802.2h0M228.8,800.8h0M230.5,799.6h0M232.2,798.8h0M234,797.9h0M235.8,796.6h0M237.5,795h0M239.2,793.2h0M241,790h0M242.8,785.1h0M244.5,780.4h0M246.2,775h0M248,769.2h0M249.8,771.8h0M251.5,777.6h0M253.2,782.6h0M255,785h0M256.8,783.2h0M258.5,779.5h0M260.2,776h0M262,771.3h0M263.8,762.6h0M265.5,755.2h0M267.2,743.7h0M269,719.1h0M270.8,699.6h0M272.5,677.2h0M274.2,672.6h0M276,692.4h0M277.8,728.9h0M279.5,742.2h0M281.2,757h0M283,766.6h0M284.8,771.8h0M286.5,776.4h0M288.2,779.9h0M290,783.2h0M291.8,785.6h0M293.5,786.2h0M295.2,786h0M297,785.6h0M298.8,785h0M300.5,782h0M302.2,777.3h0M304,771.1h0M305.8,766.1h0M307.5,764h0M309.2,769.2h0M311,775.8h0M312.8,782.9h0M314.5,788h0M316.2,792.2h0M318,795.4h0M319.8,797.6h0M321.5,799.5h0M323.2,801.1h0M325,802.3h0M326.8,803.2h0M328.5,803.7h0M330.2,804.2h0M332,804.5h0M333.8,804.7h0M335.5,804.8h0M337.2,804.8h0M339,804.7h0M340.8,804.5h0M342.5,803.9h0M344.2,801.7h0M346,799.3h0M347.8,796.7h0M349.5,797h0M351.2,798.8h0M353,801h0M354.8,802.5h0M356.5,803.5h0M358.2,804.3h0M360,805h0M361.8,805.6h0M363.5,806.2h0M365.2,806.8h0M367,807.3h0M368.8,807.8h0M370.5,808.2h0M372.2,808.6h0M374,808.9h0M375.8,809.3h0M377.5,809.5h0M379.2,809.8h0M381,810h0M382.8,810.2h0M384.5,810.4h0M386.2,810.6h0M388,810.8h0M389.8,811h0M391.5,811.2h0M393.2,811.3h0M395,811.5h0M396.8,811.7h0M398.5,811.8h0M400.2,812h0M402,812.2h0M403.8,812.3h0M405.5,812.5h0M407.2,812.6h0M409,812.7h0M410.8,812.9h0M412.5,813h0M414.2,813.1h0M416,813.2h0M417.8,813.3h0M419.5,813.4h0M421.2,813.5h0M423,813.6h0M424.8,813.7h0M426.5,813.8h0M428.2,813.9h0M430,814h0M431.8,814h0M433.5,814.1h0M435.2,814.2h0M437,814.3h0M438.8,814.4h0M440.5,814.4h0M442.2,814.5h0M444,814.6h0M445.8,814.6h0M447.5,814.7h0M449.2,814.7h0M451,814.7h0M452.8,814.8h0" fill="none" stroke="#fff" stroke-width="1.3" stroke-linecap="round"/>
</g>
<rect x="384.5" y="777.0" width="68.2" height="30.4" fill="#000"/>
<rect x="382.1" y="774.6" width="68.2" height="30.4" fill="#fff" stroke="#333" stroke-width="0.8"/>
<text x="384" y="797.6" font-size="23" stroke="#000">25.5 T</text>
<g clip-path="url(#cb2)">
<path d="M146.2,962.8 146.2,962.3 180.4,961.9 203.7,961.3 217.4,960.6 227.9,959.6 237.2,958 240.9,957 244.2,955.8 247.2,954.5 249.9,952.9 252.2,951.2 254.4,949 256.4,946.6 258.2,943.9 259.9,940.6 261.4,937 262.9,932.6 264.2,928.1 266.4,917.4 268.4,904.2 270.2,888.9 275.4,828.8 276.4,821.6 276.9,819.6 277.4,818.8 277.9,819.3 278.4,821.1 279.4,827.9 284.9,890.3 286.9,907.1 289.2,920.9 290.4,926.6 291.9,932.2 293.4,936.7 294.9,940.3 296.7,943.7 298.7,946.8 300.9,949.4 303.2,951.5 305.7,953.3 308.7,954.9 311.9,956.3 315.7,957.5 319.9,958.4 324.9,959.3 336.9,960.5 351.7,961.3 371.4,961.9 404.2,962.3 453.7,962.5 453.8,962.8Z" fill="url(#gblue2)"/>
<path d="M200.2,962.8 200.2,962.6 220.2,962.2 231.9,961.5 235.7,961 238.9,960.2 241.4,959.4 243.7,958.1 245.4,956.7 246.9,954.9 248.2,952.9 249.4,950 251.4,943.2 254.4,928.8 255.2,926.6 255.7,926.1 256.2,926.5 256.9,928.5 259.9,942.8 261.9,949.8 263.2,952.7 264.4,954.8 265.9,956.6 267.9,958.2 270.2,959.4 272.7,960.3 275.9,961 279.7,961.5 291.2,962.2 311.2,962.5 311.2,962.8Z" fill="url(#ggray2)"/>
<path d="M190.3,962.8 190.3,962.6 238.6,962.1 258.8,961.3 266.8,960.6 273.1,959.7 278.1,958.5 282.3,956.9 285.8,954.8 288.8,952.1 291.3,948.7 293.6,944.4 295.3,939.9 297.1,934.1 302.3,911.6 303.6,908.4 304.1,907.8 304.6,907.6 305.1,907.9 305.6,908.7 306.6,911.4 311.8,933.9 313.6,939.7 315.3,944.3 317.6,948.6 320.1,952 323.1,954.7 326.6,956.8 330.8,958.5 335.8,959.7 342.1,960.6 350.1,961.3 370.3,962.1 418.6,962.5 418.7,962.8Z" fill="url(#gred2)"/>
<path d="M294.8,962.8 294.8,962.6 309.1,962.3 318.3,961.8 323.8,961.2 328.1,960.2 331.3,958.8 333.8,956.9 336.1,954.2 339.6,948.8 340.6,947.8 341.3,947.5 342.1,947.7 343.1,948.6 346.8,954.4 349.1,957 351.6,958.9 354.6,960.2 358.8,961.2 364.6,961.8 373.8,962.3 387.8,962.5 388,962.8Z" fill="url(#ggreen2)"/>
<path d="M146,962 192,960.9 209,960 220,958.9 227.2,957.5 234.8,954.9 238.8,952.6 242.5,949.2 244.2,946.7 247.8,940.2 250.2,934.6 251.2,931.6 251.8,929.4 253.2,915.7 255,902.5 255.5,900.2 255.8,899.9 256,900 256.8,901.3 258,904.4 259.8,910.4 261.5,914.2 262.8,915.8 263.2,916 263.8,915.6 265.5,912 267,909.8 267.8,908.1 268.5,902.4 271,873.9 272.2,851.6 273.2,840 275.8,821.6 276.5,818.1 277,817.3 277.8,818 278.5,820 279.8,825.1 280.2,828.1 283.5,865.6 285.2,877.7 287,884.7 293.2,901.7 296,911.2 296.8,912.8 297.2,913.3 297.8,913.2 298.2,912.5 299.2,910.2 301.2,904.3 303.2,897.5 304.5,895.5 305,895 305.5,894.9 306.2,897.3 308.5,911.2 310.2,917.3 312.5,923.6 315.8,931.2 318.2,936 321.8,940.8 324.8,943.9 326.5,945 329.8,946.3 332.2,946.9 334.5,947.1 335.8,946.8 337.5,945.9 339.5,944.7 342.2,942.1 343,941.7 343.8,941.7 345,942.7 347.5,946.3 350.5,949.3 352.8,951 356.2,952.8 360,954.2 364.8,955.4 383,958.8 389.2,959.5 402.2,960.2 454.2,961.8" fill="none" stroke="#444" stroke-width="0.8"/>
<path d="M146.5,962h0M148.2,962h0M150,961.9h0M151.8,961.9h0M153.5,961.9h0M155.2,961.9h0M157,961.8h0M158.8,961.8h0M160.5,961.8h0M162.2,961.7h0M164,961.7h0M165.8,961.7h0M167.5,961.6h0M169.2,961.6h0M171,961.5h0M172.8,961.5h0M174.5,961.4h0M176.2,961.4h0M178,961.3h0M179.8,961.3h0M181.5,961.2h0M183.2,961.2h0M185,961.1h0M186.8,961.1h0M188.5,961h0M190.2,960.9h0M192,960.9h0M193.8,960.8h0M195.5,960.7h0M197.2,960.6h0M199,960.6h0M200.8,960.5h0M202.5,960.4h0M204.2,960.3h0M206,960.2h0M207.8,960.1h0M209.5,959.9h0M211.2,959.8h0M213,959.7h0M214.8,959.5h0M216.5,959.3h0M218.2,959.2h0M220,958.9h0M221.8,958.7h0M223.5,958.4h0M225.2,958h0M227,957.6h0M228.8,957.1h0M230.5,956.5h0M232.2,955.9h0M234,955.2h0M235.8,954.4h0M237.5,953.4h0M239.2,952.2h0M241,950.7h0M242.8,948.9h0M244.5,946.2h0M246.2,943h0M248,939.7h0M249.8,935.8h0M251.5,930.6h0M253.2,915.7h0M255,902.5h0M256.8,901.3h0M258.5,906.1h0M260.2,911.5h0M262,915h0M263.8,915.6h0M265.5,912h0M267.2,909.3h0M269,896.2h0M270.8,876.9h0M272.5,848.2h0M274.2,831.7h0M276,820.2h0M277.8,818h0M279.5,824h0M281.2,838.4h0M283,859.6h0M284.8,874.9h0M286.5,883h0M288.2,888.2h0M290,892.7h0M291.8,897.6h0M293.5,902.5h0M295.2,908.9h0M297,913.1h0M298.8,911.5h0M300.5,906.4h0M302.2,900.7h0M304,896.2h0M305.8,895.4h0M307.5,905.6h0M309.2,914h0M311,919.6h0M312.8,924.3h0M314.5,928.4h0M316.2,932.3h0M318,935.6h0M319.8,938.2h0M321.5,940.5h0M323.2,942.5h0M325,944.1h0M326.8,945.1h0M328.5,945.8h0M330.2,946.4h0M332,946.9h0M333.8,947.1h0M335.5,946.9h0M337.2,946h0M339,945h0M340.8,943.5h0M342.5,941.9h0M344.2,942h0M346,944.2h0M347.8,946.6h0M349.5,948.4h0M351.2,950h0M353,951.1h0M354.8,952.1h0M356.5,952.9h0M358.2,953.6h0M360,954.2h0M361.8,954.7h0M363.5,955.1h0M365.2,955.5h0M367,955.9h0M368.8,956.3h0M370.5,956.6h0M372.2,956.9h0M374,957.3h0M375.8,957.6h0M377.5,957.9h0M379.2,958.2h0M381,958.5h0M382.8,958.8h0M384.5,959h0M386.2,959.2h0M388,959.4h0M389.8,959.5h0M391.5,959.6h0M393.2,959.7h0M395,959.8h0M396.8,959.9h0M398.5,960h0M400.2,960.1h0M402,960.2h0M403.8,960.2h0M405.5,960.3h0M407.2,960.4h0M409,960.4h0M410.8,960.5h0M412.5,960.5h0M414.2,960.6h0M416,960.7h0M417.8,960.7h0M419.5,960.8h0M421.2,960.8h0M423,960.9h0M424.8,961h0M426.5,961h0M428.2,961.1h0M430,961.1h0M431.8,961.2h0M433.5,961.3h0M435.2,961.3h0M437,961.4h0M438.8,961.4h0M440.5,961.5h0M442.2,961.5h0M444,961.6h0M445.8,961.6h0M447.5,961.6h0M449.2,961.7h0M451,961.7h0M452.8,961.8h0" fill="none" stroke="#222" stroke-width="3" stroke-linecap="round"/>
<path d="M146.5,962h0M148.2,962h0M150,961.9h0M151.8,961.9h0M153.5,961.9h0M155.2,961.9h0M157,961.8h0M158.8,961.8h0M160.5,961.8h0M162.2,961.7h0M164,961.7h0M165.8,961.7h0M167.5,961.6h0M169.2,961.6h0M171,961.5h0M172.8,961.5h0M174.5,961.4h0M176.2,961.4h0M178,961.3h0M179.8,961.3h0M181.5,961.2h0M183.2,961.2h0M185,961.1h0M186.8,961.1h0M188.5,961h0M190.2,960.9h0M192,960.9h0M193.8,960.8h0M195.5,960.7h0M197.2,960.6h0M199,960.6h0M200.8,960.5h0M202.5,960.4h0M204.2,960.3h0M206,960.2h0M207.8,960.1h0M209.5,959.9h0M211.2,959.8h0M213,959.7h0M214.8,959.5h0M216.5,959.3h0M218.2,959.2h0M220,958.9h0M221.8,958.7h0M223.5,958.4h0M225.2,958h0M227,957.6h0M228.8,957.1h0M230.5,956.5h0M232.2,955.9h0M234,955.2h0M235.8,954.4h0M237.5,953.4h0M239.2,952.2h0M241,950.7h0M242.8,948.9h0M244.5,946.2h0M246.2,943h0M248,939.7h0M249.8,935.8h0M251.5,930.6h0M253.2,915.7h0M255,902.5h0M256.8,901.3h0M258.5,906.1h0M260.2,911.5h0M262,915h0M263.8,915.6h0M265.5,912h0M267.2,909.3h0M269,896.2h0M270.8,876.9h0M272.5,848.2h0M274.2,831.7h0M276,820.2h0M277.8,818h0M279.5,824h0M281.2,838.4h0M283,859.6h0M284.8,874.9h0M286.5,883h0M288.2,888.2h0M290,892.7h0M291.8,897.6h0M293.5,902.5h0M295.2,908.9h0M297,913.1h0M298.8,911.5h0M300.5,906.4h0M302.2,900.7h0M304,896.2h0M305.8,895.4h0M307.5,905.6h0M309.2,914h0M311,919.6h0M312.8,924.3h0M314.5,928.4h0M316.2,932.3h0M318,935.6h0M319.8,938.2h0M321.5,940.5h0M323.2,942.5h0M325,944.1h0M326.8,945.1h0M328.5,945.8h0M330.2,946.4h0M332,946.9h0M333.8,947.1h0M335.5,946.9h0M337.2,946h0M339,945h0M340.8,943.5h0M342.5,941.9h0M344.2,942h0M346,944.2h0M347.8,946.6h0M349.5,948.4h0M351.2,950h0M353,951.1h0M354.8,952.1h0M356.5,952.9h0M358.2,953.6h0M360,954.2h0M361.8,954.7h0M363.5,955.1h0M365.2,955.5h0M367,955.9h0M368.8,956.3h0M370.5,956.6h0M372.2,956.9h0M374,957.3h0M375.8,957.6h0M377.5,957.9h0M379.2,958.2h0M381,958.5h0M382.8,958.8h0M384.5,959h0M386.2,959.2h0M388,959.4h0M389.8,959.5h0M391.5,959.6h0M393.2,959.7h0M395,959.8h0M396.8,959.9h0M398.5,960h0M400.2,960.1h0M402,960.2h0M403.8,960.2h0M405.5,960.3h0M407.2,960.4h0M409,960.4h0M410.8,960.5h0M412.5,960.5h0M414.2,960.6h0M416,960.7h0M417.8,960.7h0M419.5,960.8h0M421.2,960.8h0M423,960.9h0M424.8,961h0M426.5,961h0M428.2,961.1h0M430,961.1h0M431.8,961.2h0M433.5,961.3h0M435.2,961.3h0M437,961.4h0M438.8,961.4h0M440.5,961.5h0M442.2,961.5h0M444,961.6h0M445.8,961.6h0M447.5,961.6h0M449.2,961.7h0M451,961.7h0M452.8,961.8h0" fill="none" stroke="#fff" stroke-width="1.3" stroke-linecap="round"/>
</g>
<rect x="383.6" y="927.7" width="68.5" height="30.4" fill="#000"/>
<rect x="381.2" y="925.3" width="68.5" height="30.4" fill="#fff" stroke="#333" stroke-width="0.8"/>
<text x="382.8" y="947.1" font-size="23" stroke="#000">21.5 T</text>
<g clip-path="url(#cb3)">
<path d="M153.7,1110.2 153.7,1110 189.2,1109.7 212.7,1109.4 226.9,1108.9 237.7,1108.2 246.4,1107.1 253.2,1105.6 255.9,1104.6 258.4,1103.5 260.7,1102.1 262.7,1100.6 264.4,1098.8 266.2,1096.6 267.7,1094.1 268.9,1091.6 270.2,1088.4 271.4,1084.4 273.4,1075.6 275.2,1064.6 276.7,1051.7 281.2,1000.8 281.9,996 282.4,994.6 282.7,994.5 282.9,994.8 283.4,996.6 284.2,1001.9 288.4,1050.5 289.9,1063.6 291.7,1074.9 293.7,1083.9 294.9,1088 296.2,1091.3 297.4,1093.9 298.9,1096.4 300.7,1098.7 302.4,1100.5 304.4,1102.1 306.7,1103.4 309.2,1104.6 311.9,1105.5 318.7,1107.1 327.4,1108.2 338.2,1108.9 352.4,1109.4 375.9,1109.7 411.4,1109.9 411.5,1110.2Z" fill="url(#gblue3)"/>
<path d="M211.4,1110.2 211.4,1110 235.1,1109.5 244.9,1108.8 248.9,1108.3 252.1,1107.5 254.9,1106.5 257.1,1105.3 259.1,1103.5 260.6,1101.5 261.9,1099.3 263.1,1096.2 265.1,1088.6 268.1,1073 268.9,1070.7 269.4,1070.2 269.9,1070.7 270.6,1072.9 273.9,1089.7 275.9,1096.8 277.1,1099.8 278.4,1101.9 279.9,1103.8 281.9,1105.4 284.1,1106.7 286.9,1107.6 290.1,1108.3 294.1,1108.9 306.4,1109.6 327.4,1109.9 327.4,1110.2Z" fill="url(#ggray3)"/>
<path d="M175.9,1110.2 175.9,1110 230.2,1109.4 242.9,1109 252.9,1108.4 261.4,1107.5 268.2,1106.2 273.4,1104.5 277.4,1102.2 279.2,1100.9 280.9,1099.1 283.7,1095.3 286.2,1090 288.2,1083.8 289.9,1076.2 291.7,1066 296.4,1029.4 297.4,1025.2 297.9,1024.4 298.2,1024.3 298.9,1025.7 299.9,1030.5 304.7,1067.2 306.2,1075.9 307.9,1083.5 309.9,1089.8 312.4,1095.2 315.2,1099 316.9,1100.8 318.7,1102.2 322.7,1104.4 327.9,1106.2 334.7,1107.5 343.2,1108.4 353.2,1109 366.2,1109.4 420.2,1109.9 420.3,1110.2Z" fill="url(#gred3)"/>
<path d="M279.5,1110.2 279.5,1110 294.3,1109.7 303.5,1109.1 309.3,1108.2 313.3,1106.9 314.8,1106 316.3,1104.8 318.5,1102 320.3,1098.6 323.5,1090 324.3,1088.9 324.8,1088.6 325.5,1089.1 326.3,1090.4 329.3,1098.4 331.3,1102.3 333.5,1105 335,1106.2 336.5,1107 340.5,1108.3 346.3,1109.1 355.3,1109.7 370,1109.9 370.1,1110.2Z" fill="url(#ggreen3)"/>
<path d="M146,1109.5 174,1109.3 201.8,1108.9 211.8,1108.2 224.2,1106.9 235.5,1105 240.8,1103.6 246,1102 249,1100.8 251.5,1099.4 254,1097.7 256.2,1095.6 258,1093 261,1086.4 262.5,1081.9 263.8,1076.5 265.2,1067.5 266.5,1056.1 268.2,1045 269.5,1029.4 270.8,1026.4 271.5,1025.4 272.2,1025.1 272.8,1026.2 273.5,1030.1 274,1031.4 274.8,1030.1 275.8,1026.1 277.5,1013.8 279.2,991.9 280.5,981.3 282.2,970.6 283.2,968.2 284.2,967.2 284.5,967.4 285,969.7 286.5,982.1 288,991 290.5,1001.2 291,1002.1 291.5,1002 293.5,996 295,993 295.8,992.4 296.2,993.5 297.5,999.9 299.8,1003.9 300.5,1006 302,1017.5 303.8,1027.1 306,1041.9 308.5,1049.6 311,1060.7 312.5,1065.4 317,1076.6 320.2,1082.6 322.8,1085.9 325.8,1087.8 326.8,1088.8 330.5,1094.6 331.8,1096.1 334.2,1097.8 337.2,1099.4 349.8,1104.6 354,1105.8 360.2,1106.7 374,1107.7 397,1108.6 427,1109.3 454.2,1109.5" fill="none" stroke="#444" stroke-width="0.8"/>
<path d="M146.5,1109.5h0M148.2,1109.5h0M150,1109.5h0M151.8,1109.5h0M153.5,1109.5h0M155.2,1109.5h0M157,1109.5h0M158.8,1109.5h0M160.5,1109.5h0M162.2,1109.4h0M164,1109.4h0M165.8,1109.4h0M167.5,1109.4h0M169.2,1109.4h0M171,1109.4h0M172.8,1109.3h0M174.5,1109.3h0M176.2,1109.3h0M178,1109.3h0M179.8,1109.3h0M181.5,1109.2h0M183.2,1109.2h0M185,1109.2h0M186.8,1109.2h0M188.5,1109.1h0M190.2,1109.1h0M192,1109.1h0M193.8,1109h0M195.5,1109h0M197.2,1109h0M199,1108.9h0M200.8,1108.9h0M202.5,1108.8h0M204.2,1108.8h0M206,1108.7h0M207.8,1108.5h0M209.5,1108.4h0M211.2,1108.3h0M213,1108.1h0M214.8,1108h0M216.5,1107.8h0M218.2,1107.6h0M220,1107.4h0M221.8,1107.2h0M223.5,1107h0M225.2,1106.8h0M227,1106.6h0M228.8,1106.3h0M230.5,1106h0M232.2,1105.7h0M234,1105.3h0M235.8,1104.9h0M237.5,1104.5h0M239.2,1104h0M241,1103.6h0M242.8,1103h0M244.5,1102.5h0M246.2,1101.9h0M248,1101.2h0M249.8,1100.4h0M251.5,1099.4h0M253.2,1098.2h0M255,1096.8h0M256.8,1095.1h0M258.5,1092h0M260.2,1088.2h0M262,1083.6h0M263.8,1076.5h0M265.5,1065.6h0M267.2,1051.4h0M269,1033.9h0M270.8,1026.4h0M272.5,1025.3h0M274.2,1031.2h0M276,1024.9h0M277.8,1011.5h0M279.5,989.4h0M281.2,976.4h0M283,968.7h0M284.8,968.3h0M286.5,982.1h0M288.2,992.3h0M290,999.7h0M291.8,1001.5h0M293.5,996h0M295.2,992.7h0M297,997.6h0M298.8,1002.3h0M300.5,1006h0M302.2,1019.1h0M304,1028.6h0M305.8,1040.6h0M307.5,1046.6h0M309.2,1052.7h0M311,1060.7h0M312.8,1066.1h0M314.5,1070.6h0M316.2,1074.9h0M318,1078.6h0M319.8,1081.7h0M321.5,1084.4h0M323.2,1086.3h0M325,1087.3h0M326.8,1088.8h0M328.5,1091.3h0M330.2,1094.2h0M332,1096.3h0M333.8,1097.5h0M335.5,1098.6h0M337.2,1099.4h0M339,1100.2h0M340.8,1100.9h0M342.5,1101.6h0M344.2,1102.4h0M346,1103.1h0M347.8,1103.8h0M349.5,1104.5h0M351.2,1105.1h0M353,1105.6h0M354.8,1106h0M356.5,1106.2h0M358.2,1106.4h0M360,1106.6h0M361.8,1106.8h0M363.5,1107h0M365.2,1107.2h0M367,1107.3h0M368.8,1107.4h0M370.5,1107.5h0M372.2,1107.6h0M374,1107.7h0M375.8,1107.8h0M377.5,1107.9h0M379.2,1108h0M381,1108h0M382.8,1108.1h0M384.5,1108.2h0M386.2,1108.2h0M388,1108.3h0M389.8,1108.3h0M391.5,1108.4h0M393.2,1108.4h0M395,1108.5h0M396.8,1108.6h0M398.5,1108.6h0M400.2,1108.7h0M402,1108.7h0M403.8,1108.8h0M405.5,1108.8h0M407.2,1108.8h0M409,1108.9h0M410.8,1108.9h0M412.5,1109h0M414.2,1109h0M416,1109.1h0M417.8,1109.1h0M419.5,1109.1h0M421.2,1109.2h0M423,1109.2h0M424.8,1109.2h0M426.5,1109.3h0M428.2,1109.3h0M430,1109.3h0M431.8,1109.3h0M433.5,1109.4h0M435.2,1109.4h0M437,1109.4h0M438.8,1109.4h0M440.5,1109.4h0M442.2,1109.5h0M444,1109.5h0M445.8,1109.5h0M447.5,1109.5h0M449.2,1109.5h0M451,1109.5h0M452.8,1109.5h0" fill="none" stroke="#222" stroke-width="3" stroke-linecap="round"/>
<path d="M146.5,1109.5h0M148.2,1109.5h0M150,1109.5h0M151.8,1109.5h0M153.5,1109.5h0M155.2,1109.5h0M157,1109.5h0M158.8,1109.5h0M160.5,1109.5h0M162.2,1109.4h0M164,1109.4h0M165.8,1109.4h0M167.5,1109.4h0M169.2,1109.4h0M171,1109.4h0M172.8,1109.3h0M174.5,1109.3h0M176.2,1109.3h0M178,1109.3h0M179.8,1109.3h0M181.5,1109.2h0M183.2,1109.2h0M185,1109.2h0M186.8,1109.2h0M188.5,1109.1h0M190.2,1109.1h0M192,1109.1h0M193.8,1109h0M195.5,1109h0M197.2,1109h0M199,1108.9h0M200.8,1108.9h0M202.5,1108.8h0M204.2,1108.8h0M206,1108.7h0M207.8,1108.5h0M209.5,1108.4h0M211.2,1108.3h0M213,1108.1h0M214.8,1108h0M216.5,1107.8h0M218.2,1107.6h0M220,1107.4h0M221.8,1107.2h0M223.5,1107h0M225.2,1106.8h0M227,1106.6h0M228.8,1106.3h0M230.5,1106h0M232.2,1105.7h0M234,1105.3h0M235.8,1104.9h0M237.5,1104.5h0M239.2,1104h0M241,1103.6h0M242.8,1103h0M244.5,1102.5h0M246.2,1101.9h0M248,1101.2h0M249.8,1100.4h0M251.5,1099.4h0M253.2,1098.2h0M255,1096.8h0M256.8,1095.1h0M258.5,1092h0M260.2,1088.2h0M262,1083.6h0M263.8,1076.5h0M265.5,1065.6h0M267.2,1051.4h0M269,1033.9h0M270.8,1026.4h0M272.5,1025.3h0M274.2,1031.2h0M276,1024.9h0M277.8,1011.5h0M279.5,989.4h0M281.2,976.4h0M283,968.7h0M284.8,968.3h0M286.5,982.1h0M288.2,992.3h0M290,999.7h0M291.8,1001.5h0M293.5,996h0M295.2,992.7h0M297,997.6h0M298.8,1002.3h0M300.5,1006h0M302.2,1019.1h0M304,1028.6h0M305.8,1040.6h0M307.5,1046.6h0M309.2,1052.7h0M311,1060.7h0M312.8,1066.1h0M314.5,1070.6h0M316.2,1074.9h0M318,1078.6h0M319.8,1081.7h0M321.5,1084.4h0M323.2,1086.3h0M325,1087.3h0M326.8,1088.8h0M328.5,1091.3h0M330.2,1094.2h0M332,1096.3h0M333.8,1097.5h0M335.5,1098.6h0M337.2,1099.4h0M339,1100.2h0M340.8,1100.9h0M342.5,1101.6h0M344.2,1102.4h0M346,1103.1h0M347.8,1103.8h0M349.5,1104.5h0M351.2,1105.1h0M353,1105.6h0M354.8,1106h0M356.5,1106.2h0M358.2,1106.4h0M360,1106.6h0M361.8,1106.8h0M363.5,1107h0M365.2,1107.2h0M367,1107.3h0M368.8,1107.4h0M370.5,1107.5h0M372.2,1107.6h0M374,1107.7h0M375.8,1107.8h0M377.5,1107.9h0M379.2,1108h0M381,1108h0M382.8,1108.1h0M384.5,1108.2h0M386.2,1108.2h0M388,1108.3h0M389.8,1108.3h0M391.5,1108.4h0M393.2,1108.4h0M395,1108.5h0M396.8,1108.6h0M398.5,1108.6h0M400.2,1108.7h0M402,1108.7h0M403.8,1108.8h0M405.5,1108.8h0M407.2,1108.8h0M409,1108.9h0M410.8,1108.9h0M412.5,1109h0M414.2,1109h0M416,1109.1h0M417.8,1109.1h0M419.5,1109.1h0M421.2,1109.2h0M423,1109.2h0M424.8,1109.2h0M426.5,1109.3h0M428.2,1109.3h0M430,1109.3h0M431.8,1109.3h0M433.5,1109.4h0M435.2,1109.4h0M437,1109.4h0M438.8,1109.4h0M440.5,1109.4h0M442.2,1109.5h0M444,1109.5h0M445.8,1109.5h0M447.5,1109.5h0M449.2,1109.5h0M451,1109.5h0M452.8,1109.5h0" fill="none" stroke="#fff" stroke-width="1.3" stroke-linecap="round"/>
</g>
<rect x="402.9" y="1075.1" width="48.8" height="31" fill="#000"/>
<rect x="400.5" y="1072.7" width="48.8" height="31" fill="#fff" stroke="#333" stroke-width="0.8"/>
<text x="402.5" y="1096" font-size="23" stroke="#000">14 T</text>
<g clip-path="url(#cb4)">
<path d="M146.2,1257.6 146.2,1257.2 184.2,1256.9 209.9,1256.3 225.2,1255.6 236.9,1254.6 246.7,1253.2 250.7,1252.3 254.4,1251.1 257.7,1249.8 260.4,1248.3 263.2,1246.5 265.4,1244.5 267.4,1242.2 269.4,1239.4 271.2,1236.3 272.9,1232.4 274.4,1228.1 275.7,1223.8 278.2,1212.4 280.2,1199.4 281.9,1184.4 287.4,1123 288.4,1116.3 288.9,1114.6 289.4,1114.1 289.9,1114.8 290.4,1116.8 291.4,1123.8 296.9,1185.4 298.9,1202 300.9,1214.2 303.4,1225.1 304.9,1229.9 306.4,1233.8 308.2,1237.4 309.9,1240.3 312.2,1243.3 314.4,1245.5 316.9,1247.5 319.7,1249.1 322.9,1250.6 326.4,1251.8 330.4,1252.8 334.9,1253.7 346.2,1255.1 359.7,1255.9 377.9,1256.6 408.2,1257 453.7,1257.3 453.8,1257.6Z" fill="url(#gblue4)"/>
<path d="M146,1257.8 214.2,1257.3 224,1257.1 232.2,1256.5 245.5,1254.7 258,1252.3 261.8,1251 265.5,1249.4 270.2,1246.9 272.2,1245.4 274,1243.1 275.2,1240.6 276.2,1233.3 278,1223.8 281.2,1192.3 283,1168.2 284.5,1142.8 285.2,1137.7 287,1130.1 288.8,1114.9 289.2,1112.7 289.5,1112.6 290.2,1113.2 290.8,1114.2 291.8,1117.5 292.5,1129.2 294.8,1143.6 298.2,1178.2 300.8,1198.4 302,1211.3 302.8,1214.1 304.5,1218.8 307.2,1229.7 310,1236.2 311.2,1238.2 312.2,1239.2 323.2,1245.7 328.2,1250 331,1250.8 335.5,1251.5 363,1254.5 374.2,1255.4 417.5,1257 454.2,1257.5" fill="none" stroke="#444" stroke-width="0.8"/>
<path d="M146.5,1257.8h0M148.2,1257.8h0M150,1257.8h0M151.8,1257.8h0M153.5,1257.8h0M155.2,1257.8h0M157,1257.8h0M158.8,1257.8h0M160.5,1257.8h0M162.2,1257.8h0M164,1257.8h0M165.8,1257.8h0M167.5,1257.8h0M169.2,1257.7h0M171,1257.7h0M172.8,1257.7h0M174.5,1257.7h0M176.2,1257.7h0M178,1257.7h0M179.8,1257.7h0M181.5,1257.7h0M183.2,1257.7h0M185,1257.6h0M186.8,1257.6h0M188.5,1257.6h0M190.2,1257.6h0M192,1257.6h0M193.8,1257.6h0M195.5,1257.5h0M197.2,1257.5h0M199,1257.5h0M200.8,1257.5h0M202.5,1257.5h0M204.2,1257.4h0M206,1257.4h0M207.8,1257.4h0M209.5,1257.4h0M211.2,1257.3h0M213,1257.3h0M214.8,1257.3h0M216.5,1257.3h0M218.2,1257.2h0M220,1257.2h0M221.8,1257.2h0M223.5,1257.1h0M225.2,1257h0M227,1256.9h0M228.8,1256.8h0M230.5,1256.6h0M232.2,1256.5h0M234,1256.3h0M235.8,1256.1h0M237.5,1255.9h0M239.2,1255.6h0M241,1255.4h0M242.8,1255.1h0M244.5,1254.9h0M246.2,1254.6h0M248,1254.3h0M249.8,1254h0M251.5,1253.7h0M253.2,1253.3h0M255,1253h0M256.8,1252.6h0M258.5,1252.1h0M260.2,1251.6h0M262,1250.9h0M263.8,1250.2h0M265.5,1249.4h0M267.2,1248.5h0M269,1247.6h0M270.8,1246.6h0M272.5,1245.1h0M274.2,1242.7h0M276,1235h0M277.8,1225.5h0M279.5,1210h0M281.2,1192.3h0M283,1168.2h0M284.8,1140.6h0M286.5,1132.7h0M288.2,1118.9h0M290,1112.9h0M291.8,1117.5h0M293.5,1136h0M295.2,1148.3h0M297,1166h0M298.8,1182.7h0M300.5,1196.3h0M302.2,1212.4h0M304,1217.2h0M305.8,1224.1h0M307.5,1230.4h0M309.2,1234.7h0M311,1237.8h0M312.8,1239.6h0M314.5,1240.7h0M316.2,1241.7h0M318,1242.7h0M319.8,1243.6h0M321.5,1244.6h0M323.2,1245.7h0M325,1247.2h0M326.8,1248.9h0M328.5,1250.1h0M330.2,1250.6h0M332,1251h0M333.8,1251.3h0M335.5,1251.5h0M337.2,1251.7h0M339,1251.9h0M340.8,1252.1h0M342.5,1252.2h0M344.2,1252.4h0M346,1252.6h0M347.8,1252.8h0M349.5,1253h0M351.2,1253.2h0M353,1253.4h0M354.8,1253.6h0M356.5,1253.8h0M358.2,1254h0M360,1254.2h0M361.8,1254.4h0M363.5,1254.5h0M365.2,1254.7h0M367,1254.9h0M368.8,1255h0M370.5,1255.1h0M372.2,1255.3h0M374,1255.4h0M375.8,1255.4h0M377.5,1255.5h0M379.2,1255.6h0M381,1255.7h0M382.8,1255.7h0M384.5,1255.8h0M386.2,1255.9h0M388,1256h0M389.8,1256h0M391.5,1256.1h0M393.2,1256.2h0M395,1256.3h0M396.8,1256.3h0M398.5,1256.4h0M400.2,1256.4h0M402,1256.5h0M403.8,1256.6h0M405.5,1256.6h0M407.2,1256.7h0M409,1256.7h0M410.8,1256.8h0M412.5,1256.8h0M414.2,1256.9h0M416,1256.9h0M417.8,1257h0M419.5,1257h0M421.2,1257.1h0M423,1257.1h0M424.8,1257.2h0M426.5,1257.2h0M428.2,1257.2h0M430,1257.3h0M431.8,1257.3h0M433.5,1257.3h0M435.2,1257.4h0M437,1257.4h0M438.8,1257.4h0M440.5,1257.4h0M442.2,1257.4h0M444,1257.5h0M445.8,1257.5h0M447.5,1257.5h0M449.2,1257.5h0M451,1257.5h0M452.8,1257.5h0" fill="none" stroke="#222" stroke-width="3" stroke-linecap="round"/>
<path d="M146.5,1257.8h0M148.2,1257.8h0M150,1257.8h0M151.8,1257.8h0M153.5,1257.8h0M155.2,1257.8h0M157,1257.8h0M158.8,1257.8h0M160.5,1257.8h0M162.2,1257.8h0M164,1257.8h0M165.8,1257.8h0M167.5,1257.8h0M169.2,1257.7h0M171,1257.7h0M172.8,1257.7h0M174.5,1257.7h0M176.2,1257.7h0M178,1257.7h0M179.8,1257.7h0M181.5,1257.7h0M183.2,1257.7h0M185,1257.6h0M186.8,1257.6h0M188.5,1257.6h0M190.2,1257.6h0M192,1257.6h0M193.8,1257.6h0M195.5,1257.5h0M197.2,1257.5h0M199,1257.5h0M200.8,1257.5h0M202.5,1257.5h0M204.2,1257.4h0M206,1257.4h0M207.8,1257.4h0M209.5,1257.4h0M211.2,1257.3h0M213,1257.3h0M214.8,1257.3h0M216.5,1257.3h0M218.2,1257.2h0M220,1257.2h0M221.8,1257.2h0M223.5,1257.1h0M225.2,1257h0M227,1256.9h0M228.8,1256.8h0M230.5,1256.6h0M232.2,1256.5h0M234,1256.3h0M235.8,1256.1h0M237.5,1255.9h0M239.2,1255.6h0M241,1255.4h0M242.8,1255.1h0M244.5,1254.9h0M246.2,1254.6h0M248,1254.3h0M249.8,1254h0M251.5,1253.7h0M253.2,1253.3h0M255,1253h0M256.8,1252.6h0M258.5,1252.1h0M260.2,1251.6h0M262,1250.9h0M263.8,1250.2h0M265.5,1249.4h0M267.2,1248.5h0M269,1247.6h0M270.8,1246.6h0M272.5,1245.1h0M274.2,1242.7h0M276,1235h0M277.8,1225.5h0M279.5,1210h0M281.2,1192.3h0M283,1168.2h0M284.8,1140.6h0M286.5,1132.7h0M288.2,1118.9h0M290,1112.9h0M291.8,1117.5h0M293.5,1136h0M295.2,1148.3h0M297,1166h0M298.8,1182.7h0M300.5,1196.3h0M302.2,1212.4h0M304,1217.2h0M305.8,1224.1h0M307.5,1230.4h0M309.2,1234.7h0M311,1237.8h0M312.8,1239.6h0M314.5,1240.7h0M316.2,1241.7h0M318,1242.7h0M319.8,1243.6h0M321.5,1244.6h0M323.2,1245.7h0M325,1247.2h0M326.8,1248.9h0M328.5,1250.1h0M330.2,1250.6h0M332,1251h0M333.8,1251.3h0M335.5,1251.5h0M337.2,1251.7h0M339,1251.9h0M340.8,1252.1h0M342.5,1252.2h0M344.2,1252.4h0M346,1252.6h0M347.8,1252.8h0M349.5,1253h0M351.2,1253.2h0M353,1253.4h0M354.8,1253.6h0M356.5,1253.8h0M358.2,1254h0M360,1254.2h0M361.8,1254.4h0M363.5,1254.5h0M365.2,1254.7h0M367,1254.9h0M368.8,1255h0M370.5,1255.1h0M372.2,1255.3h0M374,1255.4h0M375.8,1255.4h0M377.5,1255.5h0M379.2,1255.6h0M381,1255.7h0M382.8,1255.7h0M384.5,1255.8h0M386.2,1255.9h0M388,1256h0M389.8,1256h0M391.5,1256.1h0M393.2,1256.2h0M395,1256.3h0M396.8,1256.3h0M398.5,1256.4h0M400.2,1256.4h0M402,1256.5h0M403.8,1256.6h0M405.5,1256.6h0M407.2,1256.7h0M409,1256.7h0M410.8,1256.8h0M412.5,1256.8h0M414.2,1256.9h0M416,1256.9h0M417.8,1257h0M419.5,1257h0M421.2,1257.1h0M423,1257.1h0M424.8,1257.2h0M426.5,1257.2h0M428.2,1257.2h0M430,1257.3h0M431.8,1257.3h0M433.5,1257.3h0M435.2,1257.4h0M437,1257.4h0M438.8,1257.4h0M440.5,1257.4h0M442.2,1257.4h0M444,1257.5h0M445.8,1257.5h0M447.5,1257.5h0M449.2,1257.5h0M451,1257.5h0M452.8,1257.5h0" fill="none" stroke="#fff" stroke-width="1.3" stroke-linecap="round"/>
</g>
<rect x="414.3" y="1225.1" width="37.9" height="30.1" fill="#000"/>
<rect x="411.9" y="1222.7" width="37.9" height="30.1" fill="#fff" stroke="#333" stroke-width="0.8"/>
<text x="413.5" y="1245.5" font-size="23" stroke="#000">0 T</text>
<text x="218.1" y="619.6" font-size="24" stroke="#000">1</text>
<text x="247" y="548.1" font-size="24" stroke="#000">2</text>
<text x="301.9" y="604.6" font-size="24" stroke="#000">3</text>
<text x="348.1" y="628.5" font-size="24" stroke="#000">4</text>
<text x="281.8" y="1239.4" font-size="24" stroke="#000">X</text>
<text x="298" y="1248" font-size="15" stroke="#000">B</text>
<path d="M261,1071 L237.4,674.5" stroke="#333" stroke-width="1" stroke-dasharray="4,2.5" fill="none"/>
<path d="M232.2,688.7 L237.4,674 L244.2,688.7" stroke="#333" stroke-width="1" fill="none"/>
<path d="M327.2,1087 L353.9,672" stroke="#3aa83a" stroke-width="1" stroke-dasharray="4,2.5" fill="none"/>
<path d="M347.1,685.8 L353.9,671.4 L359.8,686.4" stroke="#3aa83a" stroke-width="1" fill="none"/>
<g fill="rgb(41,125,228)" fill-opacity="0.55"><rect x="749.7" y="316.9" width="16" height="16"/><rect x="759.3" y="317.8" width="16" height="16"/><rect x="768.8" y="318.6" width="16" height="16"/><rect x="778.4" y="319.5" width="16" height="16"/><rect x="787.9" y="320.4" width="16" height="16"/><rect x="797.5" y="321.5" width="16" height="16"/><rect x="807.1" y="322.7" width="16" height="16"/><rect x="816.6" y="324.5" width="16" height="16"/><rect x="826.2" y="326.3" width="16" height="16"/><rect x="835.7" y="327.8" width="16" height="16"/><rect x="845.3" y="329.3" width="16" height="16"/><rect x="854.9" y="329.6" width="16" height="16"/><rect x="864.4" y="329.8" width="16" height="16"/><rect x="874" y="329.6" width="16" height="16"/><rect x="883.5" y="329.3" width="16" height="16"/><rect x="893.1" y="328.4" width="16" height="16"/><rect x="902.7" y="327.5" width="16" height="16"/><rect x="912.2" y="327.1" width="16" height="16"/><rect x="921.8" y="326.6" width="16" height="16"/><rect x="931.3" y="326.6" width="16" height="16"/><rect x="940.9" y="326.6" width="16" height="16"/><rect x="950.5" y="328" width="16" height="16"/><rect x="960" y="329.2" width="16" height="16"/><rect x="969.6" y="330.2" width="16" height="16"/><rect x="979.1" y="331.1" width="16" height="16"/><rect x="988.7" y="332.5" width="16" height="16"/><rect x="998.3" y="333.9" width="16" height="16"/><rect x="1007.8" y="334.9" width="16" height="16"/><rect x="1017.4" y="335.8" width="16" height="16"/><rect x="1026.9" y="336.8" width="16" height="16"/><rect x="1036.5" y="338" width="16" height="16"/><rect x="1046.1" y="339.2" width="16" height="16"/><rect x="1055.6" y="340.3" width="16" height="16"/><rect x="1065.2" y="341.5" width="16" height="16"/><rect x="1074.7" y="342.6" width="16" height="16"/><rect x="1084.3" y="343.7" width="16" height="16"/><rect x="1093.9" y="345.1" width="16" height="16"/><rect x="1103.4" y="347" width="16" height="16"/><rect x="1113" y="348.9" width="16" height="16"/><rect x="1122.5" y="350.9" width="16" height="16"/><rect x="1132.1" y="352.9" width="16" height="16"/><rect x="1141.7" y="354.7" width="16" height="16"/><rect x="1151.2" y="356.5" width="16" height="16"/><rect x="1160.8" y="359.5" width="16" height="16"/><rect x="1170.3" y="362.6" width="16" height="16"/><rect x="1179.9" y="364.8" width="16" height="16"/><rect x="1189.5" y="367" width="16" height="16"/><rect x="1199" y="369.1" width="16" height="16"/><rect x="1208.6" y="370.8" width="16" height="16"/><rect x="1218.1" y="372.3" width="16" height="16"/><rect x="1227.7" y="373.9" width="16" height="16"/><rect x="1237.3" y="375.3" width="16" height="16"/><rect x="1246.8" y="376.6" width="16" height="16"/><rect x="1256.4" y="378" width="16" height="16"/><rect x="1265.9" y="379.2" width="16" height="16"/><rect x="1275.5" y="380.4" width="16" height="16"/><rect x="1285.1" y="381.6" width="16" height="16"/><rect x="1294.6" y="382.8" width="16" height="16"/><rect x="1304.2" y="384.2" width="16" height="16"/><rect x="1313.7" y="385.5" width="16" height="16"/><rect x="1323.3" y="386.7" width="16" height="16"/></g>
<g fill="rgb(235,62,62)" fill-opacity="0.55"><rect x="969.6" y="292.3" width="16" height="16"/><rect x="979.1" y="290.7" width="16" height="16"/><rect x="988.7" y="288" width="16" height="16"/><rect x="998.3" y="287.5" width="16" height="16"/><rect x="1007.8" y="286.3" width="16" height="16"/><rect x="1017.4" y="286" width="16" height="16"/><rect x="1026.9" y="286.4" width="16" height="16"/><rect x="1036.5" y="287.4" width="16" height="16"/><rect x="1046.1" y="287.4" width="16" height="16"/><rect x="1055.6" y="287.5" width="16" height="16"/><rect x="1065.2" y="285.5" width="16" height="16"/><rect x="1074.7" y="285.3" width="16" height="16"/><rect x="1084.3" y="282.9" width="16" height="16"/><rect x="1093.9" y="281.5" width="16" height="16"/><rect x="1103.4" y="272.5" width="16" height="16"/><rect x="1113" y="272.2" width="16" height="16"/><rect x="1122.5" y="272" width="16" height="16"/><rect x="1132.1" y="270.1" width="16" height="16"/><rect x="1141.7" y="268.6" width="16" height="16"/><rect x="1151.2" y="266.2" width="16" height="16"/><rect x="1160.8" y="265.1" width="16" height="16"/><rect x="1170.3" y="264" width="16" height="16"/><rect x="1179.9" y="263" width="16" height="16"/><rect x="1189.5" y="262.1" width="16" height="16"/><rect x="1199" y="261.1" width="16" height="16"/><rect x="1208.6" y="260.1" width="16" height="16"/><rect x="1218.1" y="259.1" width="16" height="16"/><rect x="1227.7" y="258.2" width="16" height="16"/><rect x="1237.3" y="257.2" width="16" height="16"/><rect x="1246.8" y="256.2" width="16" height="16"/><rect x="1256.4" y="255.2" width="16" height="16"/><rect x="1265.9" y="254.2" width="16" height="16"/><rect x="1275.5" y="253.3" width="16" height="16"/><rect x="1285.1" y="252.3" width="16" height="16"/><rect x="1294.6" y="251.3" width="16" height="16"/><rect x="1304.2" y="250.3" width="16" height="16"/><rect x="1313.7" y="249.1" width="16" height="16"/><rect x="1323.3" y="248" width="16" height="16"/></g>
<g fill="rgb(27,154,27)" fill-opacity="0.55"><circle cx="977.6" cy="220.3" r="8.8"/><circle cx="987.1" cy="213.4" r="8.8"/><circle cx="996.7" cy="208.7" r="8.8"/><circle cx="1006.3" cy="205" r="8.8"/><circle cx="1015.8" cy="202.3" r="8.8"/><circle cx="1025.4" cy="199.3" r="8.8"/><circle cx="1034.9" cy="196.1" r="8.8"/><circle cx="1044.5" cy="192.9" r="8.8"/><circle cx="1054.1" cy="190.2" r="8.8"/><circle cx="1063.6" cy="186.8" r="8.8"/><circle cx="1073.2" cy="182.8" r="8.8"/><circle cx="1082.7" cy="179.3" r="8.8"/><circle cx="1092.3" cy="176.4" r="8.8"/><circle cx="1101.9" cy="173.5" r="8.8"/><circle cx="1111.4" cy="170.2" r="8.8"/><circle cx="1121" cy="167" r="8.8"/><circle cx="1130.5" cy="164" r="8.8"/><circle cx="1140.1" cy="160.9" r="8.8"/><circle cx="1149.7" cy="157.6" r="8.8"/><circle cx="1159.2" cy="154.1" r="8.8"/><circle cx="1168.8" cy="150.4" r="8.8"/><circle cx="1178.3" cy="146.8" r="8.8"/><circle cx="1187.9" cy="143.3" r="8.8"/><circle cx="1197.5" cy="140" r="8.8"/><circle cx="1207" cy="136.7" r="8.8"/><circle cx="1216.6" cy="133.4" r="8.8"/><circle cx="1226.1" cy="130.1" r="8.8"/><circle cx="1235.7" cy="127.1" r="8.8"/><circle cx="1245.3" cy="124.2" r="8.8"/><circle cx="1254.8" cy="121.3" r="8.8"/><circle cx="1264.4" cy="118.4" r="8.8"/><circle cx="1273.9" cy="115.6" r="8.8"/><circle cx="1283.5" cy="112.8" r="8.8"/><circle cx="1293.1" cy="110" r="8.8"/><circle cx="1302.6" cy="107.3" r="8.8"/><circle cx="1312.2" cy="104.9" r="8.8"/><circle cx="1321.7" cy="102.7" r="8.8"/><circle cx="1331.3" cy="100.5" r="8.8"/></g>
<g fill="rgb(23,23,23)" fill-opacity="0.55"><circle cx="977.6" cy="376.2" r="8.8"/><circle cx="987.1" cy="379" r="8.8"/><circle cx="996.7" cy="382" r="8.8"/><circle cx="1006.3" cy="385.1" r="8.8"/><circle cx="1015.8" cy="388.3" r="8.8"/><circle cx="1025.4" cy="391.6" r="8.8"/><circle cx="1034.9" cy="394.7" r="8.8"/><circle cx="1044.5" cy="397.9" r="8.8"/><circle cx="1054.1" cy="401.1" r="8.8"/><circle cx="1063.6" cy="404.4" r="8.8"/><circle cx="1073.2" cy="407.8" r="8.8"/><circle cx="1082.7" cy="411.1" r="8.8"/><circle cx="1092.3" cy="414.6" r="8.8"/><circle cx="1101.9" cy="418" r="8.8"/><circle cx="1111.4" cy="421.3" r="8.8"/><circle cx="1121" cy="424.6" r="8.8"/><circle cx="1130.5" cy="427.9" r="8.8"/><circle cx="1140.1" cy="431.2" r="8.8"/><circle cx="1149.7" cy="434.5" r="8.8"/><circle cx="1159.2" cy="437.7" r="8.8"/><circle cx="1168.8" cy="441.3" r="8.8"/><circle cx="1178.3" cy="444.9" r="8.8"/><circle cx="1187.9" cy="448.4" r="8.8"/><circle cx="1197.5" cy="452" r="8.8"/><circle cx="1207" cy="455.6" r="8.8"/><circle cx="1216.6" cy="459.2" r="8.8"/><circle cx="1226.1" cy="462.8" r="8.8"/><circle cx="1235.7" cy="466.3" r="8.8"/><circle cx="1245.3" cy="469.9" r="8.8"/><circle cx="1254.8" cy="473.5" r="8.8"/><circle cx="1264.4" cy="477.8" r="8.8"/><circle cx="1273.9" cy="482.1" r="8.8"/><circle cx="1283.5" cy="486.5" r="8.8"/><circle cx="1293.1" cy="490.9" r="8.8"/><circle cx="1302.6" cy="494.1" r="8.8"/><circle cx="1312.2" cy="497.3" r="8.8"/><circle cx="1321.7" cy="500.6" r="8.8"/><circle cx="1331.3" cy="503.9" r="8.8"/></g>
<path d="M757.7,334.4 805.5,343.1 858.1,352.3 891.5,358.9 925,366 972.8,377 982.4,379.3 1001.5,384.5 1015.8,388.7 1034.9,394.6 1054.1,400.7 1073.2,407.1 1144.9,431.9 1235.7,462.8 1283.5,479.5 1331.3,496.5" fill="none" stroke="#000" stroke-width="3.3" stroke-linecap="round"/>
<path d="M757.7,295.5 772,297.8 786.4,300.4 800.7,303.2 815.1,306.2 834.2,310.7 867.6,319.2 910.7,330.5 934.6,336.2 958.5,341.5 982.4,346.6 1020.6,354.4 1039.7,358 1054.1,360.3 1073.2,363.1 1097.1,366.1 1144.9,371.6 1173.6,375.3 1254.8,386 1331.3,396.6" fill="none" stroke="#000" stroke-width="3.3" stroke-linecap="round"/>
<path d="M757.7,334.4 781.6,329.5 800.7,326.3 810.3,325 819.8,323.9 848.5,321.1 862.9,319.6 877.2,317.5 905.9,312.7 920.2,310.7 934.6,308.9 972.8,304.7 987.1,302.9 1030.2,296.7 1054.1,293.4 1121,284.6 1183.1,276.7 1259.6,267.5 1331.3,259.5" fill="none" stroke="#000" stroke-width="3.3" stroke-linecap="round"/>
<path d="M757.7,274.9 772,272.6 781.6,270.9 791.2,268.9 805.5,265.5 819.8,261.7 839,256.3 853.3,252 867.6,247.4 891.5,239.3 1125.8,158.8 1331.3,87.5" fill="none" stroke="#000" stroke-width="3.3" stroke-linecap="round"/>
<path d="M758.6,226.4 L758.6,272 M747.9,253.2 L758.6,272.9 L769.3,253.2" stroke="#858585" stroke-width="3.1" fill="none" stroke-linecap="butt"/>
<path d="M830.9,235.7 L760.5,289.5 M770.2,271.1 L759.5,290.4 L782.7,285.7" stroke="#858585" stroke-width="3.1" fill="none" stroke-linecap="butt"/>
<path d="M758.6,388 L758.6,341.7 M747.9,362.1 L758.6,340.7 L769.3,362.1" stroke="#858585" stroke-width="3.1" fill="none" stroke-linecap="butt"/>
<text x="769" y="83.3" font-size="25" stroke="#000">MoSe</text>
<text x="834.8" y="91" font-size="16" stroke="#000">2</text>
<text x="850.3" y="83.3" font-size="25" stroke="#000">monolayer</text>
<text x="1330" y="80.6" font-size="23" text-anchor="end" stroke="#000">4</text>
<text x="1330" y="227.2" font-size="23" text-anchor="end" stroke="#000">3</text>
<text x="1330" y="370.8" font-size="23" text-anchor="end" stroke="#000">2</text>
<text x="1330" y="477.5" font-size="23" text-anchor="end" stroke="#000">1</text>
<text x="754.6" y="213.4" font-size="24" stroke="#000">X</text>
<text x="770" y="221.8" font-size="16.5" stroke="#000">G</text>
<text x="827.4" y="224.5" font-size="24" stroke="#000">X</text>
<text x="843" y="233" font-size="16.5" stroke="#000">D</text>
<text x="756.2" y="417.8" font-size="24" stroke="#000">X</text>
<text x="771.6" y="426.2" font-size="16.5" stroke="#000">B</text>
<g fill="#ee4242"><circle cx="756.6" cy="983.5" r="9.5"/><circle cx="768" cy="981.2" r="9.5"/><circle cx="779.3" cy="979" r="9.5"/><circle cx="790.7" cy="977.1" r="9.5"/><circle cx="802.1" cy="975.4" r="9.5"/><circle cx="813.5" cy="974" r="9.5"/><circle cx="824.8" cy="972.8" r="9.5"/><circle cx="836.2" cy="971.8" r="9.5"/><circle cx="847.6" cy="970.7" r="9.5"/><circle cx="858.9" cy="969.5" r="9.5"/><circle cx="870.3" cy="968" r="9.5"/><circle cx="881.7" cy="966.2" r="9.5"/><circle cx="893" cy="964.4" r="9.5"/><circle cx="904.4" cy="962.6" r="9.5"/><circle cx="915.8" cy="961" r="9.5"/><circle cx="927.1" cy="959.6" r="9.5"/><circle cx="938.5" cy="958.3" r="9.5"/><circle cx="949.9" cy="957.1" r="9.5"/><circle cx="961.3" cy="955.9" r="9.5"/><circle cx="972.6" cy="954.7" r="9.5"/><circle cx="984" cy="953.3" r="9.5"/><circle cx="995.4" cy="951.8" r="9.5"/><circle cx="1006.7" cy="950.1" r="9.5"/><circle cx="1018.1" cy="948.5" r="9.5"/><circle cx="1029.5" cy="946.9" r="9.5"/><circle cx="1040.8" cy="945.4" r="9.5"/><circle cx="1052.2" cy="943.9" r="9.5"/><circle cx="1063.6" cy="942.4" r="9.5"/><circle cx="1075" cy="941" r="9.5"/><circle cx="1086.3" cy="939.5" r="9.5"/><circle cx="1097.7" cy="938" r="9.5"/><circle cx="1109.1" cy="936.6" r="9.5"/><circle cx="1120.4" cy="935.2" r="9.5"/><circle cx="1131.8" cy="933.7" r="9.5"/><circle cx="1143.2" cy="932.3" r="9.5"/><circle cx="1154.5" cy="930.9" r="9.5"/><circle cx="1165.9" cy="929.5" r="9.5"/><circle cx="1177.3" cy="928.2" r="9.5"/><circle cx="1188.7" cy="926.8" r="9.5"/><circle cx="1200" cy="925.4" r="9.5"/><circle cx="1211.4" cy="924.1" r="9.5"/><circle cx="1222.8" cy="922.8" r="9.5"/><circle cx="1234.1" cy="921.5" r="9.5"/><circle cx="1245.5" cy="920.2" r="9.5"/><circle cx="1256.9" cy="918.9" r="9.5"/><circle cx="1268.2" cy="917.6" r="9.5"/><circle cx="1279.6" cy="916.4" r="9.5"/><circle cx="1291" cy="915.1" r="9.5"/><circle cx="1302.4" cy="913.9" r="9.5"/><circle cx="1313.7" cy="912.7" r="9.5"/><circle cx="1325.1" cy="911.6" r="9.5"/></g>
<g fill="#6ca4ec"><circle cx="756.6" cy="983.5" r="9.8"/><circle cx="768" cy="985.5" r="9.7"/><circle cx="779.3" cy="987.6" r="9.6"/><circle cx="790.7" cy="989.6" r="9.5"/><circle cx="802.1" cy="991.5" r="9.5"/><circle cx="813.5" cy="993.5" r="9.4"/><circle cx="824.8" cy="995.4" r="9.3"/><circle cx="836.2" cy="997.3" r="9.2"/><circle cx="847.6" cy="999.2" r="9.1"/><circle cx="858.9" cy="1001.2" r="9"/><circle cx="870.3" cy="1003.4" r="8.9"/><circle cx="881.7" cy="1005.5" r="8.8"/><circle cx="893" cy="1007.8" r="8.7"/><circle cx="904.4" cy="1010.1" r="8.6"/><circle cx="915.8" cy="1012.5" r="8.6"/><circle cx="927.1" cy="1014.9" r="8.5"/><circle cx="938.5" cy="1017.5" r="8.4"/><circle cx="949.9" cy="989.1" r="3.5"/><circle cx="949.9" cy="1020" r="8.3"/><circle cx="961.3" cy="991.5" r="4.7"/><circle cx="961.3" cy="1022.6" r="8.2"/><circle cx="972.6" cy="993.9" r="6"/><circle cx="972.6" cy="1025.1" r="8.1"/><circle cx="984" cy="996.1" r="6.2"/><circle cx="984" cy="1027.9" r="8"/><circle cx="995.4" cy="998.4" r="6.4"/><circle cx="995.4" cy="1030.9" r="7.8"/><circle cx="1006.7" cy="1000.7" r="6.6"/><circle cx="1006.7" cy="1034" r="7.7"/><circle cx="1018.1" cy="1002.9" r="6.9"/><circle cx="1018.1" cy="1037.3" r="7.6"/><circle cx="1029.5" cy="1005" r="7.1"/><circle cx="1029.5" cy="1040.7" r="7.4"/><circle cx="1040.8" cy="1007" r="7.3"/><circle cx="1040.8" cy="1044.3" r="7.2"/><circle cx="1052.2" cy="1008.7" r="7.4"/><circle cx="1052.2" cy="1047.9" r="7.1"/><circle cx="1063.6" cy="1010.3" r="7.5"/><circle cx="1063.6" cy="1051.5" r="7"/><circle cx="1075" cy="1011.8" r="7.6"/><circle cx="1075" cy="1055.3" r="6.8"/><circle cx="1086.3" cy="1013.2" r="7.6"/><circle cx="1086.3" cy="1059" r="6.7"/><circle cx="1097.7" cy="1014.5" r="7.7"/><circle cx="1097.7" cy="1062.9" r="6.6"/><circle cx="1109.1" cy="1015.7" r="7.8"/><circle cx="1109.1" cy="1066.7" r="6.5"/><circle cx="1120.4" cy="1017" r="7.9"/><circle cx="1120.4" cy="1070.5" r="6.4"/><circle cx="1131.8" cy="1018.3" r="8"/><circle cx="1131.8" cy="1074.3" r="6.2"/><circle cx="1143.2" cy="1019.6" r="8.1"/><circle cx="1143.2" cy="1078.1" r="6.2"/><circle cx="1154.5" cy="1021" r="8.2"/><circle cx="1154.5" cy="1081.8" r="6.1"/><circle cx="1165.9" cy="1022.4" r="8.2"/><circle cx="1165.9" cy="1085.5" r="6.1"/><circle cx="1177.3" cy="1023.8" r="8.3"/><circle cx="1177.3" cy="1089.3" r="6"/><circle cx="1188.7" cy="1025.3" r="8.4"/><circle cx="1188.7" cy="1093" r="6"/><circle cx="1200" cy="1026.7" r="8.5"/><circle cx="1200" cy="1096.8" r="6"/><circle cx="1211.4" cy="1028.2" r="8.6"/><circle cx="1211.4" cy="1100.6" r="5.9"/><circle cx="1222.8" cy="1029.7" r="8.7"/><circle cx="1222.8" cy="1104.4" r="5.9"/><circle cx="1234.1" cy="1031.1" r="8.8"/><circle cx="1234.1" cy="1108.2" r="5.8"/><circle cx="1245.5" cy="1032.6" r="8.9"/><circle cx="1245.5" cy="1112" r="5.8"/><circle cx="1256.9" cy="1034.1" r="9"/><circle cx="1256.9" cy="1115.8" r="5.8"/><circle cx="1268.2" cy="1035.6" r="9.1"/><circle cx="1268.2" cy="1119.7" r="5.7"/><circle cx="1279.6" cy="1037.1" r="9.1"/><circle cx="1279.6" cy="1123.6" r="5.7"/><circle cx="1291" cy="1038.6" r="9.2"/><circle cx="1291" cy="1127.5" r="5.6"/><circle cx="1302.4" cy="1040.2" r="9.3"/><circle cx="1302.4" cy="1131.4" r="5.6"/><circle cx="1313.7" cy="1041.7" r="9.4"/><circle cx="1313.7" cy="1135.3" r="5.5"/><circle cx="1325.1" cy="1043.3" r="9.5"/><circle cx="1325.1" cy="1139.2" r="5.5"/></g>
<path d="M750.1,919.9l13,13M750.1,932.9l13,-13M761.6,918.2l12.8,12.8M761.6,931.1l12.8,-12.8M767.2,980.4l1.6,1.6M767.2,982l1.6,-1.6M766.5,946.4l3,3M766.5,949.4l3,-3M767.1,984.6l1.8,1.8M767.1,986.4l1.8,-1.8M773,916.4l12.7,12.7M773,929l12.7,-12.7M778.5,978.2l1.6,1.6M778.5,979.9l1.6,-1.6M777.1,947.7l4.4,4.4M777.1,952.1l4.4,-4.4M778.4,986.6l1.9,1.9M778.4,988.5l1.9,-1.9M784.5,914.1l12.5,12.5M784.5,926.6l12.5,-12.5M789.9,976.2l1.7,1.7M789.9,977.9l1.7,-1.7M788.2,949.4l4.9,4.9M788.2,954.4l4.9,-4.9M789.7,988.6l2,2M789.7,990.6l2,-2M795.9,911.6l12.3,12.3M795.9,923.9l12.3,-12.3M801.2,974.5l1.7,1.7M801.2,976.2l1.7,-1.7M799.3,951.4l5.5,5.5M799.3,956.8l5.5,-5.5M801,990.5l2.1,2.1M801,992.6l2.1,-2.1M807.4,908.8l12.2,12.2M807.4,921l12.2,-12.2M812.6,973.1l1.7,1.7M812.6,974.8l1.7,-1.7M810.5,953.4l6,6M810.5,959.4l6,-6M812.4,992.4l2.2,2.2M812.4,994.6l2.2,-2.2M818.8,905.9l12,12M818.8,917.8l12,-12M823.9,971.9l1.7,1.7M823.9,973.7l1.7,-1.7M821.6,955.7l6.5,6.5M821.6,962.2l6.5,-6.5M823.6,994.2l2.4,2.4M823.6,996.6l2.4,-2.4M830.3,902.8l11.8,11.8M830.3,914.6l11.8,-11.8M835.3,970.9l1.8,1.8M835.3,972.6l1.8,-1.8M832.7,958.2l7,7M832.7,965.2l7,-7M834.9,996l2.7,2.7M834.9,998.6l2.7,-2.7M841.7,899.6l11.7,11.7M841.7,911.3l11.7,-11.7M846.7,969.8l1.8,1.8M846.7,971.6l1.8,-1.8M843.8,960.7l7.5,7.5M843.8,968.2l7.5,-7.5M846.1,997.8l2.9,2.9M846.1,1000.7l2.9,-2.9M853.1,896.2l11.6,11.6M853.1,907.8l11.6,-11.6M858,968.6l1.8,1.8M858,970.4l1.8,-1.8M854.9,963.3l8,8M854.9,971.3l8,-8M857.4,999.7l3.2,3.2M857.4,1002.8l3.2,-3.2M864.5,892.6l11.6,11.6M864.5,904.2l11.6,-11.6M869.4,967.1l1.8,1.8M869.4,968.9l1.8,-1.8M866.3,966l8.1,8.1M866.3,974.1l8.1,-8.1M868.5,1001.6l3.5,3.5M868.5,1005.1l3.5,-3.5M875.9,888.9l11.5,11.5M875.9,900.5l11.5,-11.5M880.7,965.3l1.9,1.9M880.7,967.2l1.9,-1.9M877.6,968.9l8.2,8.2M877.6,977.1l8.2,-8.2M879.7,1003.6l3.9,3.9M879.7,1007.5l3.9,-3.9M887.3,885.2l11.5,11.5M887.3,896.7l11.5,-11.5M892.1,963.4l1.9,1.9M892.1,965.3l1.9,-1.9M888.9,971.8l8.3,8.3M888.9,980l8.3,-8.3M890.9,1005.6l4.4,4.4M890.9,1010l4.4,-4.4M898.7,881.4l11.5,11.5M898.7,892.8l11.5,-11.5M903.5,961.6l1.9,1.9M903.5,963.5l1.9,-1.9M900.2,974.6l8.4,8.4M900.2,983l8.4,-8.4M902,1007.7l4.8,4.8M902,1012.5l4.8,-4.8M910.1,877.6l11.4,11.4M910.1,889l11.4,-11.4M914.8,960l1.9,1.9M914.8,961.9l1.9,-1.9M911.6,977.3l8.5,8.5M911.6,985.8l8.5,-8.5M913.2,1009.9l5.2,5.2M913.2,1015l5.2,-5.2M921.4,873.8l11.4,11.4M921.4,885.2l11.4,-11.4M926.2,958.6l2,2M926.2,960.6l2,-2M922.9,979.9l8.5,8.5M922.9,988.4l8.5,-8.5M924.4,1012.1l5.6,5.6M924.4,1017.7l5.6,-5.6M932.8,870.1l11.4,11.4M932.8,881.5l11.4,-11.4M937.5,957.3l2,2M937.5,959.3l2,-2M934.2,982.4l8.6,8.6M934.2,991l8.6,-8.6M935.5,1014.5l6,6M935.5,1020.4l6,-6M944.2,866.3l11.4,11.4M944.2,877.7l11.4,-11.4M948.9,956.1l2,2M948.9,958.1l2,-2M945.5,984.8l8.7,8.7M945.5,993.5l8.7,-8.7M946.7,1016.8l6.4,6.4M946.7,1023.2l6.4,-6.4M955.6,862.5l11.3,11.3M955.6,873.9l11.3,-11.3M960.2,954.9l2.1,2.1M960.2,957l2.1,-2.1M956.9,987.1l8.8,8.8M956.9,995.9l8.8,-8.8M957.9,1019.2l6.8,6.8M957.9,1026l6.8,-6.8M967,858.8l11.3,11.3M967,870.1l11.3,-11.3M971.6,953.6l2.1,2.1M971.6,955.7l2.1,-2.1M968.2,989.4l8.9,8.9M968.2,998.3l8.9,-8.9M969,1021.5l7.2,7.2M969,1028.7l7.2,-7.2M978.4,855l11.3,11.3M978.4,866.3l11.3,-11.3M982.9,952.2l2.2,2.2M982.9,954.4l2.2,-2.2M979.5,991.6l9,9M979.5,1000.6l9,-9M980.2,1024.1l7.6,7.6M980.2,1031.7l7.6,-7.6M989.8,851.2l11.2,11.2M989.8,862.5l11.2,-11.2M994.3,950.7l2.2,2.2M994.3,952.9l2.2,-2.2M990.9,993.9l9,9M990.9,1002.9l9,-9M991.5,1027l7.7,7.7M991.5,1034.7l7.7,-7.7M1001.1,847.5l11.2,11.2M1001.1,858.7l11.2,-11.2M1005.6,949l2.3,2.3M1005.6,951.3l2.3,-2.3M1002.2,996.2l9,9M1002.2,1005.2l9,-9M1002.9,1030.2l7.8,7.8M1002.9,1037.9l7.8,-7.8M1012.5,843.7l11.2,11.2M1012.5,854.9l11.2,-11.2M1017,947.3l2.3,2.3M1017,949.6l2.3,-2.3M1013.6,998.4l9,9M1013.6,1007.4l9,-9M1014.2,1033.4l7.8,7.8M1014.2,1041.2l7.8,-7.8M1023.9,839.9l11.1,11.1M1023.9,851.1l11.1,-11.1M1028.3,945.7l2.4,2.4M1028.3,948.1l2.4,-2.4M1025,1000.5l9,9M1025,1009.5l9,-9M1025.5,1036.8l7.9,7.9M1025.5,1044.7l7.9,-7.9M1035.3,836.1l11.1,11.1M1035.3,847.3l11.1,-11.1M1039.6,944.2l2.4,2.4M1039.6,946.6l2.4,-2.4M1036.3,1002.5l9,9M1036.3,1011.5l9,-9M1036.9,1040.3l8,8M1036.9,1048.2l8,-8M1046.7,832.4l11.1,11.1M1046.7,843.5l11.1,-11.1M1051,942.7l2.4,2.4M1051,945.1l2.4,-2.4M1047.7,1004.2l9,9M1047.7,1013.2l9,-9M1048.2,1043.8l8,8M1048.2,1051.9l8,-8M1058.1,828.6l11.1,11.1M1058.1,839.7l11.1,-11.1M1062.3,941.2l2.5,2.5M1062.3,943.7l2.5,-2.5M1059.1,1005.8l9,9M1059.1,1014.8l9,-9M1059.5,1047.5l8.1,8.1M1059.5,1055.6l8.1,-8.1M1069.4,824.8l11,11M1069.4,835.9l11,-11M1073.7,939.7l2.5,2.5M1073.7,942.2l2.5,-2.5M1070.5,1007.3l9,9M1070.5,1016.3l9,-9M1070.9,1051.2l8.2,8.2M1070.9,1059.4l8.2,-8.2M1080.8,821l11,11M1080.8,832l11,-11M1085,938.2l2.6,2.6M1085,940.8l2.6,-2.6M1081.8,1008.7l9,9M1081.8,1017.7l9,-9M1082.2,1054.9l8.3,8.3M1082.2,1063.2l8.3,-8.3M1092.2,817.3l11,11M1092.2,828.2l11,-11M1096.4,936.7l2.6,2.6M1096.4,939.4l2.6,-2.6M1093.2,1010l9,9M1093.2,1019l9,-9M1093.5,1058.7l8.3,8.3M1093.5,1067l8.3,-8.3M1103.6,813.5l10.9,10.9M1103.6,824.4l10.9,-10.9M1107.7,935.3l2.7,2.7M1107.7,937.9l2.7,-2.7M1104.6,1011.2l9,9M1104.6,1020.2l9,-9M1104.9,1062.5l8.4,8.4M1104.9,1070.9l8.4,-8.4M1115,809.7l10.9,10.9M1115,820.6l10.9,-10.9M1119.1,933.8l2.7,2.7M1119.1,936.5l2.7,-2.7M1115.9,1012.5l9,9M1115.9,1021.5l9,-9M1116.2,1066.3l8.5,8.5M1116.2,1074.8l8.5,-8.5M1126.4,805.9l10.9,10.9M1126.4,816.8l10.9,-10.9M1130.4,932.3l2.8,2.8M1130.4,935.1l2.8,-2.8M1127.3,1013.8l9,9M1127.3,1022.8l9,-9M1127.5,1070l8.6,8.6M1127.5,1078.6l8.6,-8.6M1137.7,802.1l10.9,10.9M1137.7,813l10.9,-10.9M1141.8,930.9l2.8,2.8M1141.8,933.7l2.8,-2.8M1138.7,1015.1l9,9M1138.7,1024.1l9,-9M1138.9,1073.8l8.6,8.6M1138.9,1082.4l8.6,-8.6M1149.1,798.3l10.8,10.8M1149.1,809.2l10.8,-10.8M1153.1,929.5l2.9,2.9M1153.1,932.4l2.9,-2.9M1150,1016.5l9,9M1150,1025.5l9,-9M1150.2,1077.5l8.6,8.6M1150.2,1086.2l8.6,-8.6M1160.5,794.5l10.8,10.8M1160.5,805.3l10.8,-10.8M1164.4,928l3,3M1164.4,931l3,-3M1161.4,1017.9l9,9M1161.4,1026.9l9,-9M1161.6,1081.2l8.7,8.7M1161.6,1089.9l8.7,-8.7M1171.9,790.7l10.8,10.8M1171.9,801.5l10.8,-10.8M1175.8,926.6l3.1,3.1M1175.8,929.7l3.1,-3.1M1172.8,1019.3l9,9M1172.8,1028.3l9,-9M1172.9,1084.9l8.7,8.7M1172.9,1093.6l8.7,-8.7M1183.3,786.9l10.7,10.7M1183.3,797.7l10.7,-10.7M1187.1,925.2l3.1,3.1M1187.1,928.4l3.1,-3.1M1184.2,1020.8l9,9M1184.2,1029.8l9,-9M1184.3,1088.7l8.7,8.7M1184.3,1097.4l8.7,-8.7M1194.7,783.1l10.7,10.7M1194.7,793.8l10.7,-10.7M1198.4,923.8l3.2,3.2M1198.4,927l3.2,-3.2M1195.5,1022.2l9,9M1195.5,1031.2l9,-9M1195.7,1092.4l8.7,8.7M1195.7,1101.1l8.7,-8.7M1206.1,779.3l10.7,10.7M1206.1,790l10.7,-10.7M1209.8,922.5l3.3,3.3M1209.8,925.7l3.3,-3.3M1206.9,1023.7l9,9M1206.9,1032.7l9,-9M1207,1096.2l8.8,8.8M1207,1104.9l8.8,-8.8M1217.4,775.5l10.7,10.7M1217.4,786.2l10.7,-10.7M1221.1,921.1l3.4,3.4M1221.1,924.4l3.4,-3.4M1218.3,1025.2l9,9M1218.3,1034.2l9,-9M1218.4,1100l8.8,8.8M1218.4,1108.7l8.8,-8.8M1228.8,771.7l10.6,10.6M1228.8,782.3l10.6,-10.6M1232.4,919.7l3.4,3.4M1232.4,923.2l3.4,-3.4M1229.6,1026.6l9,9M1229.6,1035.6l9,-9M1229.7,1103.8l8.8,8.8M1229.7,1112.6l8.8,-8.8M1240.2,767.9l10.6,10.6M1240.2,778.5l10.6,-10.6M1243.8,918.4l3.5,3.5M1243.8,921.9l3.5,-3.5M1241,1028.1l9,9M1241,1037.1l9,-9M1241.1,1107.6l8.8,8.8M1241.1,1116.4l8.8,-8.8M1251.6,764.1l10.6,10.6M1251.6,774.6l10.6,-10.6M1255.1,917.1l3.6,3.6M1255.1,920.7l3.6,-3.6M1252.4,1029.6l9,9M1252.4,1038.6l9,-9M1252.5,1111.4l8.9,8.9M1252.5,1120.3l8.9,-8.9M1263,760.3l10.5,10.5M1263,770.8l10.5,-10.5M1266.4,915.8l3.6,3.6M1266.4,919.4l3.6,-3.6M1263.8,1031.1l9,9M1263.8,1040.1l9,-9M1263.8,1115.3l8.9,8.9M1263.8,1124.1l8.9,-8.9M1274.4,756.4l10.5,10.5M1274.4,766.9l10.5,-10.5M1277.8,914.5l3.7,3.7M1277.8,918.2l3.7,-3.7M1275.1,1032.6l9,9M1275.1,1041.6l9,-9M1275.2,1119.1l8.9,8.9M1275.2,1128l8.9,-8.9M1285.7,752.6l10.5,10.5M1285.7,763.1l10.5,-10.5M1289.1,913.3l3.8,3.8M1289.1,917l3.8,-3.8M1286.5,1034.1l9,9M1286.5,1043.1l9,-9M1286.5,1123l8.9,8.9M1286.5,1131.9l8.9,-8.9M1297.1,748.8l10.5,10.5M1297.1,759.2l10.5,-10.5M1300.4,912l3.9,3.9M1300.4,915.9l3.9,-3.9M1297.9,1035.7l9,9M1297.9,1044.7l9,-9M1297.9,1126.9l9,9M1297.9,1135.8l9,-9M1308.5,745l10.4,10.4M1308.5,755.4l10.4,-10.4M1311.8,910.8l3.9,3.9M1311.8,914.7l3.9,-3.9M1309.2,1037.2l9,9M1309.2,1046.2l9,-9M1309.2,1130.8l9,9M1309.2,1139.8l9,-9M1319.9,741.1l10.4,10.4M1319.9,751.5l10.4,-10.4M1323.1,909.6l4,4M1323.1,913.6l4,-4M1320.6,1038.8l9,9M1320.6,1047.8l9,-9M1320.6,1134.7l9,9M1320.6,1143.7l9,-9" stroke="#0a8a0a" stroke-width="1.3" fill="none"/>
<path d="M746.6,946.1h20M756.6,936.1v20M765,924.7h6M768,921.7v6M767,981.2h1.9M768,980.3v1.9M758.2,947.9h19.5M768,938.2v19.5M767,985.5h2M768,984.5v2M774.8,922.7h9M779.3,918.2v9M778.4,979h1.9M779.3,978.1v1.9M769.8,949.9h19M779.3,940.4v19M778.3,987.6h2.1M779.3,986.5v2.1M785.7,920.4h10M790.7,915.4v10M789.7,977.1h2M790.7,976.1v2M781.6,951.9h18.2M790.7,942.8v18.2M789.6,989.6h2.2M790.7,988.5v2.2M796.6,917.8h11M802.1,912.3v11M801,975.4h2.1M802.1,974.3v2.1M793.4,954.1h17.4M802.1,945.4v17.4M800.9,991.5h2.3M802.1,990.4v2.3M807.5,914.9h12M813.5,908.9v12M812.4,974h2.2M813.5,972.9v2.2M805.2,956.4h16.6M813.5,948.1v16.6M812.2,993.5h2.4M813.5,992.3v2.4M818.7,911.8h12.3M824.8,905.7v12.3M823.7,972.8h2.2M824.8,971.7v2.2M816.9,959h15.8M824.8,951.1v15.8M823.4,995.4h2.8M824.8,994v2.8M829.9,908.7h12.6M836.2,902.4v12.6M835,971.8h2.3M836.2,970.6v2.3M828.7,961.7h15M836.2,954.2v15M834.6,997.3h3.2M836.2,995.7v3.2M841.1,905.5h12.9M847.6,899v12.9M846.4,970.7h2.4M847.6,969.5v2.4M840.5,964.5h14.2M847.6,957.4v14.2M845.8,999.2h3.6M847.6,997.5v3.6M852.4,902h13M858.9,895.5v13M857.7,969.5h2.4M858.9,968.3v2.4M852.2,967.3h13.4M858.9,960.6v13.4M857,1001.2h3.9M858.9,999.3v3.9M863.8,898.4h13M870.3,891.9v13M869.1,968h2.5M870.3,966.7v2.5M863.7,970.1h13.2M870.3,963.4v13.2M868.1,1003.4h4.5M870.3,1001.1v4.5M875.1,894.7h13.1M881.7,888.2v13.1M880.4,966.2h2.5M881.7,965v2.5M875.2,973h13M881.7,966.4v13M879.2,1005.5h5M881.7,1003v5M886.5,890.9h13.1M893,884.4v13.1M891.8,964.4h2.6M893,963.1v2.6M886.6,975.9h12.9M893,969.5v12.9M890.3,1007.8h5.6M893,1005v5.6M897.9,887.1h13.1M904.4,880.6v13.1M903.1,962.6h2.6M904.4,961.3v2.6M898.1,978.8h12.7M904.4,972.5v12.7M901.3,1010.1h6.1M904.4,1007v6.1M909.2,883.3h13.1M915.8,876.7v13.1M914.4,961h2.7M915.8,959.6v2.7M909.5,981.5h12.5M915.8,975.3v12.5M912.4,1012.5h6.7M915.8,1009.1v6.7M920.6,879.5h13.2M927.1,873v13.2M925.8,959.6h2.7M927.1,958.2v2.7M921,984.1h12.3M927.1,978v12.3M923.5,1014.9h7.2M927.1,1011.3v7.2M931.9,875.8h13.2M938.5,869.2v13.2M937.1,958.3h2.8M938.5,956.9v2.8M932.5,986.7h12.1M938.5,980.6v12.1M934.6,1017.5h7.8M938.5,1013.6v7.8M943.3,872h13.2M949.9,865.4v13.2M948.5,957.1h2.8M949.9,955.7v2.8M943.9,989.1h12M949.9,983.1v12M945.7,1020h8.3M949.9,1015.9v8.3M954.6,868.2h13.2M961.3,861.6v13.2M959.8,955.9h3M961.3,954.4v3M955.3,991.5h12M961.3,985.5v12M956.8,1022.6h8.9M961.3,1018.1v8.9M966,864.4h13.3M972.6,857.8v13.3M971.1,954.7h3.1M972.6,953.1v3.1M966.6,993.9h12M972.6,987.9v12M967.9,1025.1h9.4M972.6,1020.4v9.4M977.4,860.6h13.3M984,854v13.3M982.4,953.3h3.2M984,951.7v3.2M978,996.1h12M984,990.1v12M979,1027.9h10M984,1022.9v10M988.7,856.8h13.3M995.4,850.2v13.3M993.7,951.8h3.4M995.4,950.1v3.4M989.4,998.4h12M995.4,992.4v12M990.3,1030.9h10.2M995.4,1025.8v10.2M1000.1,853.1h13.3M1006.7,846.4v13.3M1005,950.1h3.5M1006.7,948.4v3.5M1000.7,1000.7h12M1006.7,994.7v12M1001.6,1034h10.3M1006.7,1028.9v10.3M1011.4,849.3h13.4M1018.1,842.6v13.4M1016.3,948.5h3.6M1018.1,946.7v3.6M1012.1,1002.9h12M1018.1,996.9v12M1012.9,1037.3h10.4M1018.1,1032.1v10.4M1022.8,845.5h13.4M1029.5,838.8v13.4M1027.6,946.9h3.8M1029.5,945v3.8M1023.5,1005h12M1029.5,999v12M1024.2,1040.7h10.6M1029.5,1035.4v10.6M1034.1,841.7h13.4M1040.8,835v13.4M1038.9,945.4h3.9M1040.8,943.4v3.9M1034.8,1007h12M1040.8,1001v12M1035.5,1044.3h10.8M1040.8,1038.9v10.8M1045.5,837.9h13.4M1052.2,831.2v13.4M1050.2,943.9h4M1052.2,941.9v4M1046.2,1008.7h12M1052.2,1002.7v12M1046.8,1047.9h10.9M1052.2,1042.4v10.9M1056.9,834.1h13.4M1063.6,827.4v13.4M1061.5,942.4h4.2M1063.6,940.3v4.2M1057.6,1010.3h12M1063.6,1004.3v12M1058.1,1051.5h11.1M1063.6,1046v11.1M1068.2,830.3h13.5M1075,823.6v13.5M1072.8,941h4.3M1075,938.8v4.3M1069,1011.8h12M1075,1005.8v12M1069.4,1055.3h11.2M1075,1049.7v11.2M1079.6,826.5h13.5M1086.3,819.8v13.5M1084.1,939.5h4.4M1086.3,937.3v4.4M1080.3,1013.2h12M1086.3,1007.2v12M1080.7,1059h11.3M1086.3,1053.4v11.3M1090.9,822.7h13.5M1097.7,816v13.5M1095.4,938h4.6M1097.7,935.8v4.6M1091.7,1014.5h12M1097.7,1008.5v12M1092,1062.9h11.5M1097.7,1057.1v11.5M1102.3,819h13.5M1109.1,812.2v13.5M1106.7,936.6h4.7M1109.1,934.3v4.7M1103.1,1015.7h12M1109.1,1009.7v12M1103.2,1066.7h11.6M1109.1,1060.9v11.6M1113.7,815.2h13.6M1120.4,808.4v13.6M1118,935.2h4.8M1120.4,932.8v4.8M1114.4,1017h12M1120.4,1011v12M1114.5,1070.5h11.8M1120.4,1064.6v11.8M1125,811.4h13.6M1131.8,804.6v13.6M1129.3,933.7h5M1131.8,931.3v5M1125.8,1018.3h12M1131.8,1012.3v12M1125.8,1074.3h11.9M1131.8,1068.3v11.9M1136.4,807.5h13.6M1143.2,800.7v13.6M1140.6,932.3h5.1M1143.2,929.8v5.1M1137.2,1019.6h12M1143.2,1013.6v12M1137.2,1078.1h12M1143.2,1072.1v12M1147.7,803.7h13.6M1154.5,796.9v13.6M1151.9,930.9h5.3M1154.5,928.3v5.3M1148.5,1021h12M1154.5,1015v12M1148.5,1081.8h12.1M1154.5,1075.8v12.1M1159.1,799.9h13.7M1165.9,793.1v13.7M1163.2,929.5h5.4M1165.9,926.8v5.4M1159.9,1022.4h12M1165.9,1016.4v12M1159.8,1085.5h12.2M1165.9,1079.5v12.2M1170.4,796.1h13.7M1177.3,789.3v13.7M1174.5,928.2h5.6M1177.3,925.4v5.6M1171.3,1023.8h12M1177.3,1017.8v12M1171.2,1089.3h12.2M1177.3,1083.2v12.2M1181.8,792.3h13.7M1188.7,785.4v13.7M1185.8,926.8h5.7M1188.7,923.9v5.7M1182.7,1025.3h12M1188.7,1019.3v12M1182.5,1093h12.3M1188.7,1086.9v12.3M1193.2,788.5h13.7M1200,781.6v13.7M1197.1,925.4h5.9M1200,922.5v5.9M1194,1026.7h12M1200,1020.7v12M1193.9,1096.8h12.3M1200,1090.6v12.3M1204.5,784.7h13.8M1211.4,777.8v13.8M1208.4,924.1h6M1211.4,921.1v6M1205.4,1028.2h12M1211.4,1022.2v12M1205.2,1100.6h12.4M1211.4,1094.4v12.4M1215.9,780.8h13.8M1222.8,773.9v13.8M1219.7,922.8h6.2M1222.8,919.7v6.2M1216.8,1029.7h12M1222.8,1023.7v12M1216.5,1104.4h12.5M1222.8,1098.1v12.5M1227.2,777h13.8M1234.1,770.1v13.8M1231,921.5h6.4M1234.1,918.3v6.4M1228.1,1031.1h12M1234.1,1025.1v12M1227.9,1108.2h12.5M1234.1,1101.9v12.5M1238.6,773.2h13.8M1245.5,766.3v13.8M1242.3,920.2h6.5M1245.5,916.9v6.5M1239.5,1032.6h12M1245.5,1026.6v12M1239.2,1112h12.6M1245.5,1105.7v12.6M1250,769.4h13.9M1256.9,762.4v13.9M1253.5,918.9h6.7M1256.9,915.5v6.7M1250.9,1034.1h12M1256.9,1028.1v12M1250.6,1115.8h12.6M1256.9,1109.5v12.6M1261.3,765.5h13.9M1268.2,758.6v13.9M1264.8,917.6h6.8M1268.2,914.2v6.8M1262.2,1035.6h12M1268.2,1029.6v12M1261.9,1119.7h12.7M1268.2,1113.3v12.7M1272.7,761.7h13.9M1279.6,754.7v13.9M1276.1,916.4h7M1279.6,912.9v7M1273.6,1037.1h12M1279.6,1031.1v12M1273.2,1123.6h12.8M1279.6,1117.2v12.8M1284,757.9h13.9M1291,750.9v13.9M1287.4,915.1h7.1M1291,911.6v7.1M1285,1038.6h12M1291,1032.6v12M1284.6,1127.5h12.8M1291,1121v12.8M1295.4,754h14M1302.4,747v14M1298.7,913.9h7.3M1302.4,910.3v7.3M1296.4,1040.2h12M1302.4,1034.2v12M1295.9,1131.4h12.9M1302.4,1124.9v12.9M1306.7,750.2h14M1313.7,743.2v14M1310,912.7h7.4M1313.7,909v7.4M1307.7,1041.7h12M1313.7,1035.7v12M1307.3,1135.3h12.9M1313.7,1128.8v12.9M1318.1,746.3h14M1325.1,739.3v14M1321.3,911.6h7.6M1325.1,907.8v7.6M1319.1,1043.3h12M1325.1,1037.3v12M1318.6,1139.2h13M1325.1,1132.7v13" stroke="#111" stroke-width="1.5" fill="none"/>
<g fill="#ee4242"><circle cx="768" cy="924.7" r="2"/><circle cx="779.3" cy="922.7" r="2.1"/><circle cx="790.7" cy="920.4" r="2.1"/><circle cx="802.1" cy="917.8" r="2.2"/><circle cx="813.5" cy="914.9" r="2.3"/><circle cx="824.8" cy="911.8" r="2.3"/><circle cx="836.2" cy="908.7" r="2.4"/><circle cx="847.6" cy="905.5" r="2.4"/><circle cx="858.9" cy="902" r="2.5"/><circle cx="870.3" cy="898.4" r="2.5"/><circle cx="881.7" cy="894.7" r="2.6"/><circle cx="893" cy="890.9" r="2.6"/><circle cx="904.4" cy="887.1" r="2.6"/><circle cx="915.8" cy="883.3" r="2.7"/><circle cx="927.1" cy="879.5" r="2.7"/><circle cx="938.5" cy="875.8" r="2.8"/><circle cx="949.9" cy="872" r="2.8"/><circle cx="961.3" cy="868.2" r="2.8"/><circle cx="972.6" cy="864.4" r="2.8"/><circle cx="984" cy="860.6" r="2.8"/><circle cx="995.4" cy="856.8" r="2.9"/><circle cx="1006.7" cy="853.1" r="2.9"/><circle cx="1018.1" cy="849.3" r="2.9"/><circle cx="1029.5" cy="845.5" r="2.9"/><circle cx="1040.8" cy="841.7" r="2.9"/><circle cx="1052.2" cy="837.9" r="2.9"/><circle cx="1063.6" cy="834.1" r="2.9"/><circle cx="1075" cy="830.3" r="2.9"/><circle cx="1086.3" cy="826.5" r="2.9"/><circle cx="1097.7" cy="822.7" r="3"/><circle cx="1109.1" cy="819" r="3"/><circle cx="1120.4" cy="815.2" r="3"/><circle cx="1131.8" cy="811.4" r="3"/><circle cx="1143.2" cy="807.5" r="3"/><circle cx="1154.5" cy="803.7" r="3"/><circle cx="1165.9" cy="799.9" r="3"/><circle cx="1177.3" cy="796.1" r="3"/><circle cx="1188.7" cy="792.3" r="3.1"/><circle cx="1200" cy="788.5" r="3.1"/><circle cx="1211.4" cy="784.7" r="3.1"/><circle cx="1222.8" cy="780.8" r="3.1"/><circle cx="1234.1" cy="777" r="3.1"/><circle cx="1245.5" cy="773.2" r="3.1"/><circle cx="1256.9" cy="769.4" r="3.1"/><circle cx="1268.2" cy="765.5" r="3.1"/><circle cx="1279.6" cy="761.7" r="3.2"/><circle cx="1291" cy="757.9" r="3.2"/><circle cx="1302.4" cy="754" r="3.2"/><circle cx="1313.7" cy="750.2" r="3.2"/><circle cx="1325.1" cy="746.3" r="3.2"/></g>
<rect x="757.7" y="724.4" width="446.5" height="53.4" fill="#fff" stroke="#555" stroke-width="1.2"/>
<circle cx="793.2" cy="751.1" r="6.7" fill="#6ca4ec"/>
<text x="815.5" y="759.5" font-size="23" stroke="#000">X</text>
<text x="832.2" y="767.7" font-size="16" stroke="#000">B</text>
<text x="843.3" y="759.5" font-size="23" stroke="#000">+</text>
<circle cx="911.8" cy="751.1" r="6.7" fill="#ee4242"/>
<text x="948.4" y="759.5" font-size="23" stroke="#000">X</text>
<text x="965.1" y="767.7" font-size="16" stroke="#000">B</text>
<path d="M975,753.4h15" stroke="#000" stroke-width="1.7"/>
<path d="M1013.3,751.1h12M1019.3,745.1v12" stroke="#111" stroke-width="1.5"/>
<text x="1059" y="759.5" font-size="23" stroke="#000">X</text>
<text x="1075.7" y="767.7" font-size="16" stroke="#000">D</text>
<path d="M1124.6,746.6l9,9M1124.6,755.6l9,-9" stroke="#0a8a0a" stroke-width="1.3"/>
<text x="1152" y="759.5" font-size="23" stroke="#000">X</text>
<text x="1168.7" y="767.7" font-size="16" stroke="#000">G</text>
<text x="-2.5" y="22.7" font-size="42" font-weight="bold">a</text>
<text x="-1.2" y="532.3" font-size="42" font-weight="bold">b</text>
<text x="597" y="23" font-size="42" font-weight="bold">c</text>
<text x="597" y="718.1" font-size="42" font-weight="bold">d</text>
<line x1="95.2" y1="401.8" x2="102" y2="401.8" stroke="#000" stroke-width="1.6"/>
<text x="84" y="412.2" font-size="29" text-anchor="end" stroke="#000">0</text>
<line x1="95.2" y1="342.3" x2="102" y2="342.3" stroke="#000" stroke-width="1.6"/>
<text x="84" y="352.7" font-size="29" text-anchor="end" stroke="#000">5</text>
<line x1="95.2" y1="282.8" x2="102" y2="282.8" stroke="#000" stroke-width="1.6"/>
<text x="84" y="293.2" font-size="29" text-anchor="end" stroke="#000">10</text>
<line x1="95.2" y1="223.3" x2="102" y2="223.3" stroke="#000" stroke-width="1.6"/>
<text x="84" y="233.7" font-size="29" text-anchor="end" stroke="#000">15</text>
<line x1="95.2" y1="163.8" x2="102" y2="163.8" stroke="#000" stroke-width="1.6"/>
<text x="84" y="174.2" font-size="29" text-anchor="end" stroke="#000">20</text>
<line x1="95.2" y1="104.3" x2="102" y2="104.3" stroke="#000" stroke-width="1.6"/>
<text x="84" y="114.7" font-size="29" text-anchor="end" stroke="#000">25</text>
<line x1="95.2" y1="44.8" x2="102" y2="44.8" stroke="#000" stroke-width="1.6"/>
<text x="84" y="55.2" font-size="29" text-anchor="end" stroke="#000">30</text>
<line x1="157.9" y1="401" x2="157.9" y2="409.5" stroke="#000" stroke-width="1.8"/>
<text x="158.4" y="436.7" font-size="23" text-anchor="middle" stroke="#000">1.635</text>
<line x1="226.2" y1="401" x2="226.2" y2="409.5" stroke="#000" stroke-width="1.8"/>
<text x="226.8" y="436.7" font-size="23" text-anchor="middle" stroke="#000">1.640</text>
<line x1="294.6" y1="401" x2="294.6" y2="409.5" stroke="#000" stroke-width="1.8"/>
<text x="295.1" y="436.7" font-size="23" text-anchor="middle" stroke="#000">1.645</text>
<line x1="362.9" y1="401" x2="362.9" y2="409.5" stroke="#000" stroke-width="1.8"/>
<text x="363.4" y="436.7" font-size="23" text-anchor="middle" stroke="#000">1.650</text>
<line x1="431.3" y1="401" x2="431.3" y2="409.5" stroke="#000" stroke-width="1.8"/>
<text x="431.8" y="436.7" font-size="23" text-anchor="middle" stroke="#000">1.655</text>
<rect x="102" y="45.2" width="373" height="356.6" fill="none" stroke="#000" stroke-width="1.6"/>
<text x="214" y="31" font-size="29" text-anchor="middle" stroke="#000">1</text>
<text x="258.2" y="31" font-size="29" text-anchor="middle" stroke="#000">2</text>
<text x="311.1" y="31" font-size="29" text-anchor="middle" stroke="#000">3</text>
<text x="374.2" y="31" font-size="29" text-anchor="middle" stroke="#000">4</text>
<text x="298" y="468.3" font-size="25" text-anchor="middle" stroke="#000">Energy (eV)</text>
<text x="0" y="0" font-size="29" text-anchor="middle" stroke="#000" transform="translate(24.9,223.2) rotate(-90)">Magnetic field B (T)</text>
<text x="513.5" y="51" font-size="23" stroke="#000">1</text>
<text x="513.5" y="230" font-size="23" stroke="#000">0.5</text>
<text x="513.5" y="408.5" font-size="23" stroke="#000">0</text>
<path d="M201.8,188.3 L156,233.5" stroke="#1ee61e" stroke-width="2" fill="none"/>
<path d="M146.6,242.9 L155.2,224.9 L165.7,234.4 Z" fill="#1ee61e"/>
<text x="142" y="191.3" font-size="21.5" fill="#1ee61e" stroke="#1ee61e">Laser</text>
<line x1="115.6" y1="249.3" x2="218.8" y2="249.3" stroke="#9090a8" stroke-width="0.9"/>
<g fill="#c0b8dc"><circle cx="115.6" cy="249.3" r="1.5"/><circle cx="128.5" cy="249.3" r="1.5"/><circle cx="141.4" cy="249.3" r="1.5"/><circle cx="154.3" cy="249.3" r="1.5"/><circle cx="167.2" cy="249.3" r="1.5"/><circle cx="180.1" cy="249.3" r="1.5"/><circle cx="193" cy="249.3" r="1.5"/><circle cx="205.9" cy="249.3" r="1.5"/><circle cx="218.8" cy="249.3" r="1.5"/></g>
<g fill="#2eb82e"><circle cx="122" cy="249.3" r="1.5"/><circle cx="134.9" cy="249.3" r="1.5"/><circle cx="147.8" cy="249.3" r="1.5"/><circle cx="160.8" cy="249.3" r="1.5"/><circle cx="173.7" cy="249.3" r="1.5"/><circle cx="186.6" cy="249.3" r="1.5"/><circle cx="199.4" cy="249.3" r="1.5"/><circle cx="212.3" cy="249.3" r="1.5"/></g>
<line x1="115.6" y1="255.5" x2="218.8" y2="255.5" stroke="#9090a8" stroke-width="0.9"/>
<g fill="#c0b8dc"><circle cx="115.6" cy="255.5" r="1.5"/><circle cx="128.5" cy="255.5" r="1.5"/><circle cx="141.4" cy="255.5" r="1.5"/><circle cx="154.3" cy="255.5" r="1.5"/><circle cx="167.2" cy="255.5" r="1.5"/><circle cx="180.1" cy="255.5" r="1.5"/><circle cx="193" cy="255.5" r="1.5"/><circle cx="205.9" cy="255.5" r="1.5"/><circle cx="218.8" cy="255.5" r="1.5"/></g>
<g fill="#2eb82e"><circle cx="122" cy="255.5" r="1.5"/><circle cx="134.9" cy="255.5" r="1.5"/><circle cx="147.8" cy="255.5" r="1.5"/><circle cx="160.8" cy="255.5" r="1.5"/><circle cx="173.7" cy="255.5" r="1.5"/><circle cx="186.6" cy="255.5" r="1.5"/><circle cx="199.4" cy="255.5" r="1.5"/><circle cx="212.3" cy="255.5" r="1.5"/></g>
<line x1="115.6" y1="285.4" x2="218.8" y2="285.4" stroke="#9090a8" stroke-width="0.9"/>
<g fill="#c0b8dc"><circle cx="115.6" cy="285.4" r="1.5"/><circle cx="128.5" cy="285.4" r="1.5"/><circle cx="141.4" cy="285.4" r="1.5"/><circle cx="154.3" cy="285.4" r="1.5"/><circle cx="167.2" cy="285.4" r="1.5"/><circle cx="180.1" cy="285.4" r="1.5"/><circle cx="193" cy="285.4" r="1.5"/><circle cx="205.9" cy="285.4" r="1.5"/><circle cx="218.8" cy="285.4" r="1.5"/></g>
<g fill="#2eb82e"><circle cx="122" cy="285.4" r="1.5"/><circle cx="134.9" cy="285.4" r="1.5"/><circle cx="147.8" cy="285.4" r="1.5"/><circle cx="160.8" cy="285.4" r="1.5"/><circle cx="173.7" cy="285.4" r="1.5"/><circle cx="186.6" cy="285.4" r="1.5"/><circle cx="199.4" cy="285.4" r="1.5"/><circle cx="212.3" cy="285.4" r="1.5"/></g>
<line x1="115.6" y1="291.6" x2="218.8" y2="291.6" stroke="#9090a8" stroke-width="0.9"/>
<g fill="#c0b8dc"><circle cx="115.6" cy="291.6" r="1.5"/><circle cx="128.5" cy="291.6" r="1.5"/><circle cx="141.4" cy="291.6" r="1.5"/><circle cx="154.3" cy="291.6" r="1.5"/><circle cx="167.2" cy="291.6" r="1.5"/><circle cx="180.1" cy="291.6" r="1.5"/><circle cx="193" cy="291.6" r="1.5"/><circle cx="205.9" cy="291.6" r="1.5"/><circle cx="218.8" cy="291.6" r="1.5"/></g>
<g fill="#2eb82e"><circle cx="122" cy="291.6" r="1.5"/><circle cx="134.9" cy="291.6" r="1.5"/><circle cx="147.8" cy="291.6" r="1.5"/><circle cx="160.8" cy="291.6" r="1.5"/><circle cx="173.7" cy="291.6" r="1.5"/><circle cx="186.6" cy="291.6" r="1.5"/><circle cx="199.4" cy="291.6" r="1.5"/><circle cx="212.3" cy="291.6" r="1.5"/></g>
<path d="M116.3,261.9L124.5,270.3L133.2,279.2M133.2,261.9L124.5,270.3L116.3,279.2M124.7,261.9L133,270.3L141.6,279.2M141.6,261.9L133,270.3L124.7,279.2M133.2,261.9L141.4,270.3L150,279.2M150,261.9L141.4,270.3L133.2,279.2M141.6,261.9L149.9,270.3L158.4,279.2M158.4,261.9L149.9,270.3L141.6,279.2M150,261.9L158.4,270.3L166.9,279.2M166.9,261.9L158.4,270.3L150,279.2M158.4,261.9L166.8,270.3L175.3,279.2M175.3,261.9L166.8,270.3L158.4,279.2M166.9,261.9L175.3,270.3L183.7,279.2M183.7,261.9L175.3,270.3L166.9,279.2M175.3,261.9L183.8,270.3L192.2,279.2M192.2,261.9L183.8,270.3L175.3,279.2M183.7,261.9L192.3,270.3L200.6,279.2M200.6,261.9L192.3,270.3L183.7,279.2M192.2,261.9L200.7,270.3L209,279.2M209,261.9L200.7,270.3L192.2,279.2M200.6,261.9L209.2,270.3L217.5,279.2M217.5,261.9L209.2,270.3L200.6,279.2" stroke="#8cc83c" stroke-width="0.9" fill="none"/>
<path d="M124.5,262L124.5,279M133,262L133,279M141.4,262L141.4,279M149.9,262L149.9,279M158.4,262L158.4,279M166.8,262L166.8,279M175.3,262L175.3,279M183.8,262L183.8,279M192.3,262L192.3,279M200.7,262L200.7,279M209.2,262L209.2,279" stroke="#b090b0" stroke-width="0.9" fill="none"/>
<g fill="#b8e040"><circle cx="116.3" cy="261.9" r="1.9"/><circle cx="116.3" cy="279.2" r="1.9"/><circle cx="124.7" cy="261.9" r="1.9"/><circle cx="124.7" cy="279.2" r="1.9"/><circle cx="133.2" cy="261.9" r="1.9"/><circle cx="133.2" cy="279.2" r="1.9"/><circle cx="141.6" cy="261.9" r="1.9"/><circle cx="141.6" cy="279.2" r="1.9"/><circle cx="150" cy="261.9" r="1.9"/><circle cx="150" cy="279.2" r="1.9"/><circle cx="158.4" cy="261.9" r="1.9"/><circle cx="158.4" cy="279.2" r="1.9"/><circle cx="166.9" cy="261.9" r="1.9"/><circle cx="166.9" cy="279.2" r="1.9"/><circle cx="175.3" cy="261.9" r="1.9"/><circle cx="175.3" cy="279.2" r="1.9"/><circle cx="183.7" cy="261.9" r="1.9"/><circle cx="183.7" cy="279.2" r="1.9"/><circle cx="192.2" cy="261.9" r="1.9"/><circle cx="192.2" cy="279.2" r="1.9"/><circle cx="200.6" cy="261.9" r="1.9"/><circle cx="200.6" cy="279.2" r="1.9"/><circle cx="209" cy="261.9" r="1.9"/><circle cx="209" cy="279.2" r="1.9"/><circle cx="217.5" cy="261.9" r="1.9"/><circle cx="217.5" cy="279.2" r="1.9"/></g>
<g fill="#c8a0c8"><rect x="122.7" y="268.5" width="3.6" height="3.6"/><rect x="131.2" y="268.5" width="3.6" height="3.6"/><rect x="139.6" y="268.5" width="3.6" height="3.6"/><rect x="148.1" y="268.5" width="3.6" height="3.6"/><rect x="156.6" y="268.5" width="3.6" height="3.6"/><rect x="165" y="268.5" width="3.6" height="3.6"/><rect x="173.5" y="268.5" width="3.6" height="3.6"/><rect x="182" y="268.5" width="3.6" height="3.6"/><rect x="190.5" y="268.5" width="3.6" height="3.6"/><rect x="198.9" y="268.5" width="3.6" height="3.6"/><rect x="207.4" y="268.5" width="3.6" height="3.6"/></g>
<text x="222.6" y="257.6" font-size="17" fill="#e6d81e" stroke="#e6d81e">hBN</text>
<text x="222.6" y="272.8" font-size="17" fill="#e6d81e" stroke="#e6d81e">MoSe</text>
<text x="265.4" y="278" font-size="11.5" fill="#e6d81e" stroke="#e6d81e">2</text>
<text x="222.6" y="292.2" font-size="17" fill="#e6d81e" stroke="#e6d81e">hBN</text>
<path d="M217.4,311.2 L163,311.2" stroke="#e8e8e8" stroke-width="1.3" fill="none"/>
<path d="M151.1,311.3 L165.1,306.2 L162.5,311.3 L165.1,316.6 Z" fill="#fff"/>
<path d="M217.6,311.2 L217.6,366" stroke="#b0b0b0" stroke-width="1.3" fill="none"/>
<path d="M217.9,378.3 L212.6,364 L217.9,366.5 L223.4,364 Z" fill="#fff"/>
<path d="M216.5,312 L162,366.5" stroke="#fff" stroke-width="1.4" stroke-dasharray="3,1.8" fill="none"/>
<path d="M151.1,378.8 L159.4,359.6 L162.8,366.8 L170.4,369.6 Z" fill="#fff"/>
<text x="127.5" y="323" font-size="21" fill="#fff" stroke="#fff">B</text>
<text x="141.5" y="326.6" font-size="11" fill="#fff" stroke="#fff"><tspan font-style="italic">//</tspan></text>
<text x="133.3" y="371.7" font-size="20" fill="#fff" stroke="#fff">B</text>
<text x="224" y="386.2" font-size="20" fill="#fff" stroke="#fff">B</text>
<text x="237" y="390.3" font-size="13" fill="#e0e0f0" stroke="#e0e0f0">Z</text>
<line x1="141.3" y1="521.5" x2="145.2" y2="521.5" stroke="#000" stroke-width="1.4"/>
<line x1="141.3" y1="558.3" x2="145.2" y2="558.3" stroke="#000" stroke-width="1.4"/>
<line x1="141.3" y1="595.1" x2="145.2" y2="595.1" stroke="#000" stroke-width="1.4"/>
<line x1="141.3" y1="632" x2="145.2" y2="632" stroke="#000" stroke-width="1.4"/>
<line x1="141.3" y1="668.8" x2="145.2" y2="668.8" stroke="#000" stroke-width="1.4"/>
<line x1="196.8" y1="668.8" x2="196.8" y2="673.5" stroke="#000" stroke-width="1.2"/>
<line x1="248.5" y1="668.8" x2="248.5" y2="673.5" stroke="#000" stroke-width="1.2"/>
<line x1="300.1" y1="668.8" x2="300.1" y2="673.5" stroke="#000" stroke-width="1.2"/>
<line x1="351.8" y1="668.8" x2="351.8" y2="673.5" stroke="#000" stroke-width="1.2"/>
<line x1="403.4" y1="668.8" x2="403.4" y2="673.5" stroke="#000" stroke-width="1.2"/>
<line x1="141.3" y1="668.8" x2="145.2" y2="668.8" stroke="#000" stroke-width="1.4"/>
<line x1="141.3" y1="705.6" x2="145.2" y2="705.6" stroke="#000" stroke-width="1.4"/>
<line x1="141.3" y1="742.5" x2="145.2" y2="742.5" stroke="#000" stroke-width="1.4"/>
<line x1="141.3" y1="779.4" x2="145.2" y2="779.4" stroke="#000" stroke-width="1.4"/>
<line x1="141.3" y1="816.2" x2="145.2" y2="816.2" stroke="#000" stroke-width="1.4"/>
<line x1="196.8" y1="816.2" x2="196.8" y2="820.9" stroke="#000" stroke-width="1.2"/>
<line x1="248.5" y1="816.2" x2="248.5" y2="820.9" stroke="#000" stroke-width="1.2"/>
<line x1="300.1" y1="816.2" x2="300.1" y2="820.9" stroke="#000" stroke-width="1.2"/>
<line x1="351.8" y1="816.2" x2="351.8" y2="820.9" stroke="#000" stroke-width="1.2"/>
<line x1="403.4" y1="816.2" x2="403.4" y2="820.9" stroke="#000" stroke-width="1.2"/>
<line x1="141.3" y1="816.2" x2="145.2" y2="816.2" stroke="#000" stroke-width="1.4"/>
<line x1="141.3" y1="853.1" x2="145.2" y2="853.1" stroke="#000" stroke-width="1.4"/>
<line x1="141.3" y1="889.9" x2="145.2" y2="889.9" stroke="#000" stroke-width="1.4"/>
<line x1="141.3" y1="926.8" x2="145.2" y2="926.8" stroke="#000" stroke-width="1.4"/>
<line x1="141.3" y1="963.6" x2="145.2" y2="963.6" stroke="#000" stroke-width="1.4"/>
<line x1="196.8" y1="963.6" x2="196.8" y2="968.3" stroke="#000" stroke-width="1.2"/>
<line x1="248.5" y1="963.6" x2="248.5" y2="968.3" stroke="#000" stroke-width="1.2"/>
<line x1="300.1" y1="963.6" x2="300.1" y2="968.3" stroke="#000" stroke-width="1.2"/>
<line x1="351.8" y1="963.6" x2="351.8" y2="968.3" stroke="#000" stroke-width="1.2"/>
<line x1="403.4" y1="963.6" x2="403.4" y2="968.3" stroke="#000" stroke-width="1.2"/>
<line x1="141.3" y1="963.6" x2="145.2" y2="963.6" stroke="#000" stroke-width="1.4"/>
<line x1="141.3" y1="1000.5" x2="145.2" y2="1000.5" stroke="#000" stroke-width="1.4"/>
<line x1="141.3" y1="1037.3" x2="145.2" y2="1037.3" stroke="#000" stroke-width="1.4"/>
<line x1="141.3" y1="1074.2" x2="145.2" y2="1074.2" stroke="#000" stroke-width="1.4"/>
<line x1="141.3" y1="1111" x2="145.2" y2="1111" stroke="#000" stroke-width="1.4"/>
<line x1="196.8" y1="1111" x2="196.8" y2="1115.7" stroke="#000" stroke-width="1.2"/>
<line x1="248.5" y1="1111" x2="248.5" y2="1115.7" stroke="#000" stroke-width="1.2"/>
<line x1="300.1" y1="1111" x2="300.1" y2="1115.7" stroke="#000" stroke-width="1.2"/>
<line x1="351.8" y1="1111" x2="351.8" y2="1115.7" stroke="#000" stroke-width="1.2"/>
<line x1="403.4" y1="1111" x2="403.4" y2="1115.7" stroke="#000" stroke-width="1.2"/>
<line x1="141.3" y1="1111" x2="145.2" y2="1111" stroke="#000" stroke-width="1.4"/>
<line x1="141.3" y1="1147.8" x2="145.2" y2="1147.8" stroke="#000" stroke-width="1.4"/>
<line x1="141.3" y1="1184.7" x2="145.2" y2="1184.7" stroke="#000" stroke-width="1.4"/>
<line x1="141.3" y1="1221.6" x2="145.2" y2="1221.6" stroke="#000" stroke-width="1.4"/>
<line x1="141.3" y1="1258.4" x2="145.2" y2="1258.4" stroke="#000" stroke-width="1.4"/>
<line x1="196.8" y1="1258.4" x2="196.8" y2="1263.1" stroke="#000" stroke-width="1.2"/>
<line x1="248.5" y1="1258.4" x2="248.5" y2="1263.1" stroke="#000" stroke-width="1.2"/>
<line x1="300.1" y1="1258.4" x2="300.1" y2="1263.1" stroke="#000" stroke-width="1.2"/>
<line x1="351.8" y1="1258.4" x2="351.8" y2="1263.1" stroke="#000" stroke-width="1.2"/>
<line x1="403.4" y1="1258.4" x2="403.4" y2="1263.1" stroke="#000" stroke-width="1.2"/>
<rect x="145.2" y="521.5" width="309.6" height="147.3" fill="none" stroke="#000" stroke-width="1.7"/>
<rect x="145.2" y="668.8" width="309.6" height="147.4" fill="none" stroke="#000" stroke-width="1.7"/>
<rect x="145.2" y="816.2" width="309.6" height="147.4" fill="none" stroke="#000" stroke-width="1.7"/>
<rect x="145.2" y="963.6" width="309.6" height="147.4" fill="none" stroke="#000" stroke-width="1.7"/>
<rect x="145.2" y="1111.0" width="309.6" height="147.4" fill="none" stroke="#000" stroke-width="1.7"/>
<text x="198.5" y="1296.6" font-size="29" text-anchor="middle" stroke="#000">1.63</text>
<text x="301.2" y="1296.6" font-size="29" text-anchor="middle" stroke="#000">1.64</text>
<text x="404" y="1296.6" font-size="29" text-anchor="middle" stroke="#000">1.65</text>
<text x="298" y="1338" font-size="29" text-anchor="middle" stroke="#000">Energy (eV)</text>
<text x="0" y="0" font-size="29" text-anchor="middle" stroke="#000" transform="translate(121.5,891) rotate(-90)">Normalized intensity</text>
<line x1="733.3" y1="46.3" x2="1349.5" y2="46.3" stroke="#000" stroke-width="1.5"/>
<line x1="1349.5" y1="46.3" x2="1349.5" y2="538.8" stroke="#000" stroke-width="1.5"/>
<line x1="739.5" y1="46.3" x2="739.5" y2="538.8" stroke="#000" stroke-width="1.8"/>
<line x1="733.3" y1="538.8" x2="1349.5" y2="538.8" stroke="#000" stroke-width="1.8"/>
<line x1="728.8" y1="80.4" x2="739.5" y2="80.4" stroke="#000" stroke-width="1.6"/>
<text x="717.5" y="91.7" font-size="29" text-anchor="end" stroke="#000">1.646</text>
<line x1="733.3" y1="115.7" x2="739.5" y2="115.7" stroke="#000" stroke-width="1.6"/>
<line x1="728.8" y1="150.9" x2="739.5" y2="150.9" stroke="#000" stroke-width="1.6"/>
<text x="717.5" y="162.2" font-size="29" text-anchor="end" stroke="#000">1.644</text>
<line x1="733.3" y1="186.2" x2="739.5" y2="186.2" stroke="#000" stroke-width="1.6"/>
<line x1="728.8" y1="221.5" x2="739.5" y2="221.5" stroke="#000" stroke-width="1.6"/>
<text x="717.5" y="232.8" font-size="29" text-anchor="end" stroke="#000">1.642</text>
<line x1="733.3" y1="256.8" x2="739.5" y2="256.8" stroke="#000" stroke-width="1.6"/>
<line x1="728.8" y1="292" x2="739.5" y2="292" stroke="#000" stroke-width="1.6"/>
<text x="717.5" y="303.3" font-size="29" text-anchor="end" stroke="#000">1.640</text>
<line x1="733.3" y1="327.3" x2="739.5" y2="327.3" stroke="#000" stroke-width="1.6"/>
<line x1="728.8" y1="362.6" x2="739.5" y2="362.6" stroke="#000" stroke-width="1.6"/>
<text x="717.5" y="373.9" font-size="29" text-anchor="end" stroke="#000">1.638</text>
<line x1="733.3" y1="397.9" x2="739.5" y2="397.9" stroke="#000" stroke-width="1.6"/>
<line x1="728.8" y1="433.1" x2="739.5" y2="433.1" stroke="#000" stroke-width="1.6"/>
<text x="717.5" y="444.4" font-size="29" text-anchor="end" stroke="#000">1.636</text>
<line x1="733.3" y1="468.4" x2="739.5" y2="468.4" stroke="#000" stroke-width="1.6"/>
<line x1="728.8" y1="503.7" x2="739.5" y2="503.7" stroke="#000" stroke-width="1.6"/>
<text x="717.5" y="515" font-size="29" text-anchor="end" stroke="#000">1.634</text>
<line x1="757.7" y1="538.8" x2="757.7" y2="548.8" stroke="#000" stroke-width="1.6"/>
<text x="757.7" y="582" font-size="29" text-anchor="middle" stroke="#000">0</text>
<line x1="805.5" y1="538.8" x2="805.5" y2="544.3" stroke="#000" stroke-width="1.6"/>
<line x1="853.3" y1="538.8" x2="853.3" y2="548.8" stroke="#000" stroke-width="1.6"/>
<text x="853.3" y="582" font-size="29" text-anchor="middle" stroke="#000">5</text>
<line x1="901.1" y1="538.8" x2="901.1" y2="544.3" stroke="#000" stroke-width="1.6"/>
<line x1="948.9" y1="538.8" x2="948.9" y2="548.8" stroke="#000" stroke-width="1.6"/>
<text x="948.9" y="582" font-size="29" text-anchor="middle" stroke="#000">10</text>
<line x1="996.7" y1="538.8" x2="996.7" y2="544.3" stroke="#000" stroke-width="1.6"/>
<line x1="1044.5" y1="538.8" x2="1044.5" y2="548.8" stroke="#000" stroke-width="1.6"/>
<text x="1044.5" y="582" font-size="29" text-anchor="middle" stroke="#000">15</text>
<line x1="1092.3" y1="538.8" x2="1092.3" y2="544.3" stroke="#000" stroke-width="1.6"/>
<line x1="1140.1" y1="538.8" x2="1140.1" y2="548.8" stroke="#000" stroke-width="1.6"/>
<text x="1140.1" y="582" font-size="29" text-anchor="middle" stroke="#000">20</text>
<line x1="1187.9" y1="538.8" x2="1187.9" y2="544.3" stroke="#000" stroke-width="1.6"/>
<line x1="1235.7" y1="538.8" x2="1235.7" y2="548.8" stroke="#000" stroke-width="1.6"/>
<text x="1235.7" y="582" font-size="29" text-anchor="middle" stroke="#000">25</text>
<line x1="1283.5" y1="538.8" x2="1283.5" y2="544.3" stroke="#000" stroke-width="1.6"/>
<line x1="1331.3" y1="538.8" x2="1331.3" y2="548.8" stroke="#000" stroke-width="1.6"/>
<text x="1331.3" y="582" font-size="29" text-anchor="middle" stroke="#000">30</text>
<text x="1040" y="622.5" font-size="29" text-anchor="middle" stroke="#000">Magnetic field B (T)</text>
<text x="0" y="0" font-size="29" text-anchor="middle" stroke="#000" transform="translate(622.8,297.2) rotate(-90)">Energy (eV)</text>
<rect x="737.8" y="705.6" width="607" height="474.3" fill="none" stroke="#555" stroke-width="1.4"/>
<line x1="737.8" y1="739.5" x2="744.3" y2="739.5" stroke="#555" stroke-width="1.3"/>
<line x1="1338.3" y1="739.5" x2="1344.8" y2="739.5" stroke="#555" stroke-width="1.3"/>
<text x="725.5" y="749.5" font-size="29" text-anchor="end" stroke="#000">1.646</text>
<line x1="737.8" y1="807.3" x2="744.3" y2="807.3" stroke="#555" stroke-width="1.3"/>
<line x1="1338.3" y1="807.3" x2="1344.8" y2="807.3" stroke="#555" stroke-width="1.3"/>
<text x="725.5" y="817.3" font-size="29" text-anchor="end" stroke="#000">1.644</text>
<line x1="737.8" y1="875.1" x2="744.3" y2="875.1" stroke="#555" stroke-width="1.3"/>
<line x1="1338.3" y1="875.1" x2="1344.8" y2="875.1" stroke="#555" stroke-width="1.3"/>
<text x="725.5" y="885.1" font-size="29" text-anchor="end" stroke="#000">1.642</text>
<line x1="737.8" y1="942.8" x2="744.3" y2="942.8" stroke="#555" stroke-width="1.3"/>
<line x1="1338.3" y1="942.8" x2="1344.8" y2="942.8" stroke="#555" stroke-width="1.3"/>
<text x="725.5" y="952.8" font-size="29" text-anchor="end" stroke="#000">1.640</text>
<line x1="737.8" y1="1010.6" x2="744.3" y2="1010.6" stroke="#555" stroke-width="1.3"/>
<line x1="1338.3" y1="1010.6" x2="1344.8" y2="1010.6" stroke="#555" stroke-width="1.3"/>
<text x="725.5" y="1020.6" font-size="29" text-anchor="end" stroke="#000">1.638</text>
<line x1="737.8" y1="1078.4" x2="744.3" y2="1078.4" stroke="#555" stroke-width="1.3"/>
<line x1="1338.3" y1="1078.4" x2="1344.8" y2="1078.4" stroke="#555" stroke-width="1.3"/>
<text x="725.5" y="1088.4" font-size="29" text-anchor="end" stroke="#000">1.636</text>
<line x1="737.8" y1="1146.2" x2="744.3" y2="1146.2" stroke="#555" stroke-width="1.3"/>
<line x1="1338.3" y1="1146.2" x2="1344.8" y2="1146.2" stroke="#555" stroke-width="1.3"/>
<text x="725.5" y="1156.2" font-size="29" text-anchor="end" stroke="#000">1.634</text>
<line x1="756.6" y1="1173.4" x2="756.6" y2="1179.9" stroke="#555" stroke-width="1.3"/>
<line x1="756.6" y1="705.6" x2="756.6" y2="712.1" stroke="#555" stroke-width="1.3"/>
<text x="756.6" y="1213.2" font-size="29" text-anchor="middle" stroke="#000">0</text>
<line x1="851.4" y1="1173.4" x2="851.4" y2="1179.9" stroke="#555" stroke-width="1.3"/>
<line x1="851.4" y1="705.6" x2="851.4" y2="712.1" stroke="#555" stroke-width="1.3"/>
<text x="851.4" y="1213.2" font-size="29" text-anchor="middle" stroke="#000">5</text>
<line x1="946.1" y1="1173.4" x2="946.1" y2="1179.9" stroke="#555" stroke-width="1.3"/>
<line x1="946.1" y1="705.6" x2="946.1" y2="712.1" stroke="#555" stroke-width="1.3"/>
<text x="946.1" y="1213.2" font-size="29" text-anchor="middle" stroke="#000">10</text>
<line x1="1040.8" y1="1173.4" x2="1040.8" y2="1179.9" stroke="#555" stroke-width="1.3"/>
<line x1="1040.8" y1="705.6" x2="1040.8" y2="712.1" stroke="#555" stroke-width="1.3"/>
<text x="1040.8" y="1213.2" font-size="29" text-anchor="middle" stroke="#000">15</text>
<line x1="1135.6" y1="1173.4" x2="1135.6" y2="1179.9" stroke="#555" stroke-width="1.3"/>
<line x1="1135.6" y1="705.6" x2="1135.6" y2="712.1" stroke="#555" stroke-width="1.3"/>
<text x="1135.6" y="1213.2" font-size="29" text-anchor="middle" stroke="#000">20</text>
<line x1="1230.3" y1="1173.4" x2="1230.3" y2="1179.9" stroke="#555" stroke-width="1.3"/>
<line x1="1230.3" y1="705.6" x2="1230.3" y2="712.1" stroke="#555" stroke-width="1.3"/>
<text x="1230.3" y="1213.2" font-size="29" text-anchor="middle" stroke="#000">25</text>
<line x1="1325.1" y1="1173.4" x2="1325.1" y2="1179.9" stroke="#555" stroke-width="1.3"/>
<line x1="1325.1" y1="705.6" x2="1325.1" y2="712.1" stroke="#555" stroke-width="1.3"/>
<text x="1325.1" y="1213.2" font-size="29" text-anchor="middle" stroke="#000">30</text>
<text x="1041" y="1259.9" font-size="29" text-anchor="middle" stroke="#000">Magnetic field B(T)</text>
<text x="0" y="0" font-size="29" text-anchor="middle" stroke="#000" transform="translate(630.5,942.4) rotate(-90)">Energy (eV)</text>
</svg></body></html>
